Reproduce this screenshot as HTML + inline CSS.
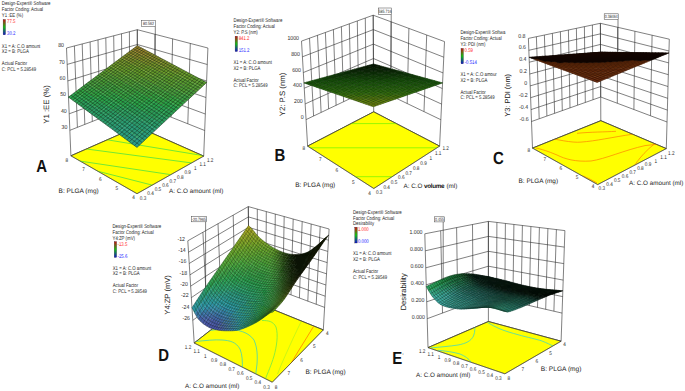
<!DOCTYPE html>
<html><head><meta charset="utf-8"><style>
html,body{margin:0;padding:0;background:#fff;}
svg{display:block;font-family:"Liberation Sans",sans-serif;text-rendering:geometricPrecision;}
</style></head><body>
<svg width="685" height="391" viewBox="0 0 685 391">
<rect width="685" height="391" fill="#fff"/>
<defs><linearGradient id="cbar" x1="0" y1="0" x2="0" y2="1"><stop offset="0" stop-color="#d01010"/><stop offset="0.5" stop-color="#10c010"/><stop offset="1" stop-color="#1010d0"/></linearGradient></defs>
<path d="M69.9 130.3L137.3 103.7M137.3 103.7L204.7 130.5M69.2 113.8L137.3 88.9M137.3 88.9L205.3 114M68.5 97.3L137.3 74.1M137.3 74.1L206 97.5M67.8 80.9L137.3 59.3M137.3 59.3L206.6 81M67.2 64.4L137.3 44.5M137.3 44.5L207.3 64.5M66.5 48L137.3 29.7M137.3 29.7L207.9 48M70.9 155.8L66.5 48M77.4 127.3L74.4 45.9M84.8 124.3L82.2 43.9M92.3 121.4L90.1 41.9M99.8 118.4L98 39.8M107.3 115.5L105.8 37.8M114.8 112.5L113.7 35.8M122.3 109.6L121.5 33.7M129.8 106.6L129.4 31.7M137.3 103.7L137.3 29.7M137.3 126.6L137.3 29.7M154.2 110.4L154.9 34.2M171 117.1L172.6 38.8M187.8 123.8L190.3 43.4M203.7 156.1L207.9 48M70.9 155.8L137.3 126.6M137.3 126.6L203.7 156.1" stroke="#2c2c2c" stroke-width="0.6" fill="none"/>
<clipPath id="fa"><polygon points="137,193.7 203.7,156.1 137.3,126.6 70.9,155.8"/></clipPath>
<polygon points="137,193.7 203.7,156.1 137.3,126.6 70.9,155.8" fill="#ffff00" stroke="#333" stroke-width="0.5" />
<g clip-path="url(#fa)" fill="none">
<path d="M60,132 L220,158.4 M60,145.5 L220,166.7 M60,158.1 L220,182 M60,161.6 L220,202.4" stroke="#74e832" stroke-width="1.0"/>
</g>
<polygon points="137,193.7 203.7,156.1 137.3,126.6 70.9,155.8" fill="none" stroke="#333" stroke-width="0.5" />
<path d="M137 147.4L143.4 141.3L137 136.7L130.5 142.7Z" fill="#2a9c8a" stroke="#2a9c8a" stroke-width="0.35"/>
<path d="M130.5 142.7L137 136.7L130.7 132.2L124.3 138.1Z" fill="#2a9c84" stroke="#2a9c84" stroke-width="0.35"/>
<path d="M124.3 138.1L130.7 132.2L124.6 127.8L118.1 133.5ZM143.4 141.3L149.7 135.4L143.3 130.9L137 136.7Z" fill="#2a9c7e" stroke="#2a9c7e" stroke-width="0.35"/>
<path d="M118.1 133.5L124.6 127.8L118.6 123.5L112.1 129.1ZM137 136.7L143.3 130.9L137 126.5L130.7 132.2ZM130.7 132.2L137 126.5L130.9 122.3L124.6 127.8ZM149.7 135.4L155.9 129.6L149.5 125.2L143.3 130.9Z" fill="#2a9c78" stroke="#2a9c78" stroke-width="0.35"/>
<path d="M112.1 129.1L118.6 123.5L112.7 119.3L106.3 124.8ZM124.6 127.8L130.9 122.3L124.9 118.1L118.6 123.5ZM143.3 130.9L149.5 125.2L143.2 121L137 126.5Z" fill="#2a9c72" stroke="#2a9c72" stroke-width="0.35"/>
<path d="M106.3 124.8L112.7 119.3L106.9 115.2L100.5 120.6ZM118.6 123.5L124.9 118.1L119 114L112.7 119.3ZM137 126.5L143.2 121L137.1 116.8L130.9 122.3ZM155.9 129.6L162 123.9L155.6 119.7L149.5 125.2Z" fill="#2a9c6c" stroke="#2a9c6c" stroke-width="0.35"/>
<path d="M100.5 120.6L106.9 115.2L101.3 111.2L94.9 116.5ZM94.9 116.5L101.3 111.2L95.8 107.3L89.4 112.4ZM112.7 119.3L119 114L113.2 110L106.9 115.2ZM130.9 122.3L137.1 116.8L131 112.7L124.9 118.1ZM149.5 125.2L155.6 119.7L149.3 115.5L143.2 121Z" fill="#2a9c66" stroke="#2a9c66" stroke-width="0.35"/>
<path d="M89.4 112.4L95.8 107.3L90.4 103.4L84 108.5ZM106.9 115.2L113.2 110L107.6 106.1L101.3 111.2ZM124.9 118.1L131 112.7L125.1 108.8L119 114ZM143.2 121L149.3 115.5L143.1 111.5L137.1 116.8ZM162 123.9L168 118.3L161.5 114.2L155.6 119.7Z" fill="#2a9c60" stroke="#2a9c60" stroke-width="0.35"/>
<path d="M84 108.5L90.4 103.4L85.1 99.7L78.7 104.6ZM101.3 111.2L107.6 106.1L102 102.3L95.8 107.3ZM119 114L125.1 108.8L119.4 104.9L113.2 110ZM137.1 116.8L143.1 111.5L137.1 107.5L131 112.7ZM155.6 119.7L161.5 114.2L155.2 110.2L149.3 115.5Z" fill="#2a9c5a" stroke="#2a9c5a" stroke-width="0.35"/>
<path d="M78.7 104.6L85.1 99.7L79.9 96L73.6 100.8ZM95.8 107.3L102 102.3L96.6 98.5L90.4 103.4ZM113.2 110L119.4 104.9L113.7 101.1L107.6 106.1ZM161.5 114.2L167.4 108.9L161.1 105L155.2 110.2Z" fill="#2aa254" stroke="#2aa254" stroke-width="0.35"/>
<path d="M73.6 100.8L79.9 96L74.8 92.4L68.5 97.1ZM90.4 103.4L96.6 98.5L91.3 94.8L85.1 99.7ZM107.6 106.1L113.7 101.1L108.2 97.3L102 102.3ZM125.1 108.8L131.2 103.6L125.4 99.8L119.4 104.9ZM143.1 111.5L149.1 106.2L143 102.4L137.1 107.5ZM155.2 110.2L161.1 105L154.9 101.1L149.1 106.2ZM173.8 112.9L179.5 107.6L173.1 103.7L167.4 108.9Z" fill="#2aa24e" stroke="#2aa24e" stroke-width="0.35"/>
<path d="M85.1 99.7L91.3 94.8L86.1 91.2L79.9 96ZM102 102.3L108.2 97.3L102.7 93.7L96.6 98.5ZM119.4 104.9L125.4 99.8L119.7 96.1L113.7 101.1ZM137.1 107.5L143 102.4L137.1 98.6L131.2 103.6ZM149.1 106.2L154.9 101.1L148.9 97.4L143 102.4ZM167.4 108.9L173.1 103.7L166.8 99.8L161.1 105Z" fill="#2aa248" stroke="#2aa248" stroke-width="0.35"/>
<path d="M79.9 96L86.1 91.2L81 87.7L74.8 92.4ZM96.6 98.5L102.7 93.7L97.4 90.1L91.3 94.8ZM143 102.4L148.9 97.4L142.9 93.7L137.1 98.6ZM161.1 105L166.8 99.8L160.6 96.1L154.9 101.1ZM179.5 107.6L185.1 102.3L178.7 98.5L173.1 103.7Z" fill="#30a242" stroke="#30a242" stroke-width="0.35"/>
<path d="M91.3 94.8L97.4 90.1L92.2 86.6L86.1 91.2ZM108.2 97.3L114.2 92.5L108.7 88.9L102.7 93.7ZM125.4 99.8L131.3 94.9L125.6 91.3L119.7 96.1ZM137.1 98.6L142.9 93.7L137.1 90.1L131.3 94.9ZM154.9 101.1L160.6 96.1L154.6 92.4L148.9 97.4ZM173.1 103.7L178.7 98.5L172.4 94.8L166.8 99.8Z" fill="#36a242" stroke="#36a242" stroke-width="0.35"/>
<path d="M86.1 91.2L92.2 86.6L87.1 83.1L81 87.7ZM102.7 93.7L108.7 88.9L103.4 85.4L97.4 90.1ZM185.1 102.3L190.7 97.2L184.2 93.5L178.7 98.5Z" fill="#3c9c42" stroke="#3c9c42" stroke-width="0.35"/>
<path d="M131 112.7L137.1 107.5L131.2 103.6L125.1 108.8ZM149.3 115.5L155.2 110.2L149.1 106.2L143.1 111.5ZM168 118.3L173.8 112.9L167.4 108.9L161.5 114.2Z" fill="#2a9c54" stroke="#2a9c54" stroke-width="0.35"/>
<path d="M113.7 101.1L119.7 96.1L114.2 92.5L108.2 97.3ZM131.2 103.6L137.1 98.6L131.3 94.9L125.4 99.8Z" fill="#30a248" stroke="#30a248" stroke-width="0.35"/>
<path d="M97.4 90.1L103.4 85.4L98.2 82L92.2 86.6ZM108.7 88.9L114.6 84.3L109.3 80.9L103.4 85.4ZM125.6 91.3L131.5 86.6L125.9 83.1L120.1 87.7ZM142.9 93.7L148.7 88.9L142.9 85.4L137.1 90.1ZM160.6 96.1L166.2 91.2L160.2 87.6L154.6 92.4ZM178.7 98.5L184.2 93.5L177.9 89.9L172.4 94.8Z" fill="#429c3c" stroke="#429c3c" stroke-width="0.35"/>
<path d="M92.2 86.6L98.2 82L93.1 78.7L87.1 83.1ZM137.1 90.1L142.9 85.4L137.2 81.9L131.5 86.6ZM154.6 92.4L160.2 87.6L154.3 84.1L148.7 88.9ZM172.4 94.8L177.9 89.9L171.8 86.4L166.2 91.2ZM190.7 97.2L196.1 92.2L189.6 88.6L184.2 93.5Z" fill="#489c3c" stroke="#489c3c" stroke-width="0.35"/>
<path d="M119.7 96.1L125.6 91.3L120.1 87.7L114.2 92.5Z" fill="#3ca242" stroke="#3ca242" stroke-width="0.35"/>
<path d="M114.2 92.5L120.1 87.7L114.6 84.3L108.7 88.9ZM131.3 94.9L137.1 90.1L131.5 86.6L125.6 91.3ZM148.9 97.4L154.6 92.4L148.7 88.9L142.9 93.7ZM166.8 99.8L172.4 94.8L166.2 91.2L160.6 96.1Z" fill="#3c9c3c" stroke="#3c9c3c" stroke-width="0.35"/>
<path d="M103.4 85.4L109.3 80.9L104.1 77.5L98.2 82ZM120.1 87.7L125.9 83.1L120.4 79.7L114.6 84.3Z" fill="#489c36" stroke="#489c36" stroke-width="0.35"/>
<path d="M98.2 82L104.1 77.5L98.9 74.3L93.1 78.7ZM114.6 84.3L120.4 79.7L115.1 76.4L109.3 80.9ZM131.5 86.6L137.2 81.9L131.6 78.5L125.9 83.1ZM148.7 88.9L154.3 84.1L148.5 80.7L142.9 85.4ZM166.2 91.2L171.8 86.4L165.7 82.9L160.2 87.6ZM184.2 93.5L189.6 88.6L183.3 85.1L177.9 89.9Z" fill="#4e9c36" stroke="#4e9c36" stroke-width="0.35"/>
<path d="M109.3 80.9L115.1 76.4L109.8 73.1L104.1 77.5ZM125.9 83.1L131.6 78.5L126.1 75.2L120.4 79.7ZM142.9 85.4L148.5 80.7L142.8 77.4L137.2 81.9ZM160.2 87.6L165.7 82.9L159.8 79.5L154.3 84.1ZM177.9 89.9L183.3 85.1L177.2 81.6L171.8 86.4ZM196.1 92.2L201.4 87.3L194.9 83.8L189.6 88.6Z" fill="#549c36" stroke="#549c36" stroke-width="0.35"/>
<path d="M104.1 77.5L109.8 73.1L104.7 70L98.9 74.3ZM120.4 79.7L126.1 75.2L120.8 72L115.1 76.4ZM137.2 81.9L142.8 77.4L137.2 74.1L131.6 78.5ZM154.3 84.1L159.8 79.5L154 76.2L148.5 80.7ZM171.8 86.4L177.2 81.6L171.1 78.3L165.7 82.9ZM165.7 82.9L171.1 78.3L165.2 74.9L159.8 79.5ZM183.3 85.1L188.6 80.4L182.5 77L177.2 81.6ZM201.4 87.3L206.6 82.5L200.1 79.1L194.9 83.8Z" fill="#5a9c30" stroke="#5a9c30" stroke-width="0.35"/>
<path d="M115.1 76.4L120.8 72L115.5 68.8L109.8 73.1ZM131.6 78.5L137.2 74.1L131.7 70.9L126.1 75.2ZM148.5 80.7L154 76.2L148.3 72.9L142.8 77.4ZM159.8 79.5L165.2 74.9L159.4 71.7L154 76.2ZM177.2 81.6L182.5 77L176.4 73.7L171.1 78.3ZM194.9 83.8L200.1 79.1L193.9 75.7L188.6 80.4Z" fill="#609c30" stroke="#609c30" stroke-width="0.35"/>
<path d="M109.8 73.1L115.5 68.8L110.4 65.7L104.7 70ZM126.1 75.2L131.7 70.9L126.4 67.7L120.8 72ZM142.8 77.4L148.3 72.9L142.7 69.7L137.2 74.1ZM137.2 74.1L142.7 69.7L137.2 66.6L131.7 70.9ZM154 76.2L159.4 71.7L153.7 68.5L148.3 72.9ZM171.1 78.3L176.4 73.7L170.5 70.5L165.2 74.9ZM188.6 80.4L193.9 75.7L187.7 72.5L182.5 77Z" fill="#669c2a" stroke="#669c2a" stroke-width="0.35"/>
<path d="M120.8 72L126.4 67.7L121.1 64.6L115.5 68.8ZM131.7 70.9L137.2 66.6L131.8 63.5L126.4 67.7ZM148.3 72.9L153.7 68.5L148.1 65.4L142.7 69.7ZM165.2 74.9L170.5 70.5L164.7 67.3L159.4 71.7ZM182.5 77L187.7 72.5L181.6 69.3L176.4 73.7Z" fill="#6c9c2a" stroke="#6c9c2a" stroke-width="0.35"/>
<path d="M115.5 68.8L121.1 64.6L115.9 61.6L110.4 65.7Z" fill="#729c2a" stroke="#729c2a" stroke-width="0.35"/>
<path d="M126.4 67.7L131.8 63.5L126.6 60.5L121.1 64.6ZM142.7 69.7L148.1 65.4L142.6 62.3L137.2 66.6ZM159.4 71.7L164.7 67.3L159 64.2L153.7 68.5ZM176.4 73.7L181.6 69.3L175.7 66.1L170.5 70.5Z" fill="#72962a" stroke="#72962a" stroke-width="0.35"/>
<path d="M121.1 64.6L126.6 60.5L121.4 57.5L115.9 61.6ZM137.2 66.6L142.6 62.3L137.2 59.3L131.8 63.5ZM153.7 68.5L159 64.2L153.4 61.2L148.1 65.4ZM170.5 70.5L175.7 66.1L169.9 63L164.7 67.3Z" fill="#78962a" stroke="#78962a" stroke-width="0.35"/>
<path d="M131.8 63.5L137.2 59.3L132 56.4L126.6 60.5ZM148.1 65.4L153.4 61.2L147.9 58.2L142.6 62.3ZM164.7 67.3L169.9 63L164.2 60L159 64.2Z" fill="#7e902a" stroke="#7e902a" stroke-width="0.35"/>
<path d="M126.6 60.5L132 56.4L126.8 53.5L121.4 57.5ZM142.6 62.3L147.9 58.2L142.5 55.3L137.2 59.3ZM159 64.2L164.2 60L158.6 57L153.4 61.2Z" fill="#84902a" stroke="#84902a" stroke-width="0.35"/>
<path d="M189.6 88.6L194.9 83.8L188.6 80.4L183.3 85.1Z" fill="#549c30" stroke="#549c30" stroke-width="0.35"/>
<path d="M137.2 59.3L142.5 55.3L137.3 52.4L132 56.4ZM153.4 61.2L158.6 57L153.1 54.1L147.9 58.2Z" fill="#8a8a2a" stroke="#8a8a2a" stroke-width="0.35"/>
<path d="M132 56.4L137.3 52.4L132.1 49.6L126.8 53.5ZM147.9 58.2L153.1 54.1L147.8 51.3L142.5 55.3Z" fill="#908a2a" stroke="#908a2a" stroke-width="0.35"/>
<path d="M142.5 55.3L147.8 51.3L142.5 48.5L137.3 52.4Z" fill="#96842a" stroke="#96842a" stroke-width="0.35"/>
<path d="M137.3 52.4L142.5 48.5L137.3 45.7L132.1 49.6Z" fill="#9c842a" stroke="#9c842a" stroke-width="0.35"/>
<path d="M137 147.4L68.5 97.1M137 147.4L206.6 82.5M139.6 145L71 95.2M134.4 145.5L204 81.1M142.1 142.5L73.6 93.3M131.8 143.6L201.4 79.8M144.7 140.1L76.1 91.4M129.3 141.7L198.9 78.4M147.2 137.7L78.5 89.5M126.8 139.9L196.4 77.1M149.7 135.4L81 87.7M124.3 138.1L193.9 75.7M152.2 133L83.4 85.9M121.8 136.2L191.4 74.4M154.7 130.7L85.9 84M119.4 134.4L188.9 73.1M157.2 128.4L88.3 82.2M116.9 132.6L186.5 71.8M159.6 126.2L90.7 80.4M114.5 130.9L184.1 70.5M162 123.9L93.1 78.7M112.1 129.1L181.6 69.3M164.4 121.7L95.4 76.9M109.8 127.4L179.3 68M166.8 119.4L97.8 75.1M107.4 125.7L176.9 66.7M169.1 117.2L100.1 73.4M105.1 124L174.6 65.5M171.5 115.1L102.4 71.7M102.8 122.3L172.2 64.2M173.8 112.9L104.7 70M100.5 120.6L169.9 63M176.1 110.7L107 68.3M98.3 118.9L167.6 61.8M178.4 108.6L109.2 66.6M96 117.3L165.3 60.6M180.7 106.5L111.5 64.9M93.8 115.6L163.1 59.4M182.9 104.4L113.7 63.2M91.6 114L160.8 58.2M185.1 102.3L115.9 61.6M89.4 112.4L158.6 57M187.4 100.3L118.1 59.9M87.2 110.8L156.4 55.9M189.6 98.2L120.3 58.3M85.1 109.3L154.2 54.7M191.7 96.2L122.5 56.7M83 107.7L152.1 53.5M193.9 94.2L124.6 55.1M80.8 106.1L149.9 52.4M196.1 92.2L126.8 53.5M78.7 104.6L147.8 51.3M198.2 90.2L128.9 51.9M76.7 103.1L145.6 50.1M200.3 88.3L131 50.3M74.6 101.6L143.5 49M202.4 86.3L133.1 48.8M72.5 100.1L141.4 47.9M204.5 84.4L135.2 47.2M70.5 98.6L139.3 46.8M206.6 82.5L137.3 45.7M68.5 97.1L137.3 45.7" fill="none" stroke="#142010" stroke-width="0.5" opacity="0.85"/>
<text transform="translate(1.8,5.3) scale(0.8,1)" font-size="5.4" fill="#252525" >Design-Expert® Software</text>
<text transform="translate(1.8,11.2) scale(0.8,1)" font-size="5.4" fill="#252525" >Factor Coding: Actual</text>
<text transform="translate(1.8,17.1) scale(0.8,1)" font-size="5.4" fill="#252525" >Y1 :EE (%)</text>
<rect x="3.1" y="19.5" width="2.4" height="15.3" fill="url(#cbar)" stroke="#222" stroke-width="0.3"/>
<text transform="translate(7,23.4) scale(0.8,1)" font-size="5.4" fill="#ff1818" >77.5</text>
<text transform="translate(7,34.7) scale(0.8,1)" font-size="5.4" fill="#2020ff" >30.2</text>
<text transform="translate(1.8,47.5) scale(0.8,1)" font-size="5.4" fill="#252525" >X1 = A: C.O amount</text>
<text transform="translate(1.8,53.4) scale(0.8,1)" font-size="5.4" fill="#252525" >X2 = B: PLGA</text>
<text transform="translate(1.8,65.2) scale(0.8,1)" font-size="5.4" fill="#252525" >Actual Factor</text>
<text transform="translate(1.8,71.1) scale(0.8,1)" font-size="5.4" fill="#252525" >C: PCL = 5.28549</text>
<text transform="translate(64,47.1) scale(0.9,1)" font-size="5.8" fill="#2a2a2a" text-anchor="end" >80</text>
<text transform="translate(64.7,63.5) scale(0.9,1)" font-size="5.8" fill="#2a2a2a" text-anchor="end" >70</text>
<text transform="translate(65.3,80) scale(0.9,1)" font-size="5.8" fill="#2a2a2a" text-anchor="end" >60</text>
<text transform="translate(66,96.4) scale(0.9,1)" font-size="5.8" fill="#2a2a2a" text-anchor="end" >50</text>
<text transform="translate(66.7,112.9) scale(0.9,1)" font-size="5.8" fill="#2a2a2a" text-anchor="end" >40</text>
<text transform="translate(67.4,129.4) scale(0.9,1)" font-size="5.8" fill="#2a2a2a" text-anchor="end" >30</text>
<text transform="translate(66.8,161.8) scale(0.86,1)" font-size="5.4" fill="#2a2a2a" text-anchor="middle" >8</text>
<text transform="translate(83.5,171.2) scale(0.86,1)" font-size="5.4" fill="#2a2a2a" text-anchor="middle" >7</text>
<text transform="translate(100.2,180.6) scale(0.86,1)" font-size="5.4" fill="#2a2a2a" text-anchor="middle" >6</text>
<text transform="translate(116.8,190) scale(0.86,1)" font-size="5.4" fill="#2a2a2a" text-anchor="middle" >5</text>
<text transform="translate(133.5,199.3) scale(0.86,1)" font-size="5.4" fill="#2a2a2a" text-anchor="middle" >4</text>
<text transform="translate(143,199.5) scale(0.86,1)" font-size="5.4" fill="#2a2a2a" text-anchor="middle" >0.3</text>
<text transform="translate(150.5,195.3) scale(0.86,1)" font-size="5.4" fill="#2a2a2a" text-anchor="middle" >0.4</text>
<text transform="translate(157.9,191.1) scale(0.86,1)" font-size="5.4" fill="#2a2a2a" text-anchor="middle" >0.5</text>
<text transform="translate(165.4,186.9) scale(0.86,1)" font-size="5.4" fill="#2a2a2a" text-anchor="middle" >0.6</text>
<text transform="translate(172.8,182.7) scale(0.86,1)" font-size="5.4" fill="#2a2a2a" text-anchor="middle" >0.7</text>
<text transform="translate(180.3,178.5) scale(0.86,1)" font-size="5.4" fill="#2a2a2a" text-anchor="middle" >0.8</text>
<text transform="translate(187.7,174.3) scale(0.86,1)" font-size="5.4" fill="#2a2a2a" text-anchor="middle" >0.9</text>
<text transform="translate(195.2,170.1) scale(0.86,1)" font-size="5.4" fill="#2a2a2a" text-anchor="middle" >1</text>
<text transform="translate(202.6,165.9) scale(0.86,1)" font-size="5.4" fill="#2a2a2a" text-anchor="middle" >1.1</text>
<text transform="translate(210.1,161.6) scale(0.86,1)" font-size="5.4" fill="#2a2a2a" text-anchor="middle" >1.2</text>
<text x="58.6" y="193.3" font-size="6.5" fill="#222" >B: PLGA (mg)</text>
<text x="169" y="193.3" font-size="6.3" fill="#222" >A: C.O amount (ml)</text>
<text transform="translate(48.6,104.5) rotate(-90)" font-size="7.8" fill="#222" text-anchor="middle">Y1 :EE (%)</text>
<text transform="translate(36.2,172.1) scale(0.85,1)" font-size="17.6" font-weight="bold" fill="#111">A</text>
<rect x="141.6" y="20.5" width="14" height="5.8" fill="#fff" stroke="#444" stroke-width="0.5"/>
<text transform="translate(148.6,25) scale(0.78,1)" font-size="4.6" fill="#333" text-anchor="middle" >80.562</text>
<line x1="155.3" y1="26.3" x2="155.3" y2="55" stroke="#2c2c2c" stroke-width="0.6" />
<path d="M306.1 119.6L373.6 87.4M373.6 87.4L440.8 119.7M305.2 103.9L373.5 73M373.5 73L441.6 104.1M304.3 88.2L373.5 58.5M373.5 58.5L442.3 88.5M303.4 72.5L373.4 44.1M373.4 44.1L443 72.9M302.4 56.8L373.3 29.6M373.3 29.6L443.8 57.2M301.5 41.1L373.2 15.2M373.2 15.2L444.5 41.6M307.6 146.1L301.5 41.1M313.6 116L309.5 38.2M321.1 112.4L317.5 35.3M328.6 108.9L325.4 32.5M336.1 105.3L333.4 29.6M343.6 101.7L341.4 26.7M351.1 98.1L349.3 23.8M358.6 94.6L357.3 21M366.1 91L365.3 18.1M373.6 87.4L373.2 15.2M373.7 111.8L373.2 15.2M390.4 95.5L391.1 21.8M407.2 103.6L408.9 28.4M424 111.6L426.7 35M439.6 146.1L444.5 41.6M307.6 146.1L373.7 111.8M373.7 111.8L439.6 146.1" stroke="#2c2c2c" stroke-width="0.6" fill="none"/>
<clipPath id="fb"><polygon points="373.8,188.5 439.6,146.1 373.7,111.8 307.6,146.1"/></clipPath>
<polygon points="373.8,188.5 439.6,146.1 373.7,111.8 307.6,146.1" fill="#ffff00" stroke="#333" stroke-width="0.5" />
<g clip-path="url(#fb)" fill="none">
<path d="M300,123.6 L450,123.6 M300,147.8 L450,147.8 M300,176.7 L450,176.7" stroke="#98f800" stroke-width="1.0"/>
</g>
<polygon points="373.8,188.5 439.6,146.1 373.7,111.8 307.6,146.1" fill="none" stroke="#333" stroke-width="0.5" />
<path d="M373.3 106.7L381.1 104L373.4 101.4L365.6 104Z" fill="#849c12" stroke="#849c12" stroke-width="0.35"/>
<path d="M365.6 104L373.4 101.4L365.8 98.9L358 101.4ZM381.1 104L388.7 101.4L380.9 98.9L373.4 101.4Z" fill="#789c12" stroke="#789c12" stroke-width="0.35"/>
<path d="M358 101.4L365.8 98.9L358.4 96.4L350.7 98.9ZM373.4 101.4L380.9 98.9L373.4 96.4L365.8 98.9ZM388.7 101.4L396 98.9L388.3 96.4L380.9 98.9Z" fill="#6c9612" stroke="#6c9612" stroke-width="0.35"/>
<path d="M350.7 98.9L358.4 96.4L351.3 94L343.5 96.4ZM365.8 98.9L373.4 96.4L366 94L358.4 96.4ZM380.9 98.9L388.3 96.4L380.8 94L373.4 96.4ZM396 98.9L403.2 96.4L395.5 94L388.3 96.4Z" fill="#5a9012" stroke="#5a9012" stroke-width="0.35"/>
<path d="M343.5 96.4L351.3 94L344.3 91.7L336.5 94ZM358.4 96.4L366 94L358.8 91.6L351.3 94ZM373.4 96.4L380.8 94L373.4 91.6L366 94ZM388.3 96.4L395.5 94L387.9 91.6L380.8 94ZM403.2 96.4L410.2 94L402.5 91.6L395.5 94Z" fill="#489012" stroke="#489012" stroke-width="0.35"/>
<path d="M336.5 94L344.3 91.7L337.4 89.4L329.7 91.7ZM351.3 94L358.8 91.6L351.8 89.4L344.3 91.7ZM366 94L373.4 91.6L366.2 89.3L358.8 91.6ZM380.8 94L387.9 91.6L380.6 89.3L373.4 91.6ZM395.5 94L402.5 91.6L395 89.3L387.9 91.6ZM410.2 94L417 91.7L409.3 89.4L402.5 91.6Z" fill="#3c8a12" stroke="#3c8a12" stroke-width="0.35"/>
<path d="M329.7 91.7L337.4 89.4L330.7 87.2L323 89.4ZM344.3 91.7L351.8 89.4L345 87.1L337.4 89.4ZM358.8 91.6L366.2 89.3L359.2 87.1L351.8 89.4ZM373.4 91.6L380.6 89.3L373.4 87.1L366.2 89.3ZM387.9 91.6L395 89.3L387.6 87.1L380.6 89.3ZM402.5 91.6L409.3 89.4L401.8 87.1L395 89.3ZM417 91.7L423.6 89.4L416 87.1L409.3 89.4Z" fill="#368412" stroke="#368412" stroke-width="0.35"/>
<path d="M323 89.4L330.7 87.2L324.2 85L316.5 87.2ZM337.4 89.4L345 87.1L338.3 85L330.7 87.2ZM351.8 89.4L359.2 87.1L352.4 84.9L345 87.1ZM366.2 89.3L373.4 87.1L366.4 84.9L359.2 87.1ZM380.6 89.3L387.6 87.1L380.4 84.9L373.4 87.1ZM395 89.3L401.8 87.1L394.5 84.9L387.6 87.1ZM409.3 89.4L416 87.1L408.5 85L401.8 87.1ZM423.6 89.4L430.1 87.2L422.4 85L416 87.1Z" fill="#307e12" stroke="#307e12" stroke-width="0.35"/>
<path d="M316.5 87.2L324.2 85L317.9 82.9L310.1 85ZM330.7 87.2L338.3 85L331.8 82.8L324.2 85ZM345 87.1L352.4 84.9L345.7 82.8L338.3 85ZM359.2 87.1L366.4 84.9L359.6 82.8L352.4 84.9ZM373.4 87.1L380.4 84.9L373.4 82.8L366.4 84.9ZM387.6 87.1L394.5 84.9L387.3 82.8L380.4 84.9ZM401.8 87.1L408.5 85L401.1 82.8L394.5 84.9ZM416 87.1L422.4 85L415 82.8L408.5 85ZM430.1 87.2L436.4 85L428.8 82.9L422.4 85Z" fill="#2a7812" stroke="#2a7812" stroke-width="0.35"/>
<path d="M310.1 85L317.9 82.9L311.7 80.8L303.9 82.9ZM324.2 85L331.8 82.8L325.4 80.8L317.9 82.9ZM338.3 85L345.7 82.8L339.1 80.7L331.8 82.8ZM352.4 84.9L359.6 82.8L352.9 80.7L345.7 82.8ZM366.4 84.9L373.4 82.8L366.6 80.7L359.6 82.8ZM380.4 84.9L387.3 82.8L380.3 80.7L373.4 82.8ZM394.5 84.9L401.1 82.8L394 80.7L387.3 82.8ZM408.5 85L415 82.8L407.6 80.7L401.1 82.8ZM422.4 85L428.8 82.9L421.3 80.8L415 82.8ZM436.4 85L442.6 82.9L434.9 80.8L428.8 82.9Z" fill="#247212" stroke="#247212" stroke-width="0.35"/>
<path d="M317.9 82.9L325.4 80.8L319.2 78.7L311.7 80.8ZM428.8 82.9L434.9 80.8L427.5 78.8L421.3 80.8Z" fill="#1e6c12" stroke="#1e6c12" stroke-width="0.35"/>
<path d="M331.8 82.8L339.1 80.7L332.8 78.7L325.4 80.8ZM345.7 82.8L352.9 80.7L346.3 78.7L339.1 80.7ZM359.6 82.8L366.6 80.7L359.9 78.7L352.9 80.7ZM373.4 82.8L380.3 80.7L373.4 78.7L366.6 80.7ZM387.3 82.8L394 80.7L387 78.7L380.3 80.7ZM401.1 82.8L407.6 80.7L400.5 78.7L394 80.7ZM415 82.8L421.3 80.8L414 78.7L407.6 80.7Z" fill="#1e6c0c" stroke="#1e6c0c" stroke-width="0.35"/>
<path d="M325.4 80.8L332.8 78.7L326.5 76.7L319.2 78.7ZM339.1 80.7L346.3 78.7L340 76.7L332.8 78.7ZM352.9 80.7L359.9 78.7L353.4 76.7L346.3 78.7ZM394 80.7L400.5 78.7L393.5 76.7L387 78.7ZM407.6 80.7L414 78.7L406.9 76.7L400.5 78.7ZM421.3 80.8L427.5 78.8L420.2 76.8L414 78.7Z" fill="#18600c" stroke="#18600c" stroke-width="0.35"/>
<path d="M332.8 78.7L340 76.7L333.7 74.8L326.5 76.7ZM346.3 78.7L353.4 76.7L347 74.8L340 76.7ZM359.9 78.7L366.8 76.7L360.2 74.8L353.4 76.7ZM373.4 78.7L380.1 76.7L373.5 74.8L366.8 76.7ZM387 78.7L393.5 76.7L386.7 74.8L380.1 76.7ZM400.5 78.7L406.9 76.7L399.9 74.8L393.5 76.7ZM414 78.7L420.2 76.8L413.1 74.8L406.9 76.7Z" fill="#18540c" stroke="#18540c" stroke-width="0.35"/>
<path d="M340 76.7L347 74.8L340.7 72.9L333.7 74.8ZM353.4 76.7L360.2 74.8L353.8 72.9L347 74.8ZM366.8 76.7L373.5 74.8L366.9 72.9L360.2 74.8ZM380.1 76.7L386.7 74.8L380 72.9L373.5 74.8ZM393.5 76.7L399.9 74.8L393.1 72.9L386.7 74.8ZM406.9 76.7L413.1 74.8L406.1 72.9L399.9 74.8Z" fill="#12480c" stroke="#12480c" stroke-width="0.35"/>
<path d="M366.6 80.7L373.4 78.7L366.8 76.7L359.9 78.7ZM380.3 80.7L387 78.7L380.1 76.7L373.4 78.7Z" fill="#185a0c" stroke="#185a0c" stroke-width="0.35"/>
<path d="M347 74.8L353.8 72.9L347.6 71L340.7 72.9ZM360.2 74.8L366.9 72.9L360.5 71L353.8 72.9ZM373.5 74.8L380 72.9L373.5 71L366.9 72.9ZM386.7 74.8L393.1 72.9L386.4 71L380 72.9ZM399.9 74.8L406.1 72.9L399.3 71L393.1 72.9Z" fill="#0c3c06" stroke="#0c3c06" stroke-width="0.35"/>
<path d="M353.8 72.9L360.5 71L354.3 69.2L347.6 71ZM366.9 72.9L373.5 71L367.1 69.2L360.5 71ZM380 72.9L386.4 71L379.9 69.2L373.5 71ZM393.1 72.9L399.3 71L392.7 69.2L386.4 71Z" fill="#0c3006" stroke="#0c3006" stroke-width="0.35"/>
<path d="M360.5 71L367.1 69.2L360.8 67.4L354.3 69.2ZM373.5 71L379.9 69.2L373.5 67.4L367.1 69.2ZM386.4 71L392.7 69.2L386.1 67.4L379.9 69.2Z" fill="#062406" stroke="#062406" stroke-width="0.35"/>
<path d="M367.1 69.2L373.5 67.4L367.2 65.7L360.8 67.4ZM379.9 69.2L386.1 67.4L379.7 65.7L373.5 67.4Z" fill="#061e00" stroke="#061e00" stroke-width="0.35"/>
<path d="M373.5 67.4L379.7 65.7L373.5 64L367.2 65.7Z" fill="#001200" stroke="#001200" stroke-width="0.35"/>
<path d="M373.3 106.7L303.9 82.9M373.3 106.7L442.6 82.9M376 105.8L306.5 82.2M370.7 105.8L440 82.2M378.6 104.9L309.1 81.5M368.1 104.9L437.5 81.5M381.1 104L311.7 80.8M365.6 104L434.9 80.8M383.7 103.1L314.2 80.1M363 103.2L432.4 80.1M386.2 102.3L316.7 79.4M360.5 102.3L430 79.4M388.7 101.4L319.2 78.7M358 101.4L427.5 78.8M391.2 100.6L321.7 78.1M355.6 100.6L425.1 78.1M393.6 99.7L324.1 77.4M353.1 99.7L422.6 77.4M396 98.9L326.5 76.7M350.7 98.9L420.2 76.8M398.5 98L328.9 76.1M348.2 98.1L417.8 76.1M400.8 97.2L331.3 75.4M345.9 97.2L415.5 75.5M403.2 96.4L333.7 74.8M343.5 96.4L413.1 74.8M405.6 95.6L336.1 74.2M341.1 95.6L410.8 74.2M407.9 94.8L338.4 73.5M338.8 94.8L408.4 73.5M410.2 94L340.7 72.9M336.5 94L406.1 72.9M412.5 93.2L343 72.3M334.2 93.2L403.8 72.3M414.8 92.4L345.3 71.6M331.9 92.5L401.6 71.7M417 91.7L347.6 71M329.7 91.7L399.3 71M419.2 90.9L349.8 70.4M327.4 90.9L397.1 70.4M421.4 90.1L352.1 69.8M325.2 90.2L394.9 69.8M423.6 89.4L354.3 69.2M323 89.4L392.7 69.2M425.8 88.6L356.5 68.6M320.8 88.7L390.5 68.6M428 87.9L358.7 68M318.6 87.9L388.3 68M430.1 87.2L360.8 67.4M316.5 87.2L386.1 67.4M432.2 86.4L363 66.8M314.4 86.5L384 66.9M434.3 85.7L365.1 66.3M312.2 85.7L381.9 66.3M436.4 85L367.2 65.7M310.1 85L379.7 65.7M438.5 84.3L369.3 65.1M308.1 84.3L377.6 65.1M440.5 83.6L371.4 64.6M306 83.6L375.6 64.6M442.6 82.9L373.5 64M303.9 82.9L373.5 64" fill="none" stroke="#0a1a05" stroke-width="0.45" opacity="0.85"/>
<text transform="translate(233.6,22) scale(0.8,1)" font-size="5.4" fill="#252525" >Design-Expert® Software</text>
<text transform="translate(233.6,27.9) scale(0.8,1)" font-size="5.4" fill="#252525" >Factor Coding: Actual</text>
<text transform="translate(233.6,33.8) scale(0.8,1)" font-size="5.4" fill="#252525" >Y2: P.S (nm)</text>
<rect x="235.1" y="36.2" width="2.4" height="15.3" fill="url(#cbar)" stroke="#222" stroke-width="0.3"/>
<text transform="translate(238.7,40) scale(0.8,1)" font-size="5.4" fill="#ff1818" >841.2</text>
<text transform="translate(238.7,51.8) scale(0.8,1)" font-size="5.4" fill="#2020ff" >151.2</text>
<text transform="translate(233.4,63.8) scale(0.8,1)" font-size="5.4" fill="#252525" >X1 = A: C.O amount</text>
<text transform="translate(233.4,69.7) scale(0.8,1)" font-size="5.4" fill="#252525" >X2 = B: PLGA</text>
<text transform="translate(233.4,81.5) scale(0.8,1)" font-size="5.4" fill="#252525" >Actual Factor</text>
<text transform="translate(233.4,87.4) scale(0.8,1)" font-size="5.4" fill="#252525" >C: PCL = 5.28549</text>
<text transform="translate(299,40.2) scale(0.9,1)" font-size="5.8" fill="#2a2a2a" text-anchor="end" >1000</text>
<text transform="translate(299.9,55.9) scale(0.9,1)" font-size="5.8" fill="#2a2a2a" text-anchor="end" >800</text>
<text transform="translate(300.9,71.6) scale(0.9,1)" font-size="5.8" fill="#2a2a2a" text-anchor="end" >600</text>
<text transform="translate(301.8,87.3) scale(0.9,1)" font-size="5.8" fill="#2a2a2a" text-anchor="end" >400</text>
<text transform="translate(302.7,103) scale(0.9,1)" font-size="5.8" fill="#2a2a2a" text-anchor="end" >200</text>
<text transform="translate(303.6,118.7) scale(0.9,1)" font-size="5.8" fill="#2a2a2a" text-anchor="end" >0</text>
<text transform="translate(303.9,149.5) scale(0.86,1)" font-size="5.4" fill="#2a2a2a" text-anchor="middle" >8</text>
<text transform="translate(320.3,160.9) scale(0.86,1)" font-size="5.4" fill="#2a2a2a" text-anchor="middle" >7</text>
<text transform="translate(336.8,172.2) scale(0.86,1)" font-size="5.4" fill="#2a2a2a" text-anchor="middle" >6</text>
<text transform="translate(353.2,183.5) scale(0.86,1)" font-size="5.4" fill="#2a2a2a" text-anchor="middle" >5</text>
<text transform="translate(369.6,194.8) scale(0.86,1)" font-size="5.4" fill="#2a2a2a" text-anchor="middle" >4</text>
<text transform="translate(379.2,194.2) scale(0.86,1)" font-size="5.4" fill="#2a2a2a" text-anchor="middle" >0.3</text>
<text transform="translate(386.6,189.3) scale(0.86,1)" font-size="5.4" fill="#2a2a2a" text-anchor="middle" >0.4</text>
<text transform="translate(394,184.4) scale(0.86,1)" font-size="5.4" fill="#2a2a2a" text-anchor="middle" >0.5</text>
<text transform="translate(401.3,179.4) scale(0.86,1)" font-size="5.4" fill="#2a2a2a" text-anchor="middle" >0.6</text>
<text transform="translate(408.7,174.5) scale(0.86,1)" font-size="5.4" fill="#2a2a2a" text-anchor="middle" >0.7</text>
<text transform="translate(416.1,169.5) scale(0.86,1)" font-size="5.4" fill="#2a2a2a" text-anchor="middle" >0.8</text>
<text transform="translate(423.5,164.6) scale(0.86,1)" font-size="5.4" fill="#2a2a2a" text-anchor="middle" >0.9</text>
<text transform="translate(430.8,159.6) scale(0.86,1)" font-size="5.4" fill="#2a2a2a" text-anchor="middle" >1</text>
<text transform="translate(438.2,154.7) scale(0.86,1)" font-size="5.4" fill="#2a2a2a" text-anchor="middle" >1.1</text>
<text transform="translate(445.6,149.7) scale(0.86,1)" font-size="5.4" fill="#2a2a2a" text-anchor="middle" >1.2</text>
<text x="295.2" y="187.4" font-size="6.5" fill="#222" >B: PLGA (mg)</text>
<text x="403.5" y="187.6" font-size="6.3" fill="#222" >A: C.O </text>
<text x="424" y="187.6" font-size="6.3" fill="#111" font-weight="bold" letter-spacing="-0.3">volume</text>
<text x="446.5" y="187.6" font-size="6.3" fill="#222" >(ml)</text>
<text transform="translate(284.8,94.5) rotate(-90)" font-size="7.8" fill="#222" text-anchor="middle">Y2: P.S (nm)</text>
<text transform="translate(274.6,161.4) scale(0.85,1)" font-size="17.6" font-weight="bold" fill="#111">B</text>
<rect x="378.3" y="8" width="13.3" height="6.3" fill="#fff" stroke="#444" stroke-width="0.5"/>
<text transform="translate(384.9,13) scale(0.78,1)" font-size="4.6" fill="#333" text-anchor="middle" >585.716</text>
<line x1="391.2" y1="14.3" x2="391.2" y2="68" stroke="#2c2c2c" stroke-width="0.6" />
<path d="M531.5 121.5L600.7 97M600.7 97L667.1 122M531 109.6L600.7 86.5M600.7 86.5L667.4 110.1M530.6 97.7L600.6 75.9M600.6 75.9L667.7 98.3M530.1 85.9L600.6 65.4M600.6 65.4L668 86.5M529.7 74L600.6 54.9M600.6 54.9L668.4 74.7M529.3 62.2L600.5 44.4M600.5 44.4L668.7 62.9M528.8 50.3L600.5 33.8M600.5 33.8L669 51M528.4 38.4L600.4 23.3M600.4 23.3L669.3 39.2M532.5 148.1L528.4 38.4M539.2 118.7L536.4 36.8M546.9 116L544.4 35.1M554.6 113.3L552.4 33.4M562.3 110.6L560.4 31.7M570 107.9L568.4 30M577.6 105.1L576.4 28.4M585.3 102.4L584.4 26.7M593 99.7L592.4 25M600.7 97L600.4 23.3M600.8 120.7L600.4 23.3M617.3 103.2L617.6 27.3M633.9 109.5L634.9 31.3M650.5 115.7L652.1 35.2M666.3 148.6L669.3 39.2M532.5 148.1L600.8 120.7M600.8 120.7L666.3 148.6" stroke="#2c2c2c" stroke-width="0.6" fill="none"/>
<clipPath id="fc"><polygon points="597.7,184.6 666.3,148.6 600.8,120.7 532.5,148.1"/></clipPath>
<polygon points="597.7,184.6 666.3,148.6 600.8,120.7 532.5,148.1" fill="#ffff00" stroke="#333" stroke-width="0.5" />
<g clip-path="url(#fc)" fill="none">
<path d="M577,133.3 C590,132 605,132 616,131.3 M545,137 C556,139.5 572,143 581,142.1 C596,141 611,137.4 634,134 L660,130 M536,148 C545,150 552,153 557,155 C565,159 575,162 591,161 C605,159 625,150 645,145.6 L668,143 M660,140 C652,145 645,152 640,158 C636,163 634,166 633,170 M583,176 C588,178 592,180 597,183" stroke="#ff8a00" stroke-width="0.75"/>
</g>
<polygon points="597.7,184.6 666.3,148.6 600.8,120.7 532.5,148.1" fill="none" stroke="#333" stroke-width="0.5" />
<path d="M597.1 82.4L600.6 81L597.3 79.8L593.9 81.2ZM593.9 81.2L597.3 79.8L594.1 78.7L590.7 80ZM590.7 80L594.1 78.7L590.9 77.6L587.5 78.8ZM587.5 78.8L590.9 77.6L587.8 76.5L584.3 77.7ZM584.3 77.7L587.8 76.5L584.7 75.4L581.2 76.5ZM600.6 81L604 79.6L600.7 78.5L597.3 79.8ZM597.3 79.8L600.7 78.5L597.5 77.4L594.1 78.7ZM594.1 78.7L597.5 77.4L594.3 76.4L590.9 77.6ZM604 79.6L607.4 78.2L604.1 77.2L600.7 78.5ZM600.7 78.5L604.1 77.2L600.9 76.2L597.5 77.4ZM607.4 78.2L610.7 76.9L607.4 75.9L604.1 77.2Z" fill="#723012" stroke="#723012" stroke-width="0.35"/>
<path d="M581.2 76.5L584.7 75.4L581.6 74.3L578.2 75.4ZM578.2 75.4L581.6 74.3L578.6 73.3L575.2 74.3ZM575.2 74.3L578.6 73.3L575.6 72.2L572.2 73.2ZM590.9 77.6L594.3 76.4L591.2 75.3L587.8 76.5ZM587.8 76.5L591.2 75.3L588.1 74.3L584.7 75.4ZM584.7 75.4L588.1 74.3L585 73.2L581.6 74.3ZM581.6 74.3L585 73.2L582 72.2L578.6 73.3ZM578.6 73.3L582 72.2L579 71.2L575.6 72.2ZM597.5 77.4L600.9 76.2L597.7 75.1L594.3 76.4ZM594.3 76.4L597.7 75.1L594.5 74.1L591.2 75.3ZM591.2 75.3L594.5 74.1L591.4 73.2L588.1 74.3ZM588.1 74.3L591.4 73.2L588.4 72.2L585 73.2ZM585 73.2L588.4 72.2L585.3 71.2L582 72.2ZM604.1 77.2L607.4 75.9L604.2 74.9L600.9 76.2ZM600.9 76.2L604.2 74.9L601 73.9L597.7 75.1ZM597.7 75.1L601 73.9L597.8 73L594.5 74.1ZM594.5 74.1L597.8 73L594.7 72.1L591.4 73.2ZM610.7 76.9L613.9 75.5L610.7 74.6L607.4 75.9ZM607.4 75.9L610.7 74.6L607.4 73.7L604.2 74.9ZM604.2 74.9L607.4 73.7L604.3 72.8L601 73.9ZM601 73.9L604.3 72.8L601.1 71.9L597.8 73ZM613.9 75.5L617.2 74.2L613.9 73.3L610.7 74.6ZM610.7 74.6L613.9 73.3L610.7 72.4L607.4 73.7ZM607.4 73.7L610.7 72.4L607.5 71.6L604.3 72.8ZM617.2 74.2L620.4 72.9L617.1 72L613.9 73.3ZM613.9 73.3L617.1 72L613.9 71.2L610.7 72.4Z" fill="#783612" stroke="#783612" stroke-width="0.35"/>
<path d="M572.2 73.2L575.6 72.2L572.7 71.2L569.2 72.1ZM569.2 72.1L572.7 71.2L569.7 70.2L566.3 71ZM566.3 71L569.7 70.2L566.9 69.1L563.4 70ZM563.4 70L566.9 69.1L564 68.1L560.6 68.9ZM575.6 72.2L579 71.2L576 70.3L572.7 71.2ZM572.7 71.2L576 70.3L573.1 69.3L569.7 70.2ZM569.7 70.2L573.1 69.3L570.3 68.3L566.9 69.1ZM582 72.2L585.3 71.2L582.3 70.3L579 71.2ZM579 71.2L582.3 70.3L579.4 69.3L576 70.3ZM576 70.3L579.4 69.3L576.5 68.4L573.1 69.3ZM591.4 73.2L594.7 72.1L591.7 71.1L588.4 72.2ZM588.4 72.2L591.7 71.1L588.6 70.2L585.3 71.2ZM585.3 71.2L588.6 70.2L585.7 69.3L582.3 70.3ZM582.3 70.3L585.7 69.3L582.7 68.4L579.4 69.3ZM597.8 73L601.1 71.9L598 71L594.7 72.1ZM594.7 72.1L598 71L594.9 70.1L591.7 71.1ZM591.7 71.1L594.9 70.1L591.9 69.2L588.6 70.2ZM588.6 70.2L591.9 69.2L588.9 68.4L585.7 69.3ZM604.3 72.8L607.5 71.6L604.3 70.7L601.1 71.9ZM601.1 71.9L604.3 70.7L601.2 69.9L598 71ZM598 71L601.2 69.9L598.2 69.1L594.9 70.1ZM594.9 70.1L598.2 69.1L595.1 68.3L591.9 69.2ZM610.7 72.4L613.9 71.2L610.7 70.4L607.5 71.6ZM607.5 71.6L610.7 70.4L607.5 69.6L604.3 70.7ZM604.3 70.7L607.5 69.6L604.4 68.9L601.2 69.9ZM601.2 69.9L604.4 68.9L601.4 68.1L598.2 69.1ZM620.4 72.9L623.5 71.6L620.2 70.8L617.1 72ZM617.1 72L620.2 70.8L617 70L613.9 71.2ZM613.9 71.2L617 70L613.8 69.3L610.7 70.4ZM610.7 70.4L613.8 69.3L610.7 68.5L607.5 69.6ZM607.5 69.6L610.7 68.5L607.6 67.8L604.4 68.9ZM623.5 71.6L626.6 70.3L623.3 69.6L620.2 70.8ZM620.2 70.8L623.3 69.6L620.1 68.9L617 70ZM617 70L620.1 68.9L616.9 68.2L613.8 69.3ZM626.6 70.3L629.7 69L626.4 68.4L623.3 69.6ZM623.3 69.6L626.4 68.4L623.2 67.7L620.1 68.9Z" fill="#7e3612" stroke="#7e3612" stroke-width="0.35"/>
<path d="M560.6 68.9L564 68.1L561.2 67.2L557.8 67.9ZM557.8 67.9L561.2 67.2L558.5 66.2L555 66.9ZM555 66.9L558.5 66.2L555.7 65.2L552.3 65.9ZM552.3 65.9L555.7 65.2L553 64.3L549.6 64.9ZM549.6 64.9L553 64.3L550.3 63.3L546.9 63.9ZM546.9 63.9L550.3 63.3L547.7 62.4L544.3 62.9ZM544.3 62.9L547.7 62.4L545.1 61.5L541.7 61.9ZM541.7 61.9L545.1 61.5L542.5 60.6L539.1 61ZM539.1 61L542.5 60.6L540 59.7L536.5 60.1ZM536.5 60.1L540 59.7L537.4 58.8L534 59.1ZM566.9 69.1L570.3 68.3L567.4 67.4L564 68.1ZM564 68.1L567.4 67.4L564.6 66.4L561.2 67.2ZM561.2 67.2L564.6 66.4L561.8 65.5L558.5 66.2ZM558.5 66.2L561.8 65.5L559.1 64.6L555.7 65.2ZM555.7 65.2L559.1 64.6L556.4 63.7L553 64.3ZM553 64.3L556.4 63.7L553.7 62.8L550.3 63.3ZM550.3 63.3L553.7 62.8L551.1 61.9L547.7 62.4ZM547.7 62.4L551.1 61.9L548.5 61L545.1 61.5ZM573.1 69.3L576.5 68.4L573.6 67.5L570.3 68.3ZM570.3 68.3L573.6 67.5L570.8 66.6L567.4 67.4ZM567.4 67.4L570.8 66.6L567.9 65.7L564.6 66.4ZM564.6 66.4L567.9 65.7L565.2 64.8L561.8 65.5ZM561.8 65.5L565.2 64.8L562.4 64L559.1 64.6ZM559.1 64.6L562.4 64L559.7 63.1L556.4 63.7ZM556.4 63.7L559.7 63.1L557 62.3L553.7 62.8ZM553.7 62.8L557 62.3L554.4 61.4L551.1 61.9ZM579.4 69.3L582.7 68.4L579.8 67.6L576.5 68.4ZM576.5 68.4L579.8 67.6L576.9 66.7L573.6 67.5ZM573.6 67.5L576.9 66.7L574.1 65.8L570.8 66.6ZM570.8 66.6L574.1 65.8L571.2 65L567.9 65.7ZM567.9 65.7L571.2 65L568.5 64.2L565.2 64.8ZM565.2 64.8L568.5 64.2L565.7 63.3L562.4 64ZM562.4 64L565.7 63.3L563 62.5L559.7 63.1ZM585.7 69.3L588.9 68.4L586 67.6L582.7 68.4ZM582.7 68.4L586 67.6L583.1 66.7L579.8 67.6ZM579.8 67.6L583.1 66.7L580.2 65.9L576.9 66.7ZM576.9 66.7L580.2 65.9L577.3 65.1L574.1 65.8ZM574.1 65.8L577.3 65.1L574.5 64.3L571.2 65ZM571.2 65L574.5 64.3L571.7 63.5L568.5 64.2ZM568.5 64.2L571.7 63.5L569 62.7L565.7 63.3ZM565.7 63.3L569 62.7L566.3 62L563 62.5ZM591.9 69.2L595.1 68.3L592.1 67.5L588.9 68.4ZM588.9 68.4L592.1 67.5L589.2 66.7L586 67.6ZM586 67.6L589.2 66.7L586.3 65.9L583.1 66.7ZM583.1 66.7L586.3 65.9L583.4 65.1L580.2 65.9ZM580.2 65.9L583.4 65.1L580.5 64.4L577.3 65.1ZM577.3 65.1L580.5 64.4L577.7 63.6L574.5 64.3ZM574.5 64.3L577.7 63.6L574.9 62.9L571.7 63.5ZM571.7 63.5L574.9 62.9L572.2 62.1L569 62.7ZM598.2 69.1L601.4 68.1L598.3 67.3L595.1 68.3ZM595.1 68.3L598.3 67.3L595.3 66.6L592.1 67.5ZM592.1 67.5L595.3 66.6L592.4 65.8L589.2 66.7ZM589.2 66.7L592.4 65.8L589.5 65.1L586.3 65.9ZM586.3 65.9L589.5 65.1L586.6 64.4L583.4 65.1ZM583.4 65.1L586.6 64.4L583.7 63.6L580.5 64.4ZM580.5 64.4L583.7 63.6L580.9 62.9L577.7 63.6ZM577.7 63.6L580.9 62.9L578.1 62.2L574.9 62.9ZM604.4 68.9L607.6 67.8L604.5 67.1L601.4 68.1ZM601.4 68.1L604.5 67.1L601.5 66.4L598.3 67.3ZM598.3 67.3L601.5 66.4L598.5 65.7L595.3 66.6ZM595.3 66.6L598.5 65.7L595.5 65L592.4 65.8ZM592.4 65.8L595.5 65L592.6 64.3L589.5 65.1ZM589.5 65.1L592.6 64.3L589.7 63.6L586.6 64.4ZM586.6 64.4L589.7 63.6L586.9 62.9L583.7 63.6ZM583.7 63.6L586.9 62.9L584 62.2L580.9 62.9ZM613.8 69.3L616.9 68.2L613.8 67.5L610.7 68.5ZM610.7 68.5L613.8 67.5L610.7 66.8L607.6 67.8ZM607.6 67.8L610.7 66.8L607.6 66.1L604.5 67.1ZM604.5 67.1L607.6 66.1L604.6 65.4L601.5 66.4ZM601.5 66.4L604.6 65.4L601.6 64.8L598.5 65.7ZM598.5 65.7L601.6 64.8L598.6 64.1L595.5 65ZM595.5 65L598.6 64.1L595.7 63.5L592.6 64.3ZM592.6 64.3L595.7 63.5L592.8 62.8L589.7 63.6ZM589.7 63.6L592.8 62.8L590 62.2L586.9 62.9ZM620.1 68.9L623.2 67.7L620 67L616.9 68.2ZM616.9 68.2L620 67L616.9 66.4L613.8 67.5ZM613.8 67.5L616.9 66.4L613.8 65.8L610.7 66.8ZM610.7 66.8L613.8 65.8L610.7 65.1L607.6 66.1ZM607.6 66.1L610.7 65.1L607.7 64.5L604.6 65.4ZM604.6 65.4L607.7 64.5L604.7 63.9L601.6 64.8ZM601.6 64.8L604.7 63.9L601.7 63.3L598.6 64.1ZM598.6 64.1L601.7 63.3L598.8 62.7L595.7 63.5ZM595.7 63.5L598.8 62.7L595.9 62.1L592.8 62.8ZM629.7 69L632.7 67.8L629.4 67.2L626.4 68.4ZM626.4 68.4L629.4 67.2L626.2 66.6L623.2 67.7ZM623.2 67.7L626.2 66.6L623 65.9L620 67ZM620 67L623 65.9L619.9 65.3L616.9 66.4ZM616.9 66.4L619.9 65.3L616.8 64.8L613.8 65.8ZM613.8 65.8L616.8 64.8L613.7 64.2L610.7 65.1ZM610.7 65.1L613.7 64.2L610.7 63.6L607.7 64.5ZM607.7 64.5L610.7 63.6L607.7 63L604.7 63.9ZM604.7 63.9L607.7 63L604.7 62.5L601.7 63.3ZM601.7 63.3L604.7 62.5L601.8 61.9L598.8 62.7ZM632.7 67.8L635.7 66.6L632.4 66L629.4 67.2ZM629.4 67.2L632.4 66L629.2 65.4L626.2 66.6ZM626.2 66.6L629.2 65.4L626 64.9L623 65.9ZM623 65.9L626 64.9L622.9 64.3L619.9 65.3ZM619.9 65.3L622.9 64.3L619.8 63.8L616.8 64.8ZM616.8 64.8L619.8 63.8L616.7 63.2L613.7 64.2ZM613.7 64.2L616.7 63.2L613.7 62.7L610.7 63.6ZM610.7 63.6L613.7 62.7L610.7 62.2L607.7 63ZM607.7 63L610.7 62.2L607.7 61.6L604.7 62.5ZM635.7 66.6L638.7 65.4L635.4 64.8L632.4 66ZM632.4 66L635.4 64.8L632.2 64.3L629.2 65.4ZM629.2 65.4L632.2 64.3L629 63.8L626 64.9ZM626 64.9L629 63.8L625.8 63.3L622.9 64.3ZM622.9 64.3L625.8 63.3L622.7 62.8L619.8 63.8ZM619.8 63.8L622.7 62.8L619.7 62.3L616.7 63.2ZM616.7 63.2L619.7 62.3L616.6 61.8L613.7 62.7ZM613.7 62.7L616.6 61.8L613.6 61.3L610.7 62.2ZM638.7 65.4L641.6 64.2L638.3 63.7L635.4 64.8ZM635.4 64.8L638.3 63.7L635.1 63.2L632.2 64.3ZM632.2 64.3L635.1 63.2L631.9 62.7L629 63.8ZM629 63.8L631.9 62.7L628.8 62.3L625.8 63.3ZM625.8 63.3L628.8 62.3L625.7 61.8L622.7 62.8ZM622.7 62.8L625.7 61.8L622.6 61.4L619.7 62.3ZM619.7 62.3L622.6 61.4L619.6 60.9L616.6 61.8ZM641.6 64.2L644.5 63L641.2 62.5L638.3 63.7ZM638.3 63.7L641.2 62.5L638 62.1L635.1 63.2ZM635.1 63.2L638 62.1L634.8 61.7L631.9 62.7ZM631.9 62.7L634.8 61.7L631.7 61.3L628.8 62.3ZM628.8 62.3L631.7 61.3L628.6 60.8L625.7 61.8ZM625.7 61.8L628.6 60.8L625.5 60.4L622.6 61.4ZM644.5 63L647.3 61.8L644.1 61.4L641.2 62.5ZM641.2 62.5L644.1 61.4L640.8 61L638 62.1ZM638 62.1L640.8 61L637.7 60.6L634.8 61.7ZM634.8 61.7L637.7 60.6L634.5 60.3L631.7 61.3ZM631.7 61.3L634.5 60.3L631.4 59.9L628.6 60.8ZM647.3 61.8L650.1 60.6L646.9 60.3L644.1 61.4ZM644.1 61.4L646.9 60.3L643.7 60L640.8 61Z" fill="#843c12" stroke="#843c12" stroke-width="0.35"/>
<path d="M534 59.1L537.4 58.8L534.9 57.9L531.5 58.2ZM531.5 58.2L534.9 57.9L532.5 57.1L529.1 57.3ZM545.1 61.5L548.5 61L545.9 60.2L542.5 60.6ZM542.5 60.6L545.9 60.2L543.3 59.3L540 59.7ZM540 59.7L543.3 59.3L540.8 58.5L537.4 58.8ZM537.4 58.8L540.8 58.5L538.3 57.6L534.9 57.9ZM534.9 57.9L538.3 57.6L535.8 56.8L532.5 57.1ZM551.1 61.9L554.4 61.4L551.8 60.6L548.5 61ZM548.5 61L551.8 60.6L549.2 59.8L545.9 60.2ZM545.9 60.2L549.2 59.8L546.6 58.9L543.3 59.3ZM543.3 59.3L546.6 58.9L544.1 58.1L540.8 58.5ZM540.8 58.5L544.1 58.1L541.6 57.4L538.3 57.6ZM538.3 57.6L541.6 57.4L539.1 56.6L535.8 56.8ZM559.7 63.1L563 62.5L560.3 61.7L557 62.3ZM557 62.3L560.3 61.7L557.7 60.9L554.4 61.4ZM554.4 61.4L557.7 60.9L555.1 60.1L551.8 60.6ZM551.8 60.6L555.1 60.1L552.5 59.4L549.2 59.8ZM549.2 59.8L552.5 59.4L549.9 58.6L546.6 58.9ZM546.6 58.9L549.9 58.6L547.4 57.8L544.1 58.1ZM544.1 58.1L547.4 57.8L544.9 57.1L541.6 57.4ZM541.6 57.4L544.9 57.1L542.4 56.3L539.1 56.6ZM563 62.5L566.3 62L563.6 61.2L560.3 61.7ZM560.3 61.7L563.6 61.2L560.9 60.4L557.7 60.9ZM557.7 60.9L560.9 60.4L558.3 59.7L555.1 60.1ZM555.1 60.1L558.3 59.7L555.7 59L552.5 59.4ZM552.5 59.4L555.7 59L553.2 58.2L549.9 58.6ZM549.9 58.6L553.2 58.2L550.6 57.5L547.4 57.8ZM547.4 57.8L550.6 57.5L548.1 56.8L544.9 57.1ZM544.9 57.1L548.1 56.8L545.6 56.1L542.4 56.3ZM569 62.7L572.2 62.1L569.5 61.4L566.3 62ZM566.3 62L569.5 61.4L566.8 60.7L563.6 61.2ZM563.6 61.2L566.8 60.7L564.1 60L560.9 60.4ZM560.9 60.4L564.1 60L561.5 59.3L558.3 59.7ZM558.3 59.7L561.5 59.3L558.9 58.6L555.7 59ZM555.7 59L558.9 58.6L556.4 57.9L553.2 58.2ZM553.2 58.2L556.4 57.9L553.8 57.2L550.6 57.5ZM550.6 57.5L553.8 57.2L551.3 56.5L548.1 56.8ZM548.1 56.8L551.3 56.5L548.8 55.9L545.6 56.1ZM574.9 62.9L578.1 62.2L575.4 61.5L572.2 62.1ZM572.2 62.1L575.4 61.5L572.7 60.8L569.5 61.4ZM569.5 61.4L572.7 60.8L570 60.2L566.8 60.7ZM566.8 60.7L570 60.2L567.3 59.5L564.1 60ZM564.1 60L567.3 59.5L564.7 58.8L561.5 59.3ZM561.5 59.3L564.7 58.8L562.1 58.2L558.9 58.6ZM558.9 58.6L562.1 58.2L559.5 57.5L556.4 57.9ZM556.4 57.9L559.5 57.5L557 56.9L553.8 57.2ZM553.8 57.2L557 56.9L554.5 56.3L551.3 56.5ZM551.3 56.5L554.5 56.3L552 55.6L548.8 55.9ZM580.9 62.9L584 62.2L581.3 61.6L578.1 62.2ZM578.1 62.2L581.3 61.6L578.5 60.9L575.4 61.5ZM575.4 61.5L578.5 60.9L575.8 60.3L572.7 60.8ZM572.7 60.8L575.8 60.3L573.1 59.7L570 60.2ZM570 60.2L573.1 59.7L570.4 59L567.3 59.5ZM567.3 59.5L570.4 59L567.8 58.4L564.7 58.8ZM564.7 58.8L567.8 58.4L565.2 57.8L562.1 58.2ZM562.1 58.2L565.2 57.8L562.7 57.2L559.5 57.5ZM559.5 57.5L562.7 57.2L560.1 56.6L557 56.9ZM557 56.9L560.1 56.6L557.6 56L554.5 56.3ZM554.5 56.3L557.6 56L555.1 55.4L552 55.6ZM586.9 62.9L590 62.2L587.1 61.6L584 62.2ZM584 62.2L587.1 61.6L584.4 61L581.3 61.6ZM581.3 61.6L584.4 61L581.6 60.4L578.5 60.9ZM578.5 60.9L581.6 60.4L578.9 59.8L575.8 60.3ZM575.8 60.3L578.9 59.8L576.2 59.2L573.1 59.7ZM573.1 59.7L576.2 59.2L573.5 58.6L570.4 59ZM570.4 59L573.5 58.6L570.9 58L567.8 58.4ZM567.8 58.4L570.9 58L568.3 57.4L565.2 57.8ZM565.2 57.8L568.3 57.4L565.7 56.9L562.7 57.2ZM562.7 57.2L565.7 56.9L563.2 56.3L560.1 56.6ZM560.1 56.6L563.2 56.3L560.7 55.7L557.6 56ZM557.6 56L560.7 55.7L558.2 55.2L555.1 55.4ZM592.8 62.8L595.9 62.1L593 61.5L590 62.2ZM590 62.2L593 61.5L590.2 60.9L587.1 61.6ZM587.1 61.6L590.2 60.9L587.4 60.3L584.4 61ZM584.4 61L587.4 60.3L584.7 59.8L581.6 60.4ZM581.6 60.4L584.7 59.8L582 59.2L578.9 59.8ZM578.9 59.8L582 59.2L579.3 58.7L576.2 59.2ZM576.2 59.2L579.3 58.7L576.6 58.1L573.5 58.6ZM573.5 58.6L576.6 58.1L574 57.6L570.9 58ZM570.9 58L574 57.6L571.4 57L568.3 57.4ZM568.3 57.4L571.4 57L568.8 56.5L565.7 56.9ZM565.7 56.9L568.8 56.5L566.3 56L563.2 56.3ZM563.2 56.3L566.3 56L563.7 55.5L560.7 55.7ZM560.7 55.7L563.7 55.5L561.3 55L558.2 55.2ZM598.8 62.7L601.8 61.9L598.9 61.3L595.9 62.1ZM595.9 62.1L598.9 61.3L596.1 60.8L593 61.5ZM593 61.5L596.1 60.8L593.2 60.3L590.2 60.9ZM590.2 60.9L593.2 60.3L590.5 59.7L587.4 60.3ZM587.4 60.3L590.5 59.7L587.7 59.2L584.7 59.8ZM584.7 59.8L587.7 59.2L585 58.7L582 59.2ZM582 59.2L585 58.7L582.3 58.2L579.3 58.7ZM579.3 58.7L582.3 58.2L579.6 57.7L576.6 58.1ZM576.6 58.1L579.6 57.7L577 57.2L574 57.6ZM574 57.6L577 57.2L574.4 56.7L571.4 57ZM571.4 57L574.4 56.7L571.8 56.2L568.8 56.5ZM568.8 56.5L571.8 56.2L569.3 55.7L566.3 56ZM566.3 56L569.3 55.7L566.8 55.2L563.7 55.5ZM563.7 55.5L566.8 55.2L564.3 54.8L561.3 55ZM604.7 62.5L607.7 61.6L604.8 61.1L601.8 61.9ZM601.8 61.9L604.8 61.1L601.9 60.6L598.9 61.3ZM598.9 61.3L601.9 60.6L599.1 60.1L596.1 60.8ZM596.1 60.8L599.1 60.1L596.2 59.6L593.2 60.3ZM593.2 60.3L596.2 59.6L593.5 59.1L590.5 59.7ZM590.5 59.7L593.5 59.1L590.7 58.7L587.7 59.2ZM587.7 59.2L590.7 58.7L588 58.2L585 58.7ZM585 58.7L588 58.2L585.3 57.7L582.3 58.2ZM582.3 58.2L585.3 57.7L582.6 57.2L579.6 57.7ZM579.6 57.7L582.6 57.2L580 56.8L577 57.2ZM577 57.2L580 56.8L577.4 56.3L574.4 56.7ZM574.4 56.7L577.4 56.3L574.8 55.9L571.8 56.2ZM571.8 56.2L574.8 55.9L572.3 55.4L569.3 55.7ZM569.3 55.7L572.3 55.4L569.7 55L566.8 55.2ZM566.8 55.2L569.7 55L567.3 54.5L564.3 54.8ZM610.7 62.2L613.6 61.3L610.7 60.8L607.7 61.6ZM607.7 61.6L610.7 60.8L607.8 60.4L604.8 61.1ZM604.8 61.1L607.8 60.4L604.9 59.9L601.9 60.6ZM601.9 60.6L604.9 59.9L602 59.4L599.1 60.1ZM599.1 60.1L602 59.4L599.2 59L596.2 59.6ZM596.2 59.6L599.2 59L596.4 58.5L593.5 59.1ZM593.5 59.1L596.4 58.5L593.7 58.1L590.7 58.7ZM590.7 58.7L593.7 58.1L590.9 57.7L588 58.2ZM588 58.2L590.9 57.7L588.2 57.2L585.3 57.7ZM585.3 57.7L588.2 57.2L585.6 56.8L582.6 57.2ZM582.6 57.2L585.6 56.8L582.9 56.4L580 56.8ZM580 56.8L582.9 56.4L580.3 56L577.4 56.3ZM577.4 56.3L580.3 56L577.8 55.5L574.8 55.9ZM574.8 55.9L577.8 55.5L575.2 55.1L572.3 55.4ZM572.3 55.4L575.2 55.1L572.7 54.7L569.7 55ZM569.7 55L572.7 54.7L570.2 54.3L567.3 54.5ZM616.6 61.8L619.6 60.9L616.6 60.5L613.6 61.3ZM613.6 61.3L616.6 60.5L613.6 60L610.7 60.8ZM610.7 60.8L613.6 60L610.7 59.6L607.8 60.4ZM607.8 60.4L610.7 59.6L607.8 59.2L604.9 59.9ZM604.9 59.9L607.8 59.2L604.9 58.8L602 59.4ZM602 59.4L604.9 58.8L602.1 58.4L599.2 59ZM599.2 59L602.1 58.4L599.3 57.9L596.4 58.5ZM596.4 58.5L599.3 57.9L596.6 57.5L593.7 58.1ZM593.7 58.1L596.6 57.5L593.8 57.1L590.9 57.7ZM590.9 57.7L593.8 57.1L591.2 56.8L588.2 57.2ZM588.2 57.2L591.2 56.8L588.5 56.4L585.6 56.8ZM585.6 56.8L588.5 56.4L585.9 56L582.9 56.4ZM582.9 56.4L585.9 56L583.3 55.6L580.3 56ZM580.3 56L583.3 55.6L580.7 55.2L577.8 55.5ZM577.8 55.5L580.7 55.2L578.1 54.9L575.2 55.1ZM575.2 55.1L578.1 54.9L575.6 54.5L572.7 54.7ZM572.7 54.7L575.6 54.5L573.1 54.1L570.2 54.3ZM622.6 61.4L625.5 60.4L622.5 60L619.6 60.9ZM619.6 60.9L622.5 60L619.5 59.6L616.6 60.5ZM616.6 60.5L619.5 59.6L616.5 59.3L613.6 60ZM613.6 60L616.5 59.3L613.6 58.9L610.7 59.6ZM610.7 59.6L613.6 58.9L610.7 58.5L607.8 59.2ZM607.8 59.2L610.7 58.5L607.8 58.1L604.9 58.8ZM604.9 58.8L607.8 58.1L605 57.7L602.1 58.4ZM602.1 58.4L605 57.7L602.2 57.4L599.3 57.9ZM599.3 57.9L602.2 57.4L599.5 57L596.6 57.5ZM596.6 57.5L599.5 57L596.7 56.6L593.8 57.1ZM593.8 57.1L596.7 56.6L594 56.3L591.2 56.8ZM591.2 56.8L594 56.3L591.4 55.9L588.5 56.4ZM588.5 56.4L591.4 55.9L588.7 55.6L585.9 56ZM585.9 56L588.7 55.6L586.1 55.3L583.3 55.6ZM583.3 55.6L586.1 55.3L583.6 54.9L580.7 55.2ZM580.7 55.2L583.6 54.9L581 54.6L578.1 54.9ZM578.1 54.9L581 54.6L578.5 54.3L575.6 54.5ZM575.6 54.5L578.5 54.3L576 53.9L573.1 54.1ZM628.6 60.8L631.4 59.9L628.3 59.5L625.5 60.4ZM625.5 60.4L628.3 59.5L625.3 59.2L622.5 60ZM622.5 60L625.3 59.2L622.3 58.8L619.5 59.6ZM619.5 59.6L622.3 58.8L619.4 58.5L616.5 59.3ZM616.5 59.3L619.4 58.5L616.4 58.1L613.6 58.9ZM613.6 58.9L616.4 58.1L613.5 57.8L610.7 58.5ZM610.7 58.5L613.5 57.8L610.7 57.5L607.8 58.1ZM607.8 58.1L610.7 57.5L607.9 57.1L605 57.7ZM605 57.7L607.9 57.1L605.1 56.8L602.2 57.4ZM602.2 57.4L605.1 56.8L602.3 56.5L599.5 57ZM599.5 57L602.3 56.5L599.6 56.1L596.7 56.6ZM596.7 56.6L599.6 56.1L596.9 55.8L594 56.3ZM594 56.3L596.9 55.8L594.2 55.5L591.4 55.9ZM591.4 55.9L594.2 55.5L591.6 55.2L588.7 55.6ZM588.7 55.6L591.6 55.2L589 54.9L586.1 55.3ZM586.1 55.3L589 54.9L586.4 54.6L583.6 54.9ZM583.6 54.9L586.4 54.6L583.9 54.3L581 54.6ZM581 54.6L583.9 54.3L581.3 54L578.5 54.3ZM578.5 54.3L581.3 54L578.8 53.7L576 53.9ZM640.8 61L643.7 60L640.5 59.6L637.7 60.6ZM637.7 60.6L640.5 59.6L637.3 59.3L634.5 60.3ZM634.5 60.3L637.3 59.3L634.2 59L631.4 59.9ZM631.4 59.9L634.2 59L631.2 58.6L628.3 59.5ZM628.3 59.5L631.2 58.6L628.1 58.3L625.3 59.2ZM625.3 59.2L628.1 58.3L625.1 58L622.3 58.8ZM622.3 58.8L625.1 58L622.2 57.7L619.4 58.5ZM619.4 58.5L622.2 57.7L619.3 57.4L616.4 58.1ZM616.4 58.1L619.3 57.4L616.4 57.1L613.5 57.8ZM613.5 57.8L616.4 57.1L613.5 56.8L610.7 57.5ZM610.7 57.5L613.5 56.8L610.7 56.5L607.9 57.1ZM607.9 57.1L610.7 56.5L607.9 56.2L605.1 56.8ZM605.1 56.8L607.9 56.2L605.1 55.9L602.3 56.5ZM602.3 56.5L605.1 55.9L602.4 55.7L599.6 56.1ZM599.6 56.1L602.4 55.7L599.7 55.4L596.9 55.8ZM596.9 55.8L599.7 55.4L597.1 55.1L594.2 55.5ZM594.2 55.5L597.1 55.1L594.4 54.8L591.6 55.2ZM591.6 55.2L594.4 54.8L591.8 54.6L589 54.9ZM589 54.9L591.8 54.6L589.2 54.3L586.4 54.6ZM586.4 54.6L589.2 54.3L586.7 54L583.9 54.3ZM583.9 54.3L586.7 54L584.2 53.8L581.3 54ZM581.3 54L584.2 53.8L581.7 53.5L578.8 53.7ZM650.1 60.6L652.9 59.5L649.7 59.2L646.9 60.3ZM646.9 60.3L649.7 59.2L646.4 58.9L643.7 60ZM643.7 60L646.4 58.9L643.3 58.6L640.5 59.6ZM640.5 59.6L643.3 58.6L640.1 58.3L637.3 59.3ZM637.3 59.3L640.1 58.3L637 58L634.2 59ZM634.2 59L637 58L634 57.8L631.2 58.6ZM631.2 58.6L634 57.8L630.9 57.5L628.1 58.3ZM628.1 58.3L630.9 57.5L627.9 57.2L625.1 58ZM625.1 58L627.9 57.2L625 56.9L622.2 57.7ZM622.2 57.7L625 56.9L622.1 56.7L619.3 57.4ZM619.3 57.4L622.1 56.7L619.2 56.4L616.4 57.1ZM616.4 57.1L619.2 56.4L616.3 56.2L613.5 56.8ZM613.5 56.8L616.3 56.2L613.5 55.9L610.7 56.5ZM610.7 56.5L613.5 55.9L610.7 55.7L607.9 56.2ZM607.9 56.2L610.7 55.7L607.9 55.4L605.1 55.9ZM605.1 55.9L607.9 55.4L605.2 55.2L602.4 55.7ZM602.4 55.7L605.2 55.2L602.5 54.9L599.7 55.4ZM599.7 55.4L602.5 54.9L599.8 54.7L597.1 55.1ZM597.1 55.1L599.8 54.7L597.2 54.5L594.4 54.8ZM594.4 54.8L597.2 54.5L594.6 54.2L591.8 54.6ZM591.8 54.6L594.6 54.2L592 54L589.2 54.3ZM589.2 54.3L592 54L589.5 53.8L586.7 54ZM586.7 54L589.5 53.8L586.9 53.5L584.2 53.8ZM584.2 53.8L586.9 53.5L584.5 53.3L581.7 53.5ZM652.9 59.5L655.7 58.4L652.4 58.1L649.7 59.2ZM649.7 59.2L652.4 58.1L649.2 57.9L646.4 58.9ZM646.4 58.9L649.2 57.9L646 57.6L643.3 58.6ZM643.3 58.6L646 57.6L642.9 57.4L640.1 58.3ZM640.1 58.3L642.9 57.4L639.8 57.1L637 58ZM637 58L639.8 57.1L636.7 56.9L634 57.8ZM634 57.8L636.7 56.9L633.7 56.7L630.9 57.5ZM630.9 57.5L633.7 56.7L630.7 56.4L627.9 57.2ZM627.9 57.2L630.7 56.4L627.7 56.2L625 56.9ZM625 56.9L627.7 56.2L624.8 56L622.1 56.7ZM622.1 56.7L624.8 56L621.9 55.8L619.2 56.4ZM619.2 56.4L621.9 55.8L619.1 55.5L616.3 56.2ZM616.3 56.2L619.1 55.5L616.2 55.3L613.5 55.9ZM613.5 55.9L616.2 55.3L613.5 55.1L610.7 55.7ZM610.7 55.7L613.5 55.1L610.7 54.9L607.9 55.4ZM607.9 55.4L610.7 54.9L608 54.7L605.2 55.2ZM605.2 55.2L608 54.7L605.3 54.5L602.5 54.9ZM602.5 54.9L605.3 54.5L602.6 54.3L599.8 54.7ZM599.8 54.7L602.6 54.3L600 54.1L597.2 54.5ZM597.2 54.5L600 54.1L597.4 53.9L594.6 54.2ZM594.6 54.2L597.4 53.9L594.8 53.7L592 54ZM592 54L594.8 53.7L592.2 53.5L589.5 53.8ZM589.5 53.8L592.2 53.5L589.7 53.3L586.9 53.5ZM586.9 53.5L589.7 53.3L587.2 53.1L584.5 53.3ZM655.7 58.4L658.4 57.2L655.1 57L652.4 58.1ZM652.4 58.1L655.1 57L651.9 56.8L649.2 57.9ZM649.2 57.9L651.9 56.8L648.7 56.6L646 57.6ZM646 57.6L648.7 56.6L645.6 56.4L642.9 57.4ZM642.9 57.4L645.6 56.4L642.5 56.2L639.8 57.1ZM639.8 57.1L642.5 56.2L639.4 56L636.7 56.9ZM636.7 56.9L639.4 56L636.4 55.8L633.7 56.7ZM633.7 56.7L636.4 55.8L633.4 55.6L630.7 56.4ZM630.7 56.4L633.4 55.6L630.5 55.5L627.7 56.2ZM627.7 56.2L630.5 55.5L627.5 55.3L624.8 56ZM624.8 56L627.5 55.3L624.7 55.1L621.9 55.8ZM621.9 55.8L624.7 55.1L621.8 54.9L619.1 55.5ZM619.1 55.5L621.8 54.9L619 54.7L616.2 55.3ZM616.2 55.3L619 54.7L616.2 54.6L613.5 55.1ZM613.5 55.1L616.2 54.6L613.4 54.4L610.7 54.9ZM610.7 54.9L613.4 54.4L610.7 54.2L608 54.7ZM608 54.7L610.7 54.2L608 54L605.3 54.5ZM605.3 54.5L608 54L605.3 53.9L602.6 54.3ZM602.6 54.3L605.3 53.9L602.7 53.7L600 54.1ZM600 54.1L602.7 53.7L600.1 53.6L597.4 53.9ZM597.4 53.9L600.1 53.6L597.5 53.4L594.8 53.7ZM594.8 53.7L597.5 53.4L595 53.2L592.2 53.5ZM592.2 53.5L595 53.2L592.4 53.1L589.7 53.3ZM589.7 53.3L592.4 53.1L589.9 52.9L587.2 53.1ZM658.4 57.2L661.1 56.1L657.8 56L655.1 57ZM655.1 57L657.8 56L654.6 55.8L651.9 56.8ZM651.9 56.8L654.6 55.8L651.4 55.6L648.7 56.6ZM648.7 56.6L651.4 55.6L648.3 55.5L645.6 56.4ZM645.6 56.4L648.3 55.5L645.2 55.3L642.5 56.2ZM642.5 56.2L645.2 55.3L642.1 55.2L639.4 56ZM639.4 56L642.1 55.2L639.1 55L636.4 55.8ZM636.4 55.8L639.1 55L636.1 54.9L633.4 55.6ZM633.4 55.6L636.1 54.9L633.2 54.7L630.5 55.5ZM630.5 55.5L633.2 54.7L630.2 54.6L627.5 55.3ZM627.5 55.3L630.2 54.6L627.4 54.4L624.7 55.1ZM624.7 55.1L627.4 54.4L624.5 54.3L621.8 54.9ZM621.8 54.9L624.5 54.3L621.7 54.2L619 54.7ZM619 54.7L621.7 54.2L618.9 54L616.2 54.6ZM616.2 54.6L618.9 54L616.1 53.9L613.4 54.4ZM613.4 54.4L616.1 53.9L613.4 53.7L610.7 54.2ZM610.7 54.2L613.4 53.7L610.7 53.6L608 54ZM608 54L610.7 53.6L608 53.5L605.3 53.9ZM605.3 53.9L608 53.5L605.4 53.4L602.7 53.7ZM602.7 53.7L605.4 53.4L602.8 53.2L600.1 53.6ZM600.1 53.6L602.8 53.2L600.2 53.1L597.5 53.4ZM597.5 53.4L600.2 53.1L597.7 53L595 53.2ZM595 53.2L597.7 53L595.1 52.9L592.4 53.1ZM592.4 53.1L595.1 52.9L592.6 52.8L589.9 52.9ZM661.1 56.1L663.7 55L660.5 54.9L657.8 56ZM657.8 56L660.5 54.9L657.3 54.8L654.6 55.8ZM654.6 55.8L657.3 54.8L654.1 54.7L651.4 55.6ZM651.4 55.6L654.1 54.7L651 54.6L648.3 55.5ZM648.3 55.5L651 54.6L647.9 54.4L645.2 55.3ZM645.2 55.3L647.9 54.4L644.8 54.3L642.1 55.2ZM642.1 55.2L644.8 54.3L641.8 54.2L639.1 55ZM639.1 55L641.8 54.2L638.8 54.1L636.1 54.9ZM636.1 54.9L638.8 54.1L635.8 54L633.2 54.7ZM633.2 54.7L635.8 54L632.9 53.9L630.2 54.6ZM630.2 54.6L632.9 53.9L630 53.8L627.4 54.4ZM627.4 54.4L630 53.8L627.2 53.7L624.5 54.3ZM624.5 54.3L627.2 53.7L624.3 53.6L621.7 54.2ZM621.7 54.2L624.3 53.6L621.6 53.5L618.9 54ZM618.9 54L621.6 53.5L618.8 53.4L616.1 53.9ZM616.1 53.9L618.8 53.4L616.1 53.3L613.4 53.7ZM613.4 53.7L616.1 53.3L613.4 53.2L610.7 53.6ZM610.7 53.6L613.4 53.2L610.7 53.1L608 53.5ZM608 53.5L610.7 53.1L608.1 53L605.4 53.4ZM605.4 53.4L608.1 53L605.5 52.9L602.8 53.2ZM602.8 53.2L605.5 52.9L602.9 52.8L600.2 53.1ZM600.2 53.1L602.9 52.8L600.3 52.7L597.7 53ZM597.7 53L600.3 52.7L597.8 52.7L595.1 52.9ZM595.1 52.9L597.8 52.7L595.3 52.6L592.6 52.8ZM663.7 55L666.4 54L663.1 53.9L660.5 54.9ZM660.5 54.9L663.1 53.9L659.9 53.8L657.3 54.8ZM657.3 54.8L659.9 53.8L656.7 53.7L654.1 54.7ZM654.1 54.7L656.7 53.7L653.6 53.6L651 54.6ZM651 54.6L653.6 53.6L650.5 53.6L647.9 54.4ZM647.9 54.4L650.5 53.6L647.4 53.5L644.8 54.3ZM644.8 54.3L647.4 53.5L644.4 53.4L641.8 54.2ZM641.8 54.2L644.4 53.4L641.4 53.3L638.8 54.1ZM638.8 54.1L641.4 53.3L638.5 53.3L635.8 54ZM635.8 54L638.5 53.3L635.5 53.2L632.9 53.9ZM632.9 53.9L635.5 53.2L632.7 53.1L630 53.8ZM630 53.8L632.7 53.1L629.8 53.1L627.2 53.7ZM627.2 53.7L629.8 53.1L627 53L624.3 53.6ZM624.3 53.6L627 53L624.2 52.9L621.6 53.5ZM621.6 53.5L624.2 52.9L621.4 52.9L618.8 53.4ZM618.8 53.4L621.4 52.9L618.7 52.8L616.1 53.3ZM616.1 53.3L618.7 52.8L616 52.8L613.4 53.2ZM613.4 53.2L616 52.8L613.3 52.7L610.7 53.1ZM610.7 53.1L613.3 52.7L610.7 52.6L608.1 53ZM608.1 53L610.7 52.6L608.1 52.6L605.5 52.9ZM605.5 52.9L608.1 52.6L605.5 52.5L602.9 52.8ZM602.9 52.8L605.5 52.5L603 52.5L600.3 52.7ZM600.3 52.7L603 52.5L600.4 52.4L597.8 52.7ZM597.8 52.7L600.4 52.4L597.9 52.4L595.3 52.6ZM666.4 54L669 52.9L665.7 52.9L663.1 53.9ZM663.1 53.9L665.7 52.9L662.5 52.8L659.9 53.8ZM659.9 53.8L662.5 52.8L659.3 52.8L656.7 53.7ZM656.7 53.7L659.3 52.8L656.2 52.7L653.6 53.6ZM653.6 53.6L656.2 52.7L653.1 52.7L650.5 53.6ZM650.5 53.6L653.1 52.7L650 52.7L647.4 53.5ZM647.4 53.5L650 52.7L647 52.6L644.4 53.4ZM644.4 53.4L647 52.6L644 52.6L641.4 53.3ZM641.4 53.3L644 52.6L641.1 52.6L638.5 53.3ZM638.5 53.3L641.1 52.6L638.2 52.5L635.5 53.2ZM635.5 53.2L638.2 52.5L635.3 52.5L632.7 53.1ZM632.7 53.1L635.3 52.5L632.4 52.5L629.8 53.1ZM629.8 53.1L632.4 52.5L629.6 52.4L627 53ZM627 53L629.6 52.4L626.8 52.4L624.2 52.9ZM624.2 52.9L626.8 52.4L624 52.4L621.4 52.9ZM621.4 52.9L624 52.4L621.3 52.4L618.7 52.8ZM618.7 52.8L621.3 52.4L618.6 52.3L616 52.8ZM616 52.8L618.6 52.3L616 52.3L613.3 52.7ZM613.3 52.7L616 52.3L613.3 52.3L610.7 52.6ZM610.7 52.6L613.3 52.3L610.7 52.3L608.1 52.6ZM608.1 52.6L610.7 52.3L608.1 52.3L605.5 52.5ZM605.5 52.5L608.1 52.3L605.6 52.2L603 52.5ZM603 52.5L605.6 52.2L603 52.2L600.4 52.4ZM600.4 52.4L603 52.2L600.5 52.2L597.9 52.4Z" fill="#000000" stroke="#000000" stroke-width="0.35"/>
<path d="M597.1 82.4L529.1 57.3M597.1 82.4L669 52.9M599.9 81.3L531.8 57.1M594.5 81.4L666.4 52.9M602.6 80.1L534.5 56.9M591.9 80.5L663.8 52.8M605.3 79L537.2 56.7M589.4 79.5L661.2 52.8M608 77.9L539.8 56.5M586.8 78.6L658.7 52.8M610.7 76.9L542.4 56.3M584.3 77.7L656.2 52.7M613.3 75.8L545 56.1M581.9 76.8L653.7 52.7M615.9 74.7L547.6 56M579.4 75.9L651.3 52.7M618.4 73.7L550.1 55.8M577 75L648.8 52.7M621 72.6L552.6 55.6M574.6 74.1L646.4 52.6M623.5 71.6L555.1 55.4M572.2 73.2L644 52.6M626 70.6L557.6 55.2M569.8 72.3L641.7 52.6M628.5 69.5L560 55.1M567.5 71.5L639.3 52.5M630.9 68.5L562.5 54.9M565.2 70.6L637 52.5M633.3 67.6L564.9 54.7M562.9 69.8L634.7 52.5M635.7 66.6L567.3 54.5M560.6 68.9L632.4 52.5M638.1 65.6L569.6 54.4M558.4 68.1L630.2 52.5M640.4 64.6L572 54.2M556.1 67.3L627.9 52.4M642.7 63.7L574.3 54M553.9 66.5L625.7 52.4M645 62.7L576.6 53.9M551.8 65.7L623.5 52.4M647.3 61.8L578.8 53.7M549.6 64.9L621.3 52.4M649.6 60.9L581.1 53.6M547.5 64.1L619.2 52.4M651.8 59.9L583.3 53.4M545.3 63.3L617 52.3M654 59L585.6 53.3M543.2 62.5L614.9 52.3M656.2 58.1L587.8 53.1M541.2 61.8L612.8 52.3M658.4 57.2L589.9 52.9M539.1 61L610.7 52.3M660.5 56.4L592.1 52.8M537.1 60.2L608.6 52.3M662.7 55.5L594.2 52.6M535 59.5L606.6 52.2M664.8 54.6L596.4 52.5M533 58.8L604.6 52.2M666.9 53.8L598.5 52.3M531 58L602.5 52.2M669 52.9L600.5 52.2M529.1 57.3L600.5 52.2" fill="none" stroke="#1a0800" stroke-width="0.45" opacity="0.85"/>
<text transform="translate(460.4,34.2) scale(0.8,1)" font-size="5.4" fill="#252525" >Design-Expert® Softwa</text>
<text transform="translate(460.4,40.1) scale(0.8,1)" font-size="5.4" fill="#252525" >Factor Coding: Actual</text>
<text transform="translate(460.4,46) scale(0.8,1)" font-size="5.4" fill="#252525" >Y3: PDI (nm)</text>
<rect x="461" y="48.4" width="2.4" height="15.4" fill="url(#cbar)" stroke="#222" stroke-width="0.3"/>
<text transform="translate(464.6,52.3) scale(0.8,1)" font-size="5.4" fill="#ff1818" >0.59</text>
<text transform="translate(464.6,63.8) scale(0.8,1)" font-size="5.4" fill="#2020ff" >-0.514</text>
<text transform="translate(460.4,75.8) scale(0.8,1)" font-size="5.4" fill="#252525" >X1 = A: C.O amour</text>
<text transform="translate(460.4,81.7) scale(0.8,1)" font-size="5.4" fill="#252525" >X2 = B: PLGA</text>
<text transform="translate(460.4,93.5) scale(0.8,1)" font-size="5.4" fill="#252525" >Actual Factor</text>
<text transform="translate(460.4,99.4) scale(0.8,1)" font-size="5.4" fill="#252525" >C: PCL = 5.28549</text>
<text transform="translate(525.5,37.5) scale(0.9,1)" font-size="5.8" fill="#2a2a2a" text-anchor="end" >0.8</text>
<text transform="translate(525.9,49.4) scale(0.9,1)" font-size="5.8" fill="#2a2a2a" text-anchor="end" >0.6</text>
<text transform="translate(526.4,61.3) scale(0.9,1)" font-size="5.8" fill="#2a2a2a" text-anchor="end" >0.4</text>
<text transform="translate(526.8,73.1) scale(0.9,1)" font-size="5.8" fill="#2a2a2a" text-anchor="end" >0.2</text>
<text transform="translate(527.2,85) scale(0.9,1)" font-size="5.8" fill="#2a2a2a" text-anchor="end" >0</text>
<text transform="translate(527.7,96.8) scale(0.9,1)" font-size="5.8" fill="#2a2a2a" text-anchor="end" >-0.2</text>
<text transform="translate(528.1,108.7) scale(0.9,1)" font-size="5.8" fill="#2a2a2a" text-anchor="end" >-0.4</text>
<text transform="translate(528.6,120.6) scale(0.9,1)" font-size="5.8" fill="#2a2a2a" text-anchor="end" >-0.6</text>
<text transform="translate(528.8,152.1) scale(0.86,1)" font-size="5.4" fill="#2a2a2a" text-anchor="middle" >8</text>
<text transform="translate(544.8,161.2) scale(0.86,1)" font-size="5.4" fill="#2a2a2a" text-anchor="middle" >7</text>
<text transform="translate(560.9,170.2) scale(0.86,1)" font-size="5.4" fill="#2a2a2a" text-anchor="middle" >6</text>
<text transform="translate(577,179.3) scale(0.86,1)" font-size="5.4" fill="#2a2a2a" text-anchor="middle" >5</text>
<text transform="translate(593,188.3) scale(0.86,1)" font-size="5.4" fill="#2a2a2a" text-anchor="middle" >4</text>
<text transform="translate(601.8,189.5) scale(0.86,1)" font-size="5.4" fill="#2a2a2a" text-anchor="middle" >0.3</text>
<text transform="translate(609.5,185.7) scale(0.86,1)" font-size="5.4" fill="#2a2a2a" text-anchor="middle" >0.4</text>
<text transform="translate(617.2,181.8) scale(0.86,1)" font-size="5.4" fill="#2a2a2a" text-anchor="middle" >0.5</text>
<text transform="translate(625,177.9) scale(0.86,1)" font-size="5.4" fill="#2a2a2a" text-anchor="middle" >0.6</text>
<text transform="translate(632.7,174.1) scale(0.86,1)" font-size="5.4" fill="#2a2a2a" text-anchor="middle" >0.7</text>
<text transform="translate(640.4,170.2) scale(0.86,1)" font-size="5.4" fill="#2a2a2a" text-anchor="middle" >0.8</text>
<text transform="translate(648.1,166.3) scale(0.86,1)" font-size="5.4" fill="#2a2a2a" text-anchor="middle" >0.9</text>
<text transform="translate(655.9,162.5) scale(0.86,1)" font-size="5.4" fill="#2a2a2a" text-anchor="middle" >1</text>
<text transform="translate(663.6,158.6) scale(0.86,1)" font-size="5.4" fill="#2a2a2a" text-anchor="middle" >1.1</text>
<text transform="translate(671.3,154.7) scale(0.86,1)" font-size="5.4" fill="#2a2a2a" text-anchor="middle" >1.2</text>
<text x="518.6" y="183.3" font-size="6.4" fill="#222" >B: PLGA (mg)</text>
<text x="629.1" y="184.6" font-size="6.3" fill="#222" >A: C.O amount (ml)</text>
<text transform="translate(509.8,95.3) rotate(-90)" font-size="7.4" fill="#222" text-anchor="middle">Y3: PDI (nm)</text>
<text transform="translate(492.9,164.1) scale(0.85,1)" font-size="17.6" font-weight="bold" fill="#111">C</text>
<rect x="604.2" y="13.8" width="14" height="5.6" fill="#fff" stroke="#444" stroke-width="0.5"/>
<text transform="translate(611.2,18.1) scale(0.78,1)" font-size="4.6" fill="#333" text-anchor="middle" >0.38464</text>
<line x1="618" y1="19.4" x2="618" y2="51" stroke="#2c2c2c" stroke-width="0.6" />
<path d="M192.8 320.3L249.1 279.2M249.1 279.2L324.6 307.4M192.1 308.9L249 268.8M249 268.8L325.2 296.2M191.4 297.6L248.9 258.4M248.9 258.4L325.9 285M190.6 286.2L248.8 248.1M248.8 248.1L326.5 273.8M189.9 274.9L248.7 237.7M248.7 237.7L327.2 262.6M189.2 263.5L248.5 227.3M248.5 227.3L327.8 251.4M188.5 252.2L248.4 216.9M248.4 216.9L328.5 240.2M187.8 240.8L248.3 206.6M248.3 206.6L329.1 229M194.2 343L187.8 240.8M206.9 310L202.9 232.2M221 299.7L218 223.7M235 289.4L233.2 215.1M249.1 279.2L248.3 206.6M249.3 299.9L248.3 206.6M257.5 282.3L257.3 209.1M265.9 285.4L266.3 211.6M274.3 288.6L275.3 214M282.7 291.7L284.2 216.5M291 294.9L293.2 219M299.4 298L302.2 221.5M307.8 301.2L311.2 224M316.2 304.3L320.2 226.5M323.3 329.9L329.1 229M194.2 343L249.3 299.9M249.3 299.9L323.3 329.9" stroke="#2c2c2c" stroke-width="0.6" fill="none"/>
<clipPath id="fd"><polygon points="272.3,382.2 194.2,343 249.3,299.9 323.3,329.9"/></clipPath>
<polygon points="272.3,382.2 194.2,343 249.3,299.9 323.3,329.9" fill="#ffff00" stroke="#333" stroke-width="0.5" />
<g clip-path="url(#fd)" fill="none">
<path d="M196,341.5 C205,340.5 215,339.5 222,340 C230,340.5 236,342 240,349 C242.5,355 242.5,362 242.3,370 M204.6,331.5 C212,330 220,329 226.5,329 C238,329.5 248.5,332 254,340 C257.5,348 257.5,356 257,364 C256.5,368 256,372 255.5,376" stroke="#58d8a0" stroke-width="0.9"/>
<path d="M262,320.5 C268,320.5 273,321 276,327 C278.5,335 276.5,347 274,356 C271,366 268,372 265,380" stroke="#80ec40" stroke-width="0.9"/>
<path d="M301.1,321.7 C296,332 290,345 286,354 C283,361 280,367 277.5,374" stroke="#a8f020" stroke-width="0.6"/>
<path d="M313.5,326.5 C309,334 304,342 299,350 C296,355 293,360 290,365 L286,371" stroke="#ff8000" stroke-width="0.8"/>
</g>
<polygon points="272.3,382.2 194.2,343 249.3,299.9 323.3,329.9" fill="none" stroke="#333" stroke-width="0.5" />
<path d="M273.1 312L269.5 313.3L271.9 310.7L275.5 309.4ZM270.1 253.9L267.2 252.3L269.2 249.3L272.1 250.9ZM262.3 253.5L259.4 251.6L261.4 248.5L264.3 250.5ZM237.8 256.6L235 252.7L237.1 249.6L239.9 253.4ZM230.8 259.1L227.9 255.1L230.1 252.1L232.9 255.9Z" fill="#60a22a" stroke="#60a22a" stroke-width="0.35"/>
<path d="M275.5 309.4L271.9 310.7L274.2 308.2L277.8 306.8Z" fill="#609c2a" stroke="#609c2a" stroke-width="0.35"/>
<path d="M277.8 306.8L274.2 308.2L276.6 305.7L280.1 304.3ZM275 252.4L272.1 250.9L274 248.2L276.9 249.7Z" fill="#5a9024" stroke="#5a9024" stroke-width="0.35"/>
<path d="M280.1 304.3L276.6 305.7L278.9 303L282.5 301.5Z" fill="#54841e" stroke="#54841e" stroke-width="0.35"/>
<path d="M282.5 301.5L278.9 303L281.2 300L284.8 298.5Z" fill="#4e781e" stroke="#4e781e" stroke-width="0.35"/>
<path d="M284.8 298.5L281.2 300L283.5 296.8L287 295.2Z" fill="#486618" stroke="#486618" stroke-width="0.35"/>
<path d="M287 295.2L283.5 296.8L285.7 293.4L289.3 291.7Z" fill="#425412" stroke="#425412" stroke-width="0.35"/>
<path d="M289.3 291.7L285.7 293.4L288 289.9L291.6 288.2Z" fill="#364812" stroke="#364812" stroke-width="0.35"/>
<path d="M291.6 288.2L288 289.9L290.2 286.6L293.8 284.7Z" fill="#30360c" stroke="#30360c" stroke-width="0.35"/>
<path d="M293.8 284.7L290.2 286.6L292.4 283.4L296 281.4Z" fill="#242a0c" stroke="#242a0c" stroke-width="0.35"/>
<path d="M296 281.4L292.4 283.4L294.6 280.3L298.2 278.3Z" fill="#1e1e06" stroke="#1e1e06" stroke-width="0.35"/>
<path d="M298.2 278.3L294.6 280.3L296.7 277.3L300.3 275.3ZM296.7 277.3L293.2 280.4L295.3 277.5L298.9 274.4Z" fill="#181806" stroke="#181806" stroke-width="0.35"/>
<path d="M300.3 275.3L296.7 277.3L298.9 274.4L302.5 272.3ZM302.5 272.3L298.9 274.4L301 271.6L304.6 269.4ZM304.6 269.4L301 271.6L303.1 268.7L306.7 266.5ZM306.7 266.5L303.1 268.7L305.2 265.9L308.8 263.6ZM308.8 263.6L305.2 265.9L307.3 263.1L310.9 260.6ZM298.9 274.4L295.3 277.5L297.4 274.7L301 271.6ZM303.1 268.7L299.5 271.9L301.6 269.1L305.2 265.9ZM305.2 265.9L301.6 269.1L303.7 266.3L307.3 263.1ZM307.3 263.1L303.7 266.3L305.7 263.5L309.3 260.2ZM309.3 260.2L305.7 263.5L307.8 260.6L311.4 257.3ZM311.4 257.3L307.8 260.6L309.8 257.8L313.4 254.5ZM305.7 263.5L302.2 266.4L304.2 263.5L307.8 260.6ZM307.8 260.6L304.2 263.5L306.2 260.8L309.8 257.8ZM309.8 257.8L306.2 260.8L308.3 258L311.8 255ZM311.8 255L308.3 258L310.2 255.2L313.8 252.2ZM313.8 252.2L310.2 255.2L312.2 252.4L315.7 249.4ZM315.7 249.4L312.2 252.4L314.2 249.7L317.7 246.7ZM308.3 258L304.8 260.7L306.8 258L310.2 255.2ZM310.2 255.2L306.8 258L308.7 255.2L312.2 252.4ZM312.2 252.4L308.7 255.2L310.7 252.5L314.2 249.7ZM314.2 249.7L310.7 252.5L312.6 249.9L316.1 247ZM316.1 247L312.6 249.9L314.5 247.5L318 244.7ZM312.6 249.9L309.2 252.4L311.1 250.1L314.5 247.5Z" fill="#121206" stroke="#121206" stroke-width="0.35"/>
<path d="M310.9 260.6L307.3 263.1L309.3 260.2L312.9 257.7ZM312.9 257.7L309.3 260.2L311.4 257.3L315 254.8ZM315 254.8L311.4 257.3L313.4 254.5L317 251.8ZM317 251.8L313.4 254.5L315.4 251.6L319 248.9ZM319 248.9L315.4 251.6L317.4 248.8L321 246ZM321 246L317.4 248.8L319.3 246L323 243.1ZM323 243.1L319.3 246L321.3 243.2L324.9 240.3ZM324.9 240.3L321.3 243.2L323.2 240.4L326.9 237.5ZM326.9 237.5L323.2 240.4L325.1 238L328.8 235ZM313.4 254.5L309.8 257.8L311.8 255L315.4 251.6ZM315.4 251.6L311.8 255L313.8 252.2L317.4 248.8ZM317.4 248.8L313.8 252.2L315.7 249.4L319.3 246ZM319.3 246L315.7 249.4L317.7 246.7L321.3 243.2ZM321.3 243.2L317.7 246.7L319.6 243.9L323.2 240.4ZM323.2 240.4L319.6 243.9L321.5 241.6L325.1 238ZM317.7 246.7L314.2 249.7L316.1 247L319.6 243.9ZM319.6 243.9L316.1 247L318 244.7L321.5 241.6Z" fill="#121200" stroke="#121200" stroke-width="0.35"/>
<path d="M269.5 313.3L265.9 315.9L268.3 313.3L271.9 310.7ZM271.9 310.7L268.3 313.3L270.7 310.8L274.2 308.2ZM268.1 256.8L265.2 255.3L267.2 252.3L270.1 253.9ZM263.2 258.3L260.3 256.6L262.3 253.5L265.2 255.3ZM260.3 256.6L257.4 254.6L259.4 251.6L262.3 253.5ZM255.4 257.7L252.6 255.6L254.6 252.5L257.4 254.6ZM250.5 258.8L247.7 256.4L249.7 253.3L252.6 255.6ZM245.6 259.6L242.8 256.7L244.8 253.6L247.7 256.4ZM240.7 259.9L237.8 256.6L239.9 253.4L242.8 256.7ZM235.8 259.9L232.9 255.9L235 252.7L237.8 256.6ZM228.7 262.3L225.8 258.2L227.9 255.1L230.8 259.1Z" fill="#5aa230" stroke="#5aa230" stroke-width="0.35"/>
<path d="M274.2 308.2L270.7 310.8L273 308.3L276.6 305.7Z" fill="#549c30" stroke="#549c30" stroke-width="0.35"/>
<path d="M276.6 305.7L273 308.3L275.3 305.6L278.9 303Z" fill="#54962a" stroke="#54962a" stroke-width="0.35"/>
<path d="M278.9 303L275.3 305.6L277.6 302.7L281.2 300ZM276 256.6L273 255.3L275 252.4L277.9 253.8Z" fill="#4e8a24" stroke="#4e8a24" stroke-width="0.35"/>
<path d="M281.2 300L277.6 302.7L279.9 299.5L283.5 296.8ZM277.9 253.8L275 252.4L276.9 249.7L279.9 251.1Z" fill="#4e7e1e" stroke="#4e7e1e" stroke-width="0.35"/>
<path d="M283.5 296.8L279.9 299.5L282.2 296.1L285.7 293.4Z" fill="#486c18" stroke="#486c18" stroke-width="0.35"/>
<path d="M285.7 293.4L282.2 296.1L284.4 292.8L288 289.9Z" fill="#426018" stroke="#426018" stroke-width="0.35"/>
<path d="M288 289.9L284.4 292.8L286.6 289.5L290.2 286.6Z" fill="#364e12" stroke="#364e12" stroke-width="0.35"/>
<path d="M290.2 286.6L286.6 289.5L288.8 286.3L292.4 283.4Z" fill="#303c0c" stroke="#303c0c" stroke-width="0.35"/>
<path d="M292.4 283.4L288.8 286.3L291 283.3L294.6 280.3Z" fill="#24300c" stroke="#24300c" stroke-width="0.35"/>
<path d="M294.6 280.3L291 283.3L293.2 280.4L296.7 277.3Z" fill="#1e2406" stroke="#1e2406" stroke-width="0.35"/>
<path d="M301 271.6L297.4 274.7L299.5 271.9L303.1 268.7ZM299.5 271.9L296 274.7L298.1 271.9L301.6 269.1ZM301.6 269.1L298.1 271.9L300.2 269.2L303.7 266.3ZM303.7 266.3L300.2 269.2L302.2 266.4L305.7 263.5ZM298.1 271.9L294.6 274.6L296.7 271.8L300.2 269.2ZM300.2 269.2L296.7 271.8L298.7 269L302.2 266.4ZM302.2 266.4L298.7 269L300.8 266.2L304.2 263.5ZM304.2 263.5L300.8 266.2L302.8 263.5L306.2 260.8ZM306.2 260.8L302.8 263.5L304.8 260.7L308.3 258ZM298.7 269L295.3 271.4L297.4 268.7L300.8 266.2ZM300.8 266.2L297.4 268.7L299.4 265.9L302.8 263.5ZM302.8 263.5L299.4 265.9L301.4 263.2L304.8 260.7ZM304.8 260.7L301.4 263.2L303.4 260.5L306.8 258ZM306.8 258L303.4 260.5L305.3 257.8L308.7 255.2ZM308.7 255.2L305.3 257.8L307.3 255.1L310.7 252.5ZM310.7 252.5L307.3 255.1L309.2 252.4L312.6 249.9ZM297.4 268.7L294 270.6L296 267.9L299.4 265.9ZM299.4 265.9L296 267.9L298 265.1L301.4 263.2ZM301.4 263.2L298 265.1L300 262.4L303.4 260.5ZM303.4 260.5L300 262.4L302 259.7L305.3 257.8ZM305.3 257.8L302 259.7L303.9 257.1L307.3 255.1ZM307.3 255.1L303.9 257.1L305.9 254.4L309.2 252.4ZM309.2 252.4L305.9 254.4L307.8 252.1L311.1 250.1ZM296 267.9L292.8 269.1L294.8 266.4L298 265.1ZM298 265.1L294.8 266.4L296.7 263.7L300 262.4ZM300 262.4L296.7 263.7L298.7 261L302 259.7ZM302 259.7L298.7 261L300.7 258.3L303.9 257.1ZM303.9 257.1L300.7 258.3L302.6 255.7L305.9 254.4ZM305.9 254.4L302.6 255.7L304.5 253.3L307.8 252.1ZM296.7 263.7L293.5 264.5L295.5 261.8L298.7 261ZM298.7 261L295.5 261.8L297.4 259.1L300.7 258.3ZM300.7 258.3L297.4 259.1L299.4 256.5L302.6 255.7ZM302.6 255.7L299.4 256.5L301.3 254.1L304.5 253.3ZM295.5 261.8L292.3 262.3L294.3 259.6L297.4 259.1ZM297.4 259.1L294.3 259.6L296.2 256.9L299.4 256.5ZM299.4 256.5L296.2 256.9L298.1 254.5L301.3 254.1ZM296.2 256.9L293.1 257.1L295 254.6L298.1 254.5Z" fill="#0c1206" stroke="#0c1206" stroke-width="0.35"/>
<path d="M265.9 315.9L262.5 318.4L264.8 315.8L268.3 313.3ZM268 268.3L265 267.1L267 264.1L270 265.3ZM265 267.1L262.1 265.8L264.1 262.8L267 264.1ZM262.1 265.8L259.2 264.4L261.2 261.3L264.1 262.8ZM257.1 267.4L254.2 265.8L256.3 262.7L259.2 264.4ZM254.2 265.8L251.3 264L253.4 260.9L256.3 262.7ZM249.3 267.1L246.4 265.1L248.5 261.9L251.3 264ZM241.5 265.9L238.6 263.1L240.7 259.9L243.5 262.7ZM229.4 269.6L226.5 265.5L228.7 262.3L231.5 266.3ZM222.2 271.9L219.3 267.5L221.5 264.4L224.4 268.7Z" fill="#48a23c" stroke="#48a23c" stroke-width="0.35"/>
<path d="M268.3 313.3L264.8 315.8L267.2 313.4L270.7 310.8ZM259.2 264.4L256.3 262.7L258.3 259.6L261.2 261.3ZM251.3 264L248.5 261.9L250.5 258.8L253.4 260.9ZM246.4 265.1L243.5 262.7L245.6 259.6L248.5 261.9ZM236.5 266.4L233.7 263.1L235.8 259.9L238.6 263.1Z" fill="#4ea23c" stroke="#4ea23c" stroke-width="0.35"/>
<path d="M270.7 310.8L267.2 313.4L269.5 310.8L273 308.3ZM270 265.3L267 264.1L269 261.2L272 262.4ZM267 264.1L264.1 262.8L266.1 259.8L269 261.2ZM264.1 262.8L261.2 261.3L263.2 258.3L266.1 259.8ZM256.3 262.7L253.4 260.9L255.4 257.7L258.3 259.6ZM243.5 262.7L240.7 259.9L242.8 256.7L245.6 259.6ZM231.5 266.3L228.7 262.3L230.8 259.1L233.7 263.1ZM224.4 268.7L221.5 264.4L223.6 261.3L226.5 265.5Z" fill="#4ea236" stroke="#4ea236" stroke-width="0.35"/>
<path d="M273 308.3L269.5 310.8L271.8 308.1L275.3 305.6ZM272 262.4L269 261.2L271 258.2L274 259.5Z" fill="#4e9c36" stroke="#4e9c36" stroke-width="0.35"/>
<path d="M275.3 305.6L271.8 308.1L274.1 305.2L277.6 302.7ZM274 259.5L271 258.2L273 255.3L276 256.6Z" fill="#4e9630" stroke="#4e9630" stroke-width="0.35"/>
<path d="M277.6 302.7L274.1 305.2L276.4 302L279.9 299.5Z" fill="#4e8a2a" stroke="#4e8a2a" stroke-width="0.35"/>
<path d="M279.9 299.5L276.4 302L278.7 298.7L282.2 296.1Z" fill="#487e24" stroke="#487e24" stroke-width="0.35"/>
<path d="M282.2 296.1L278.7 298.7L280.9 295.4L284.4 292.8Z" fill="#42721e" stroke="#42721e" stroke-width="0.35"/>
<path d="M284.4 292.8L280.9 295.4L283.1 292.1L286.6 289.5Z" fill="#3c6618" stroke="#3c6618" stroke-width="0.35"/>
<path d="M286.6 289.5L283.1 292.1L285.3 289L288.8 286.3Z" fill="#365412" stroke="#365412" stroke-width="0.35"/>
<path d="M288.8 286.3L285.3 289L287.5 286L291 283.3Z" fill="#304812" stroke="#304812" stroke-width="0.35"/>
<path d="M291 283.3L287.5 286L289.6 283.1L293.2 280.4Z" fill="#24360c" stroke="#24360c" stroke-width="0.35"/>
<path d="M293.2 280.4L289.6 283.1L291.8 280.3L295.3 277.5Z" fill="#1e2a0c" stroke="#1e2a0c" stroke-width="0.35"/>
<path d="M295.3 277.5L291.8 280.3L293.9 277.5L297.4 274.7Z" fill="#181e06" stroke="#181e06" stroke-width="0.35"/>
<path d="M297.4 274.7L293.9 277.5L296 274.7L299.5 271.9ZM296 274.7L292.5 277.3L294.6 274.6L298.1 271.9ZM295.3 271.4L292 273.3L294 270.6L297.4 268.7ZM293.5 264.5L290.3 265.1L292.3 262.3L295.5 261.8ZM293.1 257.1L290 256.9L291.9 254.4L295 254.6Z" fill="#121806" stroke="#121806" stroke-width="0.35"/>
<path d="M262.5 318.4L259 320.8L261.4 318.2L264.8 315.8ZM268.4 310.5L265 312.4L267.3 309.5L270.7 307.5ZM270.7 307.5L267.3 309.5L269.6 306.4L273 304.4ZM271.8 303.2L268.5 304.9L270.7 301.7L274.1 300ZM270.9 279.2L267.8 278.7L269.9 275.8L272.9 276.3ZM269.9 275.8L266.9 275.1L268.9 272.1L271.9 272.9ZM266.9 275.1L263.9 274.2L265.9 271.2L268.9 272.1ZM263.9 274.2L260.9 273.1L263 270.1L265.9 271.2ZM260.9 273.1L258 271.9L260 268.9L263 270.1ZM253 273.6L250.1 272L252.2 268.9L255.1 270.5ZM250.1 272L247.2 270.3L249.3 267.1L252.2 268.9ZM245.1 273.4L242.2 271.4L244.3 268.2L247.2 270.3ZM242.2 271.4L239.4 269.1L241.5 265.9L244.3 268.2ZM237.3 272.3L234.4 269.6L236.5 266.4L239.4 269.1ZM232.3 272.9L229.4 269.6L231.5 266.3L234.4 269.6ZM225.1 276.2L222.2 271.9L224.4 268.7L227.3 272.9ZM217.8 278.5L214.9 273.8L217.1 270.6L220 275.2Z" fill="#3c9c42" stroke="#3c9c42" stroke-width="0.35"/>
<path d="M264.8 315.8L261.4 318.2L263.8 315.7L267.2 313.4ZM267.2 313.4L263.8 315.7L266.1 313.1L269.5 310.8ZM258 271.9L255.1 270.5L257.1 267.4L260 268.9ZM255.1 270.5L252.2 268.9L254.2 265.8L257.1 267.4ZM247.2 270.3L244.3 268.2L246.4 265.1L249.3 267.1ZM227.3 272.9L224.4 268.7L226.5 265.5L229.4 269.6ZM220 275.2L217.1 270.6L219.3 267.5L222.2 271.9Z" fill="#429c42" stroke="#429c42" stroke-width="0.35"/>
<path d="M269.5 310.8L266.1 313.1L268.4 310.5L271.8 308.1ZM268.9 272.1L265.9 271.2L268 268.3L271 269.2ZM265.9 271.2L263 270.1L265 267.1L268 268.3ZM263 270.1L260 268.9L262.1 265.8L265 267.1ZM252.2 268.9L249.3 267.1L251.3 264L254.2 265.8Z" fill="#42a242" stroke="#42a242" stroke-width="0.35"/>
<path d="M271.8 308.1L268.4 310.5L270.7 307.5L274.1 305.2ZM271 269.2L268 268.3L270 265.3L273 266.3Z" fill="#489c3c" stroke="#489c3c" stroke-width="0.35"/>
<path d="M274.1 305.2L270.7 307.5L273 304.4L276.4 302ZM273 266.3L270 265.3L272 262.4L275 263.4Z" fill="#489636" stroke="#489636" stroke-width="0.35"/>
<path d="M276.4 302L273 304.4L275.2 301.1L278.7 298.7ZM275 263.4L272 262.4L274 259.5L277 260.6Z" fill="#489030" stroke="#489030" stroke-width="0.35"/>
<path d="M278.7 298.7L275.2 301.1L277.5 297.8L280.9 295.4Z" fill="#42842a" stroke="#42842a" stroke-width="0.35"/>
<path d="M280.9 295.4L277.5 297.8L279.7 294.6L283.1 292.1ZM278.9 257.7L276 256.6L277.9 253.8L280.9 254.9Z" fill="#427824" stroke="#427824" stroke-width="0.35"/>
<path d="M283.1 292.1L279.7 294.6L281.9 291.5L285.3 289Z" fill="#3c6c1e" stroke="#3c6c1e" stroke-width="0.35"/>
<path d="M285.3 289L281.9 291.5L284 288.6L287.5 286Z" fill="#365a18" stroke="#365a18" stroke-width="0.35"/>
<path d="M287.5 286L284 288.6L286.2 285.7L289.6 283.1Z" fill="#304e12" stroke="#304e12" stroke-width="0.35"/>
<path d="M289.6 283.1L286.2 285.7L288.3 282.9L291.8 280.3Z" fill="#243c0c" stroke="#243c0c" stroke-width="0.35"/>
<path d="M291.8 280.3L288.3 282.9L290.4 280.1L293.9 277.5Z" fill="#1e300c" stroke="#1e300c" stroke-width="0.35"/>
<path d="M293.9 277.5L290.4 280.1L292.5 277.3L296 274.7Z" fill="#182406" stroke="#182406" stroke-width="0.35"/>
<path d="M259 320.8L255.7 322.8L258 320.2L261.4 318.2ZM268.5 304.9L265.2 306.3L267.4 303.1L270.7 301.7ZM268.6 298L265.4 298.8L267.6 295.9L270.8 295ZM269.7 293L266.6 293.5L268.7 290.6L271.9 290.1ZM268.7 290.6L265.6 290.8L267.7 288L270.8 287.8ZM267.7 288L264.6 287.8L266.7 284.9L269.8 285.1ZM266.7 284.9L263.7 284.5L265.8 281.6L268.8 282.1ZM263.7 284.5L260.6 283.9L262.7 280.9L265.8 281.6ZM245.9 278.3L243 276.6L245.1 273.4L248 275.2ZM238 277.8L235.1 275.6L237.3 272.3L240.1 274.6ZM233 278.8L230.1 276.1L232.3 272.9L235.1 275.6ZM228 279.5L225.1 276.2L227.3 272.9L230.1 276.1Z" fill="#309c48" stroke="#309c48" stroke-width="0.35"/>
<path d="M261.4 318.2L258 320.2L260.4 317.7L263.8 315.7ZM263.8 315.7L260.4 317.7L262.7 315.1L266.1 313.1ZM266.1 313.1L262.7 315.1L265 312.4L268.4 310.5ZM267.3 309.5L264 311.2L266.3 308.1L269.6 306.4ZM269.6 306.4L266.3 308.1L268.5 304.9L271.8 303.2ZM270.7 301.7L267.4 303.1L269.7 299.9L272.9 298.5ZM269.7 299.9L266.4 301L268.6 298L271.8 296.9ZM270.8 295L267.6 295.9L269.7 293L272.9 292.2ZM271.9 290.1L268.7 290.6L270.8 287.8L274 287.3ZM270.8 287.8L267.7 288L269.8 285.1L272.9 285ZM269.8 285.1L266.7 284.9L268.8 282.1L271.9 282.3ZM268.8 282.1L265.8 281.6L267.8 278.7L270.9 279.2ZM265.8 281.6L262.7 280.9L264.8 278L267.8 278.7ZM262.7 280.9L259.7 280.1L261.8 277.2L264.8 278ZM264.8 278L261.8 277.2L263.9 274.2L266.9 275.1ZM259.7 280.1L256.8 279.1L258.9 276.1L261.8 277.2ZM261.8 277.2L258.9 276.1L260.9 273.1L263.9 274.2ZM256.8 279.1L253.8 278L255.9 274.9L258.9 276.1ZM258.9 276.1L255.9 274.9L258 271.9L260.9 273.1ZM253.8 278L250.9 276.7L253 273.6L255.9 274.9ZM250.9 276.7L248 275.2L250.1 272L253 273.6ZM248 275.2L245.1 273.4L247.2 270.3L250.1 272ZM243 276.6L240.1 274.6L242.2 271.4L245.1 273.4ZM240.1 274.6L237.3 272.3L239.4 269.1L242.2 271.4ZM235.1 275.6L232.3 272.9L234.4 269.6L237.3 272.3ZM230.1 276.1L227.3 272.9L229.4 269.6L232.3 272.9ZM222.9 279.5L220 275.2L222.2 271.9L225.1 276.2ZM215.6 281.8L212.7 276.9L214.9 273.8L217.8 278.5Z" fill="#369c48" stroke="#369c48" stroke-width="0.35"/>
<path d="M273 304.4L269.6 306.4L271.8 303.2L275.2 301.1ZM271.9 272.9L268.9 272.1L271 269.2L274 270Z" fill="#429c3c" stroke="#429c3c" stroke-width="0.35"/>
<path d="M275.2 301.1L271.8 303.2L274.1 300L277.5 297.8Z" fill="#429636" stroke="#429636" stroke-width="0.35"/>
<path d="M277.5 297.8L274.1 300L276.3 296.8L279.7 294.6ZM276 267.1L273 266.3L275 263.4L278 264.3Z" fill="#428a30" stroke="#428a30" stroke-width="0.35"/>
<path d="M279.7 294.6L276.3 296.8L278.5 293.7L281.9 291.5Z" fill="#3c7e2a" stroke="#3c7e2a" stroke-width="0.35"/>
<path d="M281.9 291.5L278.5 293.7L280.6 290.8L284 288.6Z" fill="#3c7224" stroke="#3c7224" stroke-width="0.35"/>
<path d="M284 288.6L280.6 290.8L282.8 287.9L286.2 285.7ZM281.9 258.6L278.9 257.7L280.9 254.9L283.9 255.8Z" fill="#36601e" stroke="#36601e" stroke-width="0.35"/>
<path d="M286.2 285.7L282.8 287.9L284.9 285.1L288.3 282.9Z" fill="#305418" stroke="#305418" stroke-width="0.35"/>
<path d="M288.3 282.9L284.9 285.1L287 282.4L290.4 280.1Z" fill="#2a4212" stroke="#2a4212" stroke-width="0.35"/>
<path d="M290.4 280.1L287 282.4L289.1 279.7L292.5 277.3ZM288 259.7L285 259.3L286.9 256.5L290 256.9Z" fill="#1e360c" stroke="#1e360c" stroke-width="0.35"/>
<path d="M292.5 277.3L289.1 279.7L291.2 276.9L294.6 274.6ZM291.2 276.9L287.9 278.8L289.9 276.1L293.3 274.2ZM290.7 271.9L287.5 272.8L289.5 270L292.8 269.1ZM290.3 265.1L287.2 265.3L289.2 262.5L292.3 262.3ZM290 256.9L286.9 256.5L288.9 254L291.9 254.4Z" fill="#182a0c" stroke="#182a0c" stroke-width="0.35"/>
<path d="M294.6 274.6L291.2 276.9L293.3 274.2L296.7 271.8ZM294 270.6L290.7 271.9L292.8 269.1L296 267.9ZM292.8 269.1L289.5 270L291.5 267.3L294.8 266.4ZM292.3 262.3L289.2 262.5L291.1 259.8L294.3 259.6Z" fill="#121e06" stroke="#121e06" stroke-width="0.35"/>
<path d="M296.7 271.8L293.3 274.2L295.3 271.4L298.7 269ZM294.8 266.4L291.5 267.3L293.5 264.5L296.7 263.7ZM294.3 259.6L291.1 259.8L293.1 257.1L296.2 256.9Z" fill="#0c1806" stroke="#0c1806" stroke-width="0.35"/>
<path d="M255.7 322.8L252.3 324.5L254.7 321.9L258 320.2ZM261.7 314.1L258.4 315.5L260.7 312.6L264 311.2ZM263 309.5L259.7 310.6L262 307.4L265.2 306.3ZM264.2 304.2L261 305L263.2 301.9L266.4 301ZM263.2 301.9L260.1 302.5L262.2 299.4L265.4 298.8ZM260.4 293.7L257.3 293.3L259.4 290.4L262.5 290.7ZM259.4 290.4L256.4 289.8L258.5 286.8L261.6 287.4ZM256.4 289.8L253.4 289.1L255.5 286.1L258.5 286.8ZM241.6 284.7L238.7 283L240.9 279.8L243.8 281.5ZM233.7 284.4L230.8 282.1L233 278.8L235.9 281.1ZM218.5 286.3L215.6 281.8L217.8 278.5L220.7 282.9Z" fill="#2a9c54" stroke="#2a9c54" stroke-width="0.35"/>
<path d="M258 320.2L254.7 321.9L257.1 319.4L260.4 317.7ZM260.4 317.7L257.1 319.4L259.4 316.8L262.7 315.1ZM262.7 315.1L259.4 316.8L261.7 314.1L265 312.4ZM264 311.2L260.7 312.6L263 309.5L266.3 308.1ZM265.2 306.3L262 307.4L264.2 304.2L267.4 303.1ZM266.4 301L263.2 301.9L265.4 298.8L268.6 298ZM265.4 298.8L262.2 299.4L264.4 296.4L267.6 295.9ZM264.4 296.4L261.3 296.7L263.4 293.7L266.6 293.5ZM266.6 293.5L263.4 293.7L265.6 290.8L268.7 290.6ZM263.4 293.7L260.4 293.7L262.5 290.7L265.6 290.8ZM265.6 290.8L262.5 290.7L264.6 287.8L267.7 288ZM262.5 290.7L259.4 290.4L261.6 287.4L264.6 287.8ZM261.6 287.4L258.5 286.8L260.6 283.9L263.7 284.5ZM258.5 286.8L255.5 286.1L257.6 283.1L260.6 283.9ZM255.5 286.1L252.6 285.2L254.7 282.2L257.6 283.1ZM252.6 285.2L249.6 284.1L251.7 281.1L254.7 282.2ZM249.6 284.1L246.7 282.9L248.8 279.8L251.7 281.1ZM246.7 282.9L243.8 281.5L245.9 278.3L248.8 279.8ZM243.8 281.5L240.9 279.8L243 276.6L245.9 278.3ZM238.7 283L235.9 281.1L238 277.8L240.9 279.8ZM235.9 281.1L233 278.8L235.1 275.6L238 277.8ZM230.8 282.1L228 279.5L230.1 276.1L233 278.8ZM225.8 282.8L222.9 279.5L225.1 276.2L228 279.5ZM211.1 288.5L208.2 283.4L210.4 280.1L213.4 285.1Z" fill="#2a9c4e" stroke="#2a9c4e" stroke-width="0.35"/>
<path d="M265 312.4L261.7 314.1L264 311.2L267.3 309.5ZM266.3 308.1L263 309.5L265.2 306.3L268.5 304.9ZM267.4 303.1L264.2 304.2L266.4 301L269.7 299.9ZM267.6 295.9L264.4 296.4L266.6 293.5L269.7 293ZM264.6 287.8L261.6 287.4L263.7 284.5L266.7 284.9ZM260.6 283.9L257.6 283.1L259.7 280.1L262.7 280.9ZM257.6 283.1L254.7 282.2L256.8 279.1L259.7 280.1ZM254.7 282.2L251.7 281.1L253.8 278L256.8 279.1ZM251.7 281.1L248.8 279.8L250.9 276.7L253.8 278ZM248.8 279.8L245.9 278.3L248 275.2L250.9 276.7ZM240.9 279.8L238 277.8L240.1 274.6L243 276.6ZM220.7 282.9L217.8 278.5L220 275.2L222.9 279.5ZM213.4 285.1L210.4 280.1L212.7 276.9L215.6 281.8Z" fill="#309c4e" stroke="#309c4e" stroke-width="0.35"/>
<path d="M274.1 300L270.7 301.7L272.9 298.5L276.3 296.8ZM272.9 276.3L269.9 275.8L271.9 272.9L275 273.4Z" fill="#3c963c" stroke="#3c963c" stroke-width="0.35"/>
<path d="M276.3 296.8L272.9 298.5L275.1 295.5L278.5 293.7ZM275 273.4L271.9 272.9L274 270L277 270.6Z" fill="#3c9036" stroke="#3c9036" stroke-width="0.35"/>
<path d="M278.5 293.7L275.1 295.5L277.3 292.6L280.6 290.8ZM277 270.6L274 270L276 267.1L279 267.7Z" fill="#3c8430" stroke="#3c8430" stroke-width="0.35"/>
<path d="M280.6 290.8L277.3 292.6L279.5 289.8L282.8 287.9Z" fill="#36782a" stroke="#36782a" stroke-width="0.35"/>
<path d="M282.8 287.9L279.5 289.8L281.6 287L284.9 285.1ZM281 264.9L278 264.3L280 261.4L283 262.1Z" fill="#366624" stroke="#366624" stroke-width="0.35"/>
<path d="M284.9 285.1L281.6 287L283.7 284.2L287 282.4ZM283 262.1L280 261.4L281.9 258.6L285 259.3Z" fill="#305a1e" stroke="#305a1e" stroke-width="0.35"/>
<path d="M287 282.4L283.7 284.2L285.8 281.5L289.1 279.7Z" fill="#2a4818" stroke="#2a4818" stroke-width="0.35"/>
<path d="M289.1 279.7L285.8 281.5L287.9 278.8L291.2 276.9ZM286.9 256.5L283.9 255.8L285.8 253.2L288.9 254Z" fill="#243c12" stroke="#243c12" stroke-width="0.35"/>
<path d="M293.3 274.2L289.9 276.1L292 273.3L295.3 271.4Z" fill="#122406" stroke="#122406" stroke-width="0.35"/>
<path d="M252.3 324.5L249.1 326.1L251.4 323.4L254.7 321.9ZM258.4 315.5L255.2 316.7L257.5 313.7L260.7 312.6ZM258.8 308.3L255.6 308.9L257.8 305.7L261 305ZM257.8 305.7L254.7 306L256.9 302.8L260.1 302.5ZM256.9 302.8L253.8 302.8L256 299.7L259.1 299.7ZM256 299.7L253 299.4L255.1 296.3L258.2 296.6ZM255.1 296.3L252.1 295.8L254.3 292.8L257.3 293.3ZM252.1 295.8L249.1 295.2L251.3 292.2L254.3 292.8ZM245.3 290.4L242.4 289.2L244.6 286L247.5 287.3ZM234.4 289.5L231.5 287.6L233.7 284.4L236.6 286.3ZM226.5 288.8L223.6 286.1L225.8 282.8L228.7 285.4ZM221.4 289.5L218.5 286.3L220.7 282.9L223.6 286.1ZM206.6 295.5L203.6 290L205.9 286.7L208.9 292Z" fill="#2a9c66" stroke="#2a9c66" stroke-width="0.35"/>
<path d="M254.7 321.9L251.4 323.4L253.8 320.8L257.1 319.4ZM257.1 319.4L253.8 320.8L256.1 318.2L259.4 316.8ZM259.7 310.6L256.5 311.5L258.8 308.3L262 307.4ZM261 305L257.8 305.7L260.1 302.5L263.2 301.9ZM260.1 302.5L256.9 302.8L259.1 299.7L262.2 299.4ZM259.1 299.7L256 299.7L258.2 296.6L261.3 296.7ZM258.2 296.6L255.1 296.3L257.3 293.3L260.4 293.7ZM254.3 292.8L251.3 292.2L253.4 289.1L256.4 289.8ZM251.3 292.2L248.3 291.4L250.4 288.3L253.4 289.1ZM248.3 291.4L245.3 290.4L247.5 287.3L250.4 288.3ZM242.4 289.2L239.5 287.9L241.6 284.7L244.6 286ZM239.5 287.9L236.6 286.3L238.7 283L241.6 284.7ZM231.5 287.6L228.7 285.4L230.8 282.1L233.7 284.4ZM216.3 289.7L213.4 285.1L215.6 281.8L218.5 286.3Z" fill="#2a9c60" stroke="#2a9c60" stroke-width="0.35"/>
<path d="M259.4 316.8L256.1 318.2L258.4 315.5L261.7 314.1ZM260.7 312.6L257.5 313.7L259.7 310.6L263 309.5ZM262 307.4L258.8 308.3L261 305L264.2 304.2ZM262.2 299.4L259.1 299.7L261.3 296.7L264.4 296.4ZM261.3 296.7L258.2 296.6L260.4 293.7L263.4 293.7ZM257.3 293.3L254.3 292.8L256.4 289.8L259.4 290.4ZM253.4 289.1L250.4 288.3L252.6 285.2L255.5 286.1ZM250.4 288.3L247.5 287.3L249.6 284.1L252.6 285.2ZM247.5 287.3L244.6 286L246.7 282.9L249.6 284.1ZM244.6 286L241.6 284.7L243.8 281.5L246.7 282.9ZM236.6 286.3L233.7 284.4L235.9 281.1L238.7 283ZM228.7 285.4L225.8 282.8L228 279.5L230.8 282.1ZM223.6 286.1L220.7 282.9L222.9 279.5L225.8 282.8ZM208.9 292L205.9 286.7L208.2 283.4L211.1 288.5Z" fill="#2a9c5a" stroke="#2a9c5a" stroke-width="0.35"/>
<path d="M272.9 298.5L269.7 299.9L271.8 296.9L275.1 295.5Z" fill="#3c9642" stroke="#3c9642" stroke-width="0.35"/>
<path d="M275.1 295.5L271.8 296.9L274 294L277.3 292.6ZM274 279.4L270.9 279.2L272.9 276.3L276 276.6Z" fill="#3c903c" stroke="#3c903c" stroke-width="0.35"/>
<path d="M277.3 292.6L274 294L276.2 291.1L279.5 289.8Z" fill="#3c8436" stroke="#3c8436" stroke-width="0.35"/>
<path d="M279.5 289.8L276.2 291.1L278.3 288.3L281.6 287ZM279.3 283.8L276.1 284.5L278.2 281.7L281.4 281.1ZM279.1 276.5L276 276.6L278.1 273.7L281.2 273.7Z" fill="#367830" stroke="#367830" stroke-width="0.35"/>
<path d="M281.6 287L278.3 288.3L280.4 285.6L283.7 284.2Z" fill="#366c2a" stroke="#366c2a" stroke-width="0.35"/>
<path d="M283.7 284.2L280.4 285.6L282.5 282.8L285.8 281.5ZM282.1 268L279 267.7L281 264.9L284.1 265.2Z" fill="#30601e" stroke="#30601e" stroke-width="0.35"/>
<path d="M285.8 281.5L282.5 282.8L284.6 280.1L287.9 278.8Z" fill="#2a4e18" stroke="#2a4e18" stroke-width="0.35"/>
<path d="M287.9 278.8L284.6 280.1L286.7 277.4L289.9 276.1ZM286.1 262.4L283 262.1L285 259.3L288 259.7Z" fill="#244212" stroke="#244212" stroke-width="0.35"/>
<path d="M289.9 276.1L286.7 277.4L288.7 274.6L292 273.3Z" fill="#1e3012" stroke="#1e3012" stroke-width="0.35"/>
<path d="M292 273.3L288.7 274.6L290.7 271.9L294 270.6Z" fill="#18240c" stroke="#18240c" stroke-width="0.35"/>
<path d="M249.1 326.1L245.8 327.5L248.2 324.8L251.4 323.4ZM252.9 319.5L249.7 320.5L252 317.6L255.2 316.7ZM254.3 314.6L251.1 315.3L253.4 312.2L256.5 311.5ZM253.4 312.2L250.3 312.5L252.5 309.3L255.6 308.9ZM252.5 309.3L249.4 309.3L251.6 306L254.7 306ZM251.6 306L248.6 305.8L250.8 302.5L253.8 302.8ZM247.7 302.1L244.7 301.6L246.9 298.4L249.9 298.9ZM244 297.6L241 296.7L243.2 293.5L246.1 294.5ZM241 296.7L238.1 295.6L240.2 292.4L243.2 293.5ZM238.1 295.6L235.2 294.4L237.3 291.1L240.2 292.4ZM235.2 294.4L232.3 292.8L234.4 289.5L237.3 291.1ZM227.2 294.3L224.3 292.1L226.5 288.8L229.4 291ZM222.1 295.6L219.2 292.9L221.4 289.5L224.3 292.1ZM217 296.4L214.1 293.2L216.3 289.7L219.2 292.9ZM211.8 296.7L208.9 292L211.1 288.5L214.1 293.2Z" fill="#2a9678" stroke="#2a9678" stroke-width="0.35"/>
<path d="M251.4 323.4L248.2 324.8L250.6 322.1L253.8 320.8ZM256.5 311.5L253.4 312.2L255.6 308.9L258.8 308.3ZM255.6 308.9L252.5 309.3L254.7 306L257.8 305.7ZM254.7 306L251.6 306L253.8 302.8L256.9 302.8ZM253.8 302.8L250.8 302.5L253 299.4L256 299.7ZM249.9 298.9L246.9 298.4L249.1 295.2L252.1 295.8ZM232.3 292.8L229.4 291L231.5 287.6L234.4 289.5Z" fill="#2a9c72" stroke="#2a9c72" stroke-width="0.35"/>
<path d="M253.8 320.8L250.6 322.1L252.9 319.5L256.1 318.2ZM256.1 318.2L252.9 319.5L255.2 316.7L258.4 315.5ZM257.5 313.7L254.3 314.6L256.5 311.5L259.7 310.6ZM253 299.4L249.9 298.9L252.1 295.8L255.1 296.3ZM249.1 295.2L246.1 294.5L248.3 291.4L251.3 292.2ZM246.1 294.5L243.2 293.5L245.3 290.4L248.3 291.4ZM243.2 293.5L240.2 292.4L242.4 289.2L245.3 290.4ZM240.2 292.4L237.3 291.1L239.5 287.9L242.4 289.2ZM237.3 291.1L234.4 289.5L236.6 286.3L239.5 287.9ZM229.4 291L226.5 288.8L228.7 285.4L231.5 287.6ZM224.3 292.1L221.4 289.5L223.6 286.1L226.5 288.8ZM219.2 292.9L216.3 289.7L218.5 286.3L221.4 289.5ZM214.1 293.2L211.1 288.5L213.4 285.1L216.3 289.7Z" fill="#2a9c6c" stroke="#2a9c6c" stroke-width="0.35"/>
<path d="M271.8 296.9L268.6 298L270.8 295L274 294Z" fill="#369c42" stroke="#369c42" stroke-width="0.35"/>
<path d="M274 294L270.8 295L272.9 292.2L276.2 291.1ZM272.9 292.2L269.7 293L271.9 290.1L275.1 289.4ZM272.9 285L269.8 285.1L271.9 282.3L275 282.1ZM271.9 282.3L268.8 282.1L270.9 279.2L274 279.4Z" fill="#369642" stroke="#369642" stroke-width="0.35"/>
<path d="M276.2 291.1L272.9 292.2L275.1 289.4L278.3 288.3ZM276.1 284.5L272.9 285L275 282.1L278.2 281.7Z" fill="#368a3c" stroke="#368a3c" stroke-width="0.35"/>
<path d="M278.3 288.3L275.1 289.4L277.2 286.6L280.4 285.6ZM278.2 281.7L275 282.1L277.1 279.3L280.2 279ZM278.1 273.7L275 273.4L277 270.6L280.1 270.9Z" fill="#367e30" stroke="#367e30" stroke-width="0.35"/>
<path d="M280.4 285.6L277.2 286.6L279.3 283.8L282.5 282.8ZM280.1 270.9L277 270.6L279 267.7L282.1 268Z" fill="#36722a" stroke="#36722a" stroke-width="0.35"/>
<path d="M282.5 282.8L279.3 283.8L281.4 281.1L284.6 280.1ZM281.2 273.7L278.1 273.7L280.1 270.9L283.2 270.9Z" fill="#306624" stroke="#306624" stroke-width="0.35"/>
<path d="M284.6 280.1L281.4 281.1L283.4 278.3L286.7 277.4ZM284.3 273.4L281.2 273.7L283.2 270.9L286.3 270.6Z" fill="#2a541e" stroke="#2a541e" stroke-width="0.35"/>
<path d="M286.7 277.4L283.4 278.3L285.5 275.5L288.7 274.6ZM285.2 268.1L282.1 268L284.1 265.2L287.2 265.3Z" fill="#244818" stroke="#244818" stroke-width="0.35"/>
<path d="M288.7 274.6L285.5 275.5L287.5 272.8L290.7 271.9ZM288.3 267.8L285.2 268.1L287.2 265.3L290.3 265.1Z" fill="#1e3612" stroke="#1e3612" stroke-width="0.35"/>
<path d="M245.8 327.5L242.7 328.7L245 325.9L248.2 324.8ZM248.2 324.8L245 325.9L247.4 323.2L250.6 322.1ZM249.7 320.5L246.5 321.3L248.8 318.4L252 317.6ZM251.1 315.3L248 315.8L250.3 312.5L253.4 312.2ZM250.3 312.5L247.2 312.6L249.4 309.3L252.5 309.3ZM249.4 309.3L246.4 309.1L248.6 305.8L251.6 306ZM245.5 305.4L242.5 304.8L244.7 301.6L247.7 302.1ZM238.8 300L235.9 298.9L238.1 295.6L241 296.7ZM235.9 298.9L233 297.7L235.2 294.4L238.1 295.6ZM225 297.7L222.1 295.6L224.3 292.1L227.2 294.3ZM219.9 299L217 296.4L219.2 292.9L222.1 295.6ZM214.7 300L211.8 296.7L214.1 293.2L217 296.4ZM209.6 300.3L206.6 295.5L208.9 292L211.8 296.7Z" fill="#2a9684" stroke="#2a9684" stroke-width="0.35"/>
<path d="M250.6 322.1L247.4 323.2L249.7 320.5L252.9 319.5ZM252 317.6L248.8 318.4L251.1 315.3L254.3 314.6ZM248.6 305.8L245.5 305.4L247.7 302.1L250.8 302.5ZM244.7 301.6L241.8 300.9L244 297.6L246.9 298.4ZM241.8 300.9L238.8 300L241 296.7L244 297.6ZM233 297.7L230.1 296.2L232.3 292.8L235.2 294.4ZM230.1 296.2L227.2 294.3L229.4 291L232.3 292.8ZM202 302.7L199 297L201.3 293.5L204.3 299.1Z" fill="#2a967e" stroke="#2a967e" stroke-width="0.35"/>
<path d="M255.2 316.7L252 317.6L254.3 314.6L257.5 313.7ZM250.8 302.5L247.7 302.1L249.9 298.9L253 299.4ZM246.9 298.4L244 297.6L246.1 294.5L249.1 295.2ZM204.3 299.1L201.3 293.5L203.6 290L206.6 295.5Z" fill="#2a9672" stroke="#2a9672" stroke-width="0.35"/>
<path d="M275.1 289.4L271.9 290.1L274 287.3L277.2 286.6ZM275 282.1L271.9 282.3L274 279.4L277.1 279.3Z" fill="#36903c" stroke="#36903c" stroke-width="0.35"/>
<path d="M277.2 286.6L274 287.3L276.1 284.5L279.3 283.8ZM277.1 279.3L274 279.4L276 276.6L279.1 276.5Z" fill="#368436" stroke="#368436" stroke-width="0.35"/>
<path d="M281.4 281.1L278.2 281.7L280.2 279L283.4 278.3Z" fill="#306c2a" stroke="#306c2a" stroke-width="0.35"/>
<path d="M283.4 278.3L280.2 279L282.3 276.2L285.5 275.5ZM283.2 270.9L280.1 270.9L282.1 268L285.2 268.1Z" fill="#2a5a1e" stroke="#2a5a1e" stroke-width="0.35"/>
<path d="M285.5 275.5L282.3 276.2L284.3 273.4L287.5 272.8Z" fill="#244e18" stroke="#244e18" stroke-width="0.35"/>
<path d="M287.5 272.8L284.3 273.4L286.3 270.6L289.5 270ZM287.2 265.3L284.1 265.2L286.1 262.4L289.2 262.5Z" fill="#1e3c12" stroke="#1e3c12" stroke-width="0.35"/>
<path d="M289.5 270L286.3 270.6L288.3 267.8L291.5 267.3ZM289.2 262.5L286.1 262.4L288 259.7L291.1 259.8Z" fill="#18300c" stroke="#18300c" stroke-width="0.35"/>
<path d="M291.5 267.3L288.3 267.8L290.3 265.1L293.5 264.5ZM291.1 259.8L288 259.7L290 256.9L293.1 257.1Z" fill="#12240c" stroke="#12240c" stroke-width="0.35"/>
<path d="M242.7 328.7L239.5 329.7L241.9 326.8L245 325.9ZM244.2 324.1L241.1 324.6L243.4 321.8L246.5 321.3ZM245.7 318.8L242.6 318.9L244.9 315.8L248 315.8ZM244.9 315.8L241.9 315.6L244.1 312.4L247.2 312.6ZM241.1 312L238.1 311.5L240.3 308.2L243.3 308.7ZM237.3 307.5L234.4 306.7L236.6 303.3L239.6 304.2ZM234.4 306.7L231.5 305.7L233.7 302.3L236.6 303.3ZM231.5 305.7L228.5 304.5L230.8 301.1L233.7 302.3ZM228.5 304.5L225.6 303.1L227.9 299.6L230.8 301.1ZM225.6 303.1L222.7 301.2L225 297.7L227.9 299.6ZM212.5 303.5L209.6 300.3L211.8 296.7L214.7 300ZM197.4 310L194.4 304.1L196.7 300.5L199.7 306.3Z" fill="#2a9696" stroke="#2a9696" stroke-width="0.35"/>
<path d="M245 325.9L241.9 326.8L244.2 324.1L247.4 323.2ZM246.5 321.3L243.4 321.8L245.7 318.8L248.8 318.4ZM248 315.8L244.9 315.8L247.2 312.6L250.3 312.5ZM244.1 312.4L241.1 312L243.3 308.7L246.4 309.1ZM240.3 308.2L237.3 307.5L239.6 304.2L242.5 304.8ZM222.7 301.2L219.9 299L222.1 295.6L225 297.7ZM217.6 302.6L214.7 300L217 296.4L219.9 299ZM207.3 303.9L204.3 299.1L206.6 295.5L209.6 300.3Z" fill="#2a9690" stroke="#2a9690" stroke-width="0.35"/>
<path d="M247.4 323.2L244.2 324.1L246.5 321.3L249.7 320.5ZM248.8 318.4L245.7 318.8L248 315.8L251.1 315.3ZM247.2 312.6L244.1 312.4L246.4 309.1L249.4 309.3ZM246.4 309.1L243.3 308.7L245.5 305.4L248.6 305.8ZM243.3 308.7L240.3 308.2L242.5 304.8L245.5 305.4ZM242.5 304.8L239.6 304.2L241.8 300.9L244.7 301.6ZM239.6 304.2L236.6 303.3L238.8 300L241.8 300.9ZM236.6 303.3L233.7 302.3L235.9 298.9L238.8 300ZM233.7 302.3L230.8 301.1L233 297.7L235.9 298.9ZM230.8 301.1L227.9 299.6L230.1 296.2L233 297.7ZM227.9 299.6L225 297.7L227.2 294.3L230.1 296.2ZM199.7 306.3L196.7 300.5L199 297L202 302.7Z" fill="#2a968a" stroke="#2a968a" stroke-width="0.35"/>
<path d="M274 287.3L270.8 287.8L272.9 285L276.1 284.5Z" fill="#369042" stroke="#369042" stroke-width="0.35"/>
<path d="M280.2 279L277.1 279.3L279.1 276.5L282.3 276.2Z" fill="#30722a" stroke="#30722a" stroke-width="0.35"/>
<path d="M282.3 276.2L279.1 276.5L281.2 273.7L284.3 273.4Z" fill="#306024" stroke="#306024" stroke-width="0.35"/>
<path d="M286.3 270.6L283.2 270.9L285.2 268.1L288.3 267.8Z" fill="#244218" stroke="#244218" stroke-width="0.35"/>
<path d="M239.5 329.7L236.4 330.4L238.8 327.5L241.9 326.8ZM241.1 324.6L238 324.9L240.3 321.9L243.4 321.8ZM240.3 321.9L237.3 321.8L239.6 318.8L242.6 318.9ZM239.6 318.8L236.5 318.5L238.8 315.3L241.9 315.6ZM238.8 315.3L235.8 314.9L238.1 311.5L241.1 312ZM232.1 310.2L229.2 309.2L231.5 305.7L234.4 306.7ZM229.2 309.2L226.3 308L228.5 304.5L231.5 305.7ZM226.3 308L223.4 306.6L225.6 303.1L228.5 304.5ZM210.2 307.1L207.3 303.9L209.6 300.3L212.5 303.5ZM195.1 313.7L192 307.7L194.4 304.1L197.4 310Z" fill="#2a96a2" stroke="#2a96a2" stroke-width="0.35"/>
<path d="M241.9 326.8L238.8 327.5L241.1 324.6L244.2 324.1ZM243.4 321.8L240.3 321.9L242.6 318.9L245.7 318.8ZM242.6 318.9L239.6 318.8L241.9 315.6L244.9 315.8ZM241.9 315.6L238.8 315.3L241.1 312L244.1 312.4ZM238.1 311.5L235.1 310.9L237.3 307.5L240.3 308.2ZM235.1 310.9L232.1 310.2L234.4 306.7L237.3 307.5ZM223.4 306.6L220.5 304.7L222.7 301.2L225.6 303.1ZM220.5 304.7L217.6 302.6L219.9 299L222.7 301.2ZM215.4 306.1L212.5 303.5L214.7 300L217.6 302.6ZM205 307.5L202 302.7L204.3 299.1L207.3 303.9Z" fill="#2a969c" stroke="#2a969c" stroke-width="0.35"/>
<path d="M236.4 330.4L233.3 330.7L235.7 327.8L238.8 327.5ZM233.5 318.1L230.6 317.6L232.8 314.3L235.8 314.9ZM227 312.6L224.1 311.5L226.3 308L229.2 309.2ZM224.1 311.5L221.2 310.1L223.4 306.6L226.3 308Z" fill="#308aa8" stroke="#308aa8" stroke-width="0.35"/>
<path d="M238.8 327.5L235.7 327.8L238 324.9L241.1 324.6ZM238 324.9L235 324.8L237.3 321.8L240.3 321.9ZM237.3 321.8L234.3 321.6L236.5 318.5L239.6 318.8ZM236.5 318.5L233.5 318.1L235.8 314.9L238.8 315.3ZM232.8 314.3L229.9 313.6L232.1 310.2L235.1 310.9ZM229.9 313.6L227 312.6L229.2 309.2L232.1 310.2ZM221.2 310.1L218.3 308.3L220.5 304.7L223.4 306.6ZM213.1 309.7L210.2 307.1L212.5 303.5L215.4 306.1ZM207.9 310.8L205 307.5L207.3 303.9L210.2 307.1Z" fill="#3090a8" stroke="#3090a8" stroke-width="0.35"/>
<path d="M276 276.6L272.9 276.3L275 273.4L278.1 273.7Z" fill="#3c8a36" stroke="#3c8a36" stroke-width="0.35"/>
<path d="M284.1 265.2L281 264.9L283 262.1L286.1 262.4Z" fill="#2a5418" stroke="#2a5418" stroke-width="0.35"/>
<path d="M233.3 330.7L230.3 330.8L232.6 327.8L235.7 327.8ZM232.6 327.8L229.6 327.7L231.9 324.6L235 324.8ZM231.9 324.6L228.9 324.4L231.3 321.3L234.3 321.6ZM231.3 321.3L228.3 320.9L230.6 317.6L233.5 318.1ZM224.7 316.1L221.8 315L224.1 311.5L227 312.6ZM221.8 315L218.9 313.6L221.2 310.1L224.1 311.5ZM205.6 314.4L202.7 311.2L205 307.5L207.9 310.8Z" fill="#367ea8" stroke="#367ea8" stroke-width="0.35"/>
<path d="M235.7 327.8L232.6 327.8L235 324.8L238 324.9ZM235 324.8L231.9 324.6L234.3 321.6L237.3 321.8ZM234.3 321.6L231.3 321.3L233.5 318.1L236.5 318.5ZM230.6 317.6L227.6 316.9L229.9 313.6L232.8 314.3ZM227.6 316.9L224.7 316.1L227 312.6L229.9 313.6ZM218.9 313.6L216 311.8L218.3 308.3L221.2 310.1ZM210.8 313.3L207.9 310.8L210.2 307.1L213.1 309.7ZM200.4 315L197.4 310L199.7 306.3L202.7 311.2Z" fill="#3684a8" stroke="#3684a8" stroke-width="0.35"/>
<path d="M279 267.7L276 267.1L278 264.3L281 264.9Z" fill="#3c782a" stroke="#3c782a" stroke-width="0.35"/>
<path d="M285 259.3L281.9 258.6L283.9 255.8L286.9 256.5Z" fill="#2a4812" stroke="#2a4812" stroke-width="0.35"/>
<path d="M230.3 330.8L227.2 330.8L229.6 327.7L232.6 327.8ZM228.9 324.4L226 324.1L228.3 320.9L231.3 321.3ZM228.3 320.9L225.3 320.3L227.6 316.9L230.6 317.6ZM225.3 320.3L222.4 319.4L224.7 316.1L227.6 316.9ZM213.7 315.4L210.8 313.3L213.1 309.7L216 311.8ZM198.1 318.7L195.1 313.7L197.4 310L200.4 315Z" fill="#3c78a8" stroke="#3c78a8" stroke-width="0.35"/>
<path d="M267.8 278.7L264.8 278L266.9 275.1L269.9 275.8ZM255.9 274.9L253 273.6L255.1 270.5L258 271.9Z" fill="#3c9c48" stroke="#3c9c48" stroke-width="0.35"/>
<path d="M274 270L271 269.2L273 266.3L276 267.1Z" fill="#429036" stroke="#429036" stroke-width="0.35"/>
<path d="M278 264.3L275 263.4L277 260.6L280 261.4Z" fill="#427e2a" stroke="#427e2a" stroke-width="0.35"/>
<path d="M280 261.4L277 260.6L278.9 257.7L281.9 258.6Z" fill="#3c6c24" stroke="#3c6c24" stroke-width="0.35"/>
<path d="M283.9 255.8L280.9 254.9L282.8 252.3L285.8 253.2Z" fill="#304e18" stroke="#304e18" stroke-width="0.35"/>
<path d="M227.2 330.8L224.2 330.8L226.6 327.6L229.6 327.7ZM226.6 327.6L223.6 327.3L226 324.1L228.9 324.4ZM223 323.5L220.1 322.8L222.4 319.4L225.3 320.3ZM211.4 318.9L208.5 316.9L210.8 313.3L213.7 315.4Z" fill="#426ca8" stroke="#426ca8" stroke-width="0.35"/>
<path d="M229.6 327.7L226.6 327.6L228.9 324.4L231.9 324.6ZM226 324.1L223 323.5L225.3 320.3L228.3 320.9ZM222.4 319.4L219.5 318.4L221.8 315L224.7 316.1ZM219.5 318.4L216.6 317.1L218.9 313.6L221.8 315ZM216.6 317.1L213.7 315.4L216 311.8L218.9 313.6ZM208.5 316.9L205.6 314.4L207.9 310.8L210.8 313.3ZM203.3 318.1L200.4 315L202.7 311.2L205.6 314.4Z" fill="#3c72a8" stroke="#3c72a8" stroke-width="0.35"/>
<path d="M277 260.6L274 259.5L276 256.6L278.9 257.7Z" fill="#48842a" stroke="#48842a" stroke-width="0.35"/>
<path d="M280.9 254.9L277.9 253.8L279.9 251.1L282.8 252.3Z" fill="#3c661e" stroke="#3c661e" stroke-width="0.35"/>
<path d="M224.2 330.8L221.3 330.6L223.6 327.3L226.6 327.6ZM223.6 327.3L220.7 326.8L223 323.5L226 324.1ZM220.1 322.8L217.2 321.8L219.5 318.4L222.4 319.4ZM217.2 321.8L214.3 320.6L216.6 317.1L219.5 318.4ZM214.3 320.6L211.4 318.9L213.7 315.4L216.6 317.1ZM206.2 320.5L203.3 318.1L205.6 314.4L208.5 316.9Z" fill="#4266a8" stroke="#4266a8" stroke-width="0.35"/>
<path d="M235.8 314.9L232.8 314.3L235.1 310.9L238.1 311.5ZM218.3 308.3L215.4 306.1L217.6 302.6L220.5 304.7ZM202.7 311.2L199.7 306.3L202 302.7L205 307.5Z" fill="#3096a8" stroke="#3096a8" stroke-width="0.35"/>
<path d="M221.3 330.6L218.4 330.2L220.7 326.8L223.6 327.3ZM217.8 326.2L214.9 325.3L217.2 321.8L220.1 322.8ZM214.9 325.3L212 324.1L214.3 320.6L217.2 321.8ZM212 324.1L209.1 322.5L211.4 318.9L214.3 320.6ZM203.9 324.2L201 321.8L203.3 318.1L206.2 320.5Z" fill="#485aa8" stroke="#485aa8" stroke-width="0.35"/>
<path d="M269 261.2L266.1 259.8L268.1 256.8L271 258.2ZM266.1 259.8L263.2 258.3L265.2 255.3L268.1 256.8ZM261.2 261.3L258.3 259.6L260.3 256.6L263.2 258.3ZM258.3 259.6L255.4 257.7L257.4 254.6L260.3 256.6ZM253.4 260.9L250.5 258.8L252.6 255.6L255.4 257.7ZM248.5 261.9L245.6 259.6L247.7 256.4L250.5 258.8ZM238.6 263.1L235.8 259.9L237.8 256.6L240.7 259.9ZM233.7 263.1L230.8 259.1L232.9 255.9L235.8 259.9ZM226.5 265.5L223.6 261.3L225.8 258.2L228.7 262.3Z" fill="#54a236" stroke="#54a236" stroke-width="0.35"/>
<path d="M271 258.2L268.1 256.8L270.1 253.9L273 255.3Z" fill="#5a9c30" stroke="#5a9c30" stroke-width="0.35"/>
<path d="M273 255.3L270.1 253.9L272.1 250.9L275 252.4Z" fill="#5a962a" stroke="#5a962a" stroke-width="0.35"/>
<path d="M218.4 330.2L215.4 329.6L217.8 326.2L220.7 326.8ZM215.4 329.6L212.5 328.8L214.9 325.3L217.8 326.2ZM212.5 328.8L209.7 327.7L212 324.1L214.9 325.3ZM209.7 327.7L206.8 326.1L209.1 322.5L212 324.1ZM206.8 326.1L203.9 324.2L206.2 320.5L209.1 322.5Z" fill="#4854a8" stroke="#4854a8" stroke-width="0.35"/>
<path d="M220.7 326.8L217.8 326.2L220.1 322.8L223 323.5ZM209.1 322.5L206.2 320.5L208.5 316.9L211.4 318.9Z" fill="#4860a8" stroke="#4860a8" stroke-width="0.35"/>
<path d="M260 268.9L257.1 267.4L259.2 264.4L262.1 265.8ZM244.3 268.2L241.5 265.9L243.5 262.7L246.4 265.1ZM239.4 269.1L236.5 266.4L238.6 263.1L241.5 265.9ZM234.4 269.6L231.5 266.3L233.7 263.1L236.5 266.4Z" fill="#42a23c" stroke="#42a23c" stroke-width="0.35"/>
<path d="M272.1 250.9L269.2 249.3L271.1 246.5L274 248.2Z" fill="#609c24" stroke="#609c24" stroke-width="0.35"/>
<path d="M265.2 255.3L262.3 253.5L264.3 250.5L267.2 252.3ZM257.4 254.6L254.6 252.5L256.6 249.4L259.4 251.6ZM252.6 255.6L249.7 253.3L251.7 250.1L254.6 252.5ZM247.7 256.4L244.8 253.6L246.9 250.4L249.7 253.3ZM242.8 256.7L239.9 253.4L242 250.3L244.8 253.6Z" fill="#60a230" stroke="#60a230" stroke-width="0.35"/>
<path d="M267.2 252.3L264.3 250.5L266.3 247.5L269.2 249.3ZM264.3 250.5L261.4 248.5L263.4 245.5L266.3 247.5ZM259.4 251.6L256.6 249.4L258.6 246.3L261.4 248.5ZM254.6 252.5L251.7 250.1L253.8 247L256.6 249.4ZM249.7 253.3L246.9 250.4L248.9 247.3L251.7 250.1ZM244.8 253.6L242 250.3L244 247.1L246.9 250.4ZM239.9 253.4L237.1 249.6L239.2 246.5L242 250.3ZM232.9 255.9L230.1 252.1L232.2 249.1L235 252.7Z" fill="#66a22a" stroke="#66a22a" stroke-width="0.35"/>
<path d="M269.2 249.3L266.3 247.5L268.3 244.6L271.1 246.5ZM261.4 248.5L258.6 246.3L260.6 243.3L263.4 245.5ZM256.6 249.4L253.8 247L255.8 243.9L258.6 246.3ZM251.7 250.1L248.9 247.3L250.9 244.1L253.8 247ZM246.9 250.4L244 247.1L246.1 244L248.9 247.3ZM235 252.7L232.2 249.1L234.3 246.1L237.1 249.6Z" fill="#6ca22a" stroke="#6ca22a" stroke-width="0.35"/>
<path d="M266.3 247.5L263.4 245.5L265.4 242.6L268.3 244.6Z" fill="#72a22a" stroke="#72a22a" stroke-width="0.35"/>
<path d="M263.4 245.5L260.6 243.3L262.6 240.3L265.4 242.6ZM248.9 247.3L246.1 244L248.1 240.8L250.9 244.1ZM244 247.1L241.2 243.4L243.3 240.3L246.1 244ZM237.1 249.6L234.3 246.1L236.3 243.1L239.2 246.5Z" fill="#78a224" stroke="#78a224" stroke-width="0.35"/>
<path d="M216 311.8L213.1 309.7L215.4 306.1L218.3 308.3Z" fill="#368aa8" stroke="#368aa8" stroke-width="0.35"/>
<path d="M258.6 246.3L255.8 243.9L257.7 240.9L260.6 243.3ZM253.8 247L250.9 244.1L252.9 241L255.8 243.9ZM242 250.3L239.2 246.5L241.2 243.4L244 247.1Z" fill="#72a224" stroke="#72a224" stroke-width="0.35"/>
<path d="M260.6 243.3L257.7 240.9L259.7 237.9L262.6 240.3ZM255.8 243.9L252.9 241L254.9 237.9L257.7 240.9ZM250.9 244.1L248.1 240.8L250.1 237.7L252.9 241ZM239.2 246.5L236.3 243.1L238.4 240.1L241.2 243.4Z" fill="#7ea224" stroke="#7ea224" stroke-width="0.35"/>
<path d="M257.7 240.9L254.9 237.9L256.9 234.9L259.7 237.9ZM252.9 241L250.1 237.7L252.1 234.6L254.9 237.9ZM246.1 244L243.3 240.3L245.3 237.2L248.1 240.8ZM241.2 243.4L238.4 240.1L240.5 237.1L243.3 240.3Z" fill="#84a224" stroke="#84a224" stroke-width="0.35"/>
<path d="M201 321.8L198.1 318.7L200.4 315L203.3 318.1Z" fill="#4260a8" stroke="#4260a8" stroke-width="0.35"/>
<path d="M254.9 237.9L252.1 234.6L254.1 231.6L256.9 234.9ZM250.1 237.7L247.3 234.2L249.3 231.2L252.1 234.6ZM243.3 240.3L240.5 237.1L242.5 234.2L245.3 237.2Z" fill="#90a224" stroke="#90a224" stroke-width="0.35"/>
<path d="M248.1 240.8L245.3 237.2L247.3 234.2L250.1 237.7Z" fill="#8aa224" stroke="#8aa224" stroke-width="0.35"/>
<path d="M252.1 234.6L249.3 231.2L251.3 228.2L254.1 231.6Z" fill="#9ca224" stroke="#9ca224" stroke-width="0.35"/>
<path d="M245.3 237.2L242.5 234.2L244.5 231.3L247.3 234.2Z" fill="#96a224" stroke="#96a224" stroke-width="0.35"/>
<path d="M247.3 234.2L244.5 231.3L246.5 228.4L249.3 231.2Z" fill="#9ca21e" stroke="#9ca21e" stroke-width="0.35"/>
<path d="M249.3 231.2L246.5 228.4L248.5 225.5L251.3 228.2Z" fill="#a8a21e" stroke="#a8a21e" stroke-width="0.35"/>
<path d="M273.1 312L274.8 310.1L276.5 308.2L278.2 306.4L279.9 304.6L281.6 302.6L283.2 300.6L284.9 298.3L286.5 295.9L288.2 293.4L289.8 290.9L291.4 288.4L293 285.8L294.6 283.4L296.2 281.1L297.8 278.8L299.4 276.6L300.9 274.4L302.5 272.3L304 270.2L305.5 268.1L307.1 266L308.6 263.9L310.1 261.8L311.6 259.7L313 257.5L314.5 255.4L316 253.3L317.4 251.2L318.9 249.1L320.3 247L321.8 244.9L323.2 242.8L324.6 240.8L326 238.7L327.4 236.7L328.8 235M273.1 312L270.5 312.6L267.9 314.5L265.4 316.3L262.8 318.2L260.4 319.9L257.9 321.5L255.5 322.9L253.1 324.2L250.7 325.3L248.3 326.4L246 327.4L243.7 328.3L241.4 329.1L239.2 329.8L236.9 330.3L234.7 330.6L232.5 330.8L230.3 330.8L228.1 330.8L225.9 330.8L223.8 330.7L221.6 330.6L219.5 330.4L217.4 330L215.3 329.5L213.2 329L211.1 328.3L209 327.4L206.9 326.2L204.9 324.9L202.8 323.3L200.7 321.5L198.6 319.3L196.4 316.3L194.2 312L192 307.7M270.5 312.6L272.2 310.7L273.9 308.9L275.6 307.1L277.3 305.3L279 303.4L280.6 301.3L282.3 299.1L283.9 296.8L285.6 294.3L287.2 291.9L288.8 289.4L290.5 286.9L292.1 284.5L293.6 282.2L295.2 280L296.8 277.8L298.3 275.7L299.9 273.6L301.4 271.5L302.9 269.4L304.5 267.4L306 265.3L307.5 263.3L309 261.2L310.4 259.1L311.9 257L313.4 255L314.8 252.9L316.3 250.8L317.7 248.7L319.2 246.7L320.6 244.7L322 242.6L323.4 240.6L324.8 238.6L326.2 237M274.8 310.1L272.2 310.7L269.6 312.6L267.1 314.4L264.6 316.3L262.1 318L259.6 319.6L257.2 321L254.8 322.3L252.4 323.4L250.1 324.5L247.7 325.4L245.4 326.3L243.1 327.1L240.9 327.7L238.6 328.2L236.4 328.5L234.2 328.6L232 328.6L229.8 328.6L227.6 328.5L225.5 328.4L223.3 328.2L221.2 328L219.1 327.6L217 327.1L214.9 326.5L212.8 325.7L210.7 324.8L208.6 323.6L206.5 322.2L204.5 320.7L202.4 318.8L200.3 316.6L198.1 313.6L195.9 309.4L193.7 305.1M267.9 314.5L269.6 312.6L271.3 310.8L273 309L274.7 307.1L276.4 305.2L278.1 303.2L279.7 301L281.4 298.7L283 296.3L284.6 293.9L286.2 291.4L287.9 289L289.5 286.6L291 284.3L292.6 282.1L294.2 280L295.7 277.9L297.3 275.8L298.8 273.8L300.3 271.7L301.9 269.7L303.4 267.7L304.9 265.6L306.3 263.6L307.8 261.5L309.3 259.4L310.8 257.4L312.2 255.3L313.7 253.3L315.1 251.3L316.5 249.2L318 247.2L319.4 245.2L320.8 243.2L322.2 241.2L323.5 239.6M276.5 308.2L273.9 308.9L271.3 310.8L268.8 312.6L266.3 314.5L263.8 316.2L261.3 317.8L258.9 319.2L256.5 320.4L254.1 321.6L251.8 322.6L249.4 323.5L247.1 324.4L244.8 325.1L242.6 325.7L240.3 326.1L238.1 326.4L235.9 326.5L233.7 326.5L231.5 326.4L229.3 326.3L227.1 326.1L225 325.9L222.9 325.6L220.8 325.2L218.7 324.6L216.6 324L214.5 323.2L212.4 322.2L210.3 321L208.2 319.6L206.1 318L204 316.2L201.9 313.9L199.8 310.9L197.6 306.7L195.4 302.5M265.4 316.3L267.1 314.4L268.8 312.6L270.5 310.8L272.2 309L273.8 307.1L275.5 305.1L277.2 302.9L278.8 300.7L280.4 298.3L282.1 295.9L283.7 293.4L285.3 291L286.9 288.7L288.5 286.4L290.1 284.3L291.6 282.1L293.2 280.1L294.7 278L296.2 276L297.8 273.9L299.3 271.9L300.8 269.9L302.3 267.9L303.8 265.9L305.2 263.8L306.7 261.8L308.2 259.7L309.6 257.7L311.1 255.7L312.5 253.7L313.9 251.7L315.4 249.7L316.8 247.7L318.2 245.7L319.6 243.8L320.9 242.1M278.2 306.4L275.6 307.1L273 309L270.5 310.8L268 312.7L265.5 314.4L263 316L260.6 317.3L258.2 318.6L255.8 319.7L253.5 320.7L251.1 321.6L248.8 322.4L246.5 323.1L244.3 323.7L242 324.1L239.8 324.3L237.6 324.4L235.3 324.3L233.2 324.2L231 324.1L228.8 323.9L226.7 323.6L224.6 323.2L222.4 322.8L220.3 322.2L218.2 321.5L216.1 320.7L214 319.7L212 318.4L209.9 317L207.8 315.4L205.7 313.5L203.6 311.2L201.5 308.2L199.3 304.1L197.1 299.9M262.8 318.2L264.6 316.3L266.3 314.5L268 312.7L269.7 310.8L271.3 308.9L273 306.9L274.6 304.8L276.3 302.5L277.9 300.1L279.5 297.7L281.2 295.3L282.8 292.9L284.4 290.6L285.9 288.4L287.5 286.2L289.1 284.1L290.6 282L292.2 280L293.7 278L295.2 276L296.7 274L298.2 272L299.7 269.9L301.2 267.9L302.7 265.9L304.2 263.9L305.6 261.8L307.1 259.8L308.5 257.8L310 255.8L311.4 253.8L312.8 251.8L314.2 249.9L315.6 247.9L317 246L318.4 244.3M279.9 304.6L277.3 305.3L274.7 307.1L272.2 309L269.7 310.8L267.2 312.6L264.7 314.1L262.3 315.5L259.9 316.7L257.5 317.8L255.1 318.8L252.8 319.7L250.5 320.5L248.2 321.1L245.9 321.7L243.7 322L241.4 322.2L239.2 322.2L237 322.2L234.8 322L232.7 321.8L230.5 321.6L228.4 321.3L226.2 320.9L224.1 320.4L222 319.8L219.9 319L217.8 318.2L215.7 317.1L213.6 315.9L211.5 314.4L209.5 312.8L207.4 310.9L205.3 308.6L203.1 305.5L201 301.4L198.8 297.4M260.4 319.9L262.1 318L263.8 316.2L265.5 314.4L267.2 312.6L268.8 310.7L270.5 308.6L272.2 306.5L273.8 304.2L275.4 301.9L277 299.5L278.7 297.1L280.3 294.7L281.9 292.4L283.4 290.2L285 288.1L286.6 286L288.1 283.9L289.7 281.9L291.2 279.9L292.7 277.9L294.2 275.9L295.7 273.9L297.2 271.9L298.7 269.9L300.2 267.9L301.7 265.8L303.1 263.8L304.6 261.8L306 259.8L307.4 257.8L308.9 255.8L310.3 253.9L311.7 251.9L313.1 250L314.5 248L315.9 246.4M281.6 302.6L279 303.4L276.4 305.2L273.8 307.1L271.3 308.9L268.8 310.7L266.4 312.2L264 313.6L261.5 314.8L259.2 315.9L256.8 316.9L254.5 317.7L252.2 318.5L249.9 319.1L247.6 319.6L245.4 319.9L243.1 320.1L240.9 320.1L238.7 320L236.5 319.8L234.3 319.6L232.2 319.3L230 319L227.9 318.5L225.8 318L223.6 317.3L221.5 316.6L219.4 315.7L217.4 314.6L215.3 313.3L213.2 311.8L211.1 310.2L209 308.2L206.9 305.9L204.8 302.9L202.6 298.8L200.4 294.8M257.9 321.5L259.6 319.6L261.3 317.8L263 316L264.7 314.1L266.4 312.2L268 310.2L269.7 308.1L271.3 305.8L273 303.5L274.6 301.1L276.2 298.8L277.8 296.4L279.4 294.1L281 292L282.5 289.8L284.1 287.7L285.6 285.7L287.2 283.7L288.7 281.7L290.2 279.7L291.8 277.7L293.3 275.7L294.7 273.7L296.2 271.7L297.7 269.7L299.2 267.7L300.6 265.7L302.1 263.7L303.5 261.7L305 259.8L306.4 257.8L307.8 255.8L309.2 253.9L310.6 251.9L312 250L313.4 248.4M283.2 300.6L280.6 301.3L278.1 303.2L275.5 305.1L273 306.9L270.5 308.6L268 310.2L265.6 311.6L263.2 312.8L260.8 313.9L258.5 314.8L256.1 315.7L253.8 316.4L251.5 317L249.3 317.5L247 317.8L244.8 317.9L242.5 317.9L240.3 317.7L238.1 317.5L236 317.3L233.8 317L231.7 316.6L229.5 316.1L227.4 315.5L225.3 314.9L223.2 314.1L221.1 313.2L219 312.1L216.9 310.7L214.8 309.2L212.7 307.6L210.7 305.6L208.6 303.3L206.4 300.3L204.3 296.3L202.1 292.3M255.5 322.9L257.2 321L258.9 319.2L260.6 317.3L262.3 315.5L264 313.6L265.6 311.6L267.3 309.5L268.9 307.2L270.5 304.9L272.1 302.6L273.8 300.2L275.4 297.9L276.9 295.7L278.5 293.5L280.1 291.4L281.7 289.3L283.2 287.3L284.7 285.3L286.3 283.3L287.8 281.3L289.3 279.3L290.8 277.3L292.3 275.4L293.8 273.4L295.3 271.4L296.7 269.4L298.2 267.4L299.6 265.4L301.1 263.5L302.5 261.5L303.9 259.5L305.4 257.6L306.8 255.7L308.2 253.7L309.6 251.8L310.9 250.2M284.9 298.3L282.3 299.1L279.7 301L277.2 302.9L274.6 304.8L272.2 306.5L269.7 308.1L267.3 309.5L264.9 310.7L262.5 311.8L260.1 312.7L257.8 313.5L255.5 314.2L253.2 314.8L250.9 315.2L248.6 315.5L246.4 315.6L244.2 315.6L242 315.4L239.8 315.2L237.6 314.9L235.5 314.6L233.3 314.2L231.2 313.7L229 313.1L226.9 312.4L224.8 311.6L222.7 310.6L220.6 309.5L218.5 308.2L216.5 306.7L214.4 305L212.3 303L210.2 300.7L208.1 297.7L205.9 293.7L203.8 289.8M253.1 324.2L254.8 322.3L256.5 320.4L258.2 318.6L259.9 316.7L261.5 314.8L263.2 312.8L264.9 310.7L266.5 308.5L268.1 306.2L269.7 303.9L271.3 301.5L272.9 299.2L274.5 297L276.1 294.8L277.7 292.7L279.2 290.7L280.8 288.6L282.3 286.6L283.9 284.6L285.4 282.7L286.9 280.7L288.4 278.7L289.9 276.8L291.4 274.8L292.8 272.8L294.3 270.8L295.8 268.9L297.2 266.9L298.7 264.9L300.1 263L301.5 261L302.9 259.1L304.3 257.1L305.7 255.2L307.1 253.3L308.5 251.7M286.5 295.9L283.9 296.8L281.4 298.7L278.8 300.7L276.3 302.5L273.8 304.2L271.3 305.8L268.9 307.2L266.5 308.5L264.1 309.5L261.8 310.5L259.4 311.3L257.1 311.9L254.8 312.5L252.5 312.9L250.3 313.2L248 313.3L245.8 313.3L243.6 313.1L241.4 312.8L239.2 312.5L237.1 312.2L234.9 311.8L232.8 311.2L230.7 310.6L228.6 309.9L226.5 309.1L224.4 308.1L222.3 307L220.2 305.6L218.1 304.1L216 302.4L213.9 300.4L211.8 298.1L209.7 295.1L207.6 291.2L205.4 287.4M250.7 325.3L252.4 323.4L254.1 321.6L255.8 319.7L257.5 317.8L259.2 315.9L260.8 313.9L262.5 311.8L264.1 309.5L265.7 307.3L267.4 304.9L269 302.6L270.6 300.3L272.1 298.1L273.7 295.9L275.3 293.8L276.9 291.8L278.4 289.7L279.9 287.7L281.5 285.7L283 283.8L284.5 281.8L286 279.8L287.5 277.8L289 275.9L290.5 273.9L291.9 271.9L293.4 269.9L294.8 268L296.3 266L297.7 264L299.1 262.1L300.6 260.1L302 258.2L303.4 256.3L304.8 254.4L306.1 252.8M288.2 293.4L285.6 294.3L283 296.3L280.4 298.3L277.9 300.1L275.4 301.9L273 303.5L270.5 304.9L268.1 306.2L265.7 307.3L263.4 308.2L261 309L258.7 309.6L256.4 310.2L254.2 310.6L251.9 310.9L249.7 311L247.4 310.9L245.2 310.7L243 310.4L240.9 310.1L238.7 309.8L236.6 309.3L234.4 308.8L232.3 308.1L230.2 307.4L228.1 306.5L226 305.6L223.9 304.4L221.8 303.1L219.7 301.6L217.6 299.8L215.5 297.9L213.5 295.5L211.3 292.6L209.2 288.7L207 285M248.3 326.4L250.1 324.5L251.8 322.6L253.5 320.7L255.1 318.8L256.8 316.9L258.5 314.8L260.1 312.7L261.8 310.5L263.4 308.2L265 305.8L266.6 303.5L268.2 301.2L269.8 299L271.4 296.8L272.9 294.7L274.5 292.6L276 290.6L277.6 288.6L279.1 286.6L280.6 284.6L282.1 282.6L283.6 280.7L285.1 278.7L286.6 276.7L288.1 274.7L289.6 272.7L291 270.7L292.5 268.8L293.9 266.8L295.4 264.8L296.8 262.9L298.2 260.9L299.6 259L301 257.1L302.4 255.1L303.8 253.5M289.8 290.9L287.2 291.9L284.6 293.9L282.1 295.9L279.5 297.7L277 299.5L274.6 301.1L272.1 302.6L269.7 303.9L267.4 304.9L265 305.8L262.7 306.6L260.3 307.3L258 307.8L255.8 308.3L253.5 308.5L251.3 308.6L249.1 308.5L246.8 308.3L244.7 308L242.5 307.7L240.3 307.3L238.2 306.9L236 306.3L233.9 305.7L231.8 304.9L229.7 304L227.6 303.1L225.5 301.9L223.4 300.5L221.3 299L219.2 297.3L217.2 295.3L215.1 293L213 290L210.8 286.3L208.7 282.6M246 327.4L247.7 325.4L249.4 323.5L251.1 321.6L252.8 319.7L254.5 317.7L256.1 315.7L257.8 313.5L259.4 311.3L261 309L262.7 306.6L264.3 304.3L265.9 302L267.4 299.8L269 297.6L270.6 295.5L272.2 293.4L273.7 291.3L275.2 289.3L276.8 287.3L278.3 285.3L279.8 283.3L281.3 281.3L282.8 279.3L284.3 277.4L285.8 275.4L287.2 273.4L288.7 271.4L290.1 269.4L291.6 267.4L293 265.4L294.5 263.4L295.9 261.5L297.3 259.5L298.7 257.6L300.1 255.7L301.5 254M291.4 288.4L288.8 289.4L286.2 291.4L283.7 293.4L281.2 295.3L278.7 297.1L276.2 298.8L273.8 300.2L271.3 301.5L269 302.6L266.6 303.5L264.3 304.3L261.9 305L259.7 305.5L257.4 305.9L255.1 306.2L252.9 306.2L250.7 306.2L248.5 305.9L246.3 305.7L244.1 305.3L241.9 304.9L239.8 304.4L237.6 303.9L235.5 303.2L233.4 302.4L231.3 301.6L229.2 300.6L227.1 299.4L225 298L222.9 296.5L220.8 294.8L218.8 292.8L216.7 290.5L214.6 287.6L212.4 283.9L210.3 280.3M243.7 328.3L245.4 326.3L247.1 324.4L248.8 322.4L250.5 320.5L252.2 318.5L253.8 316.4L255.5 314.2L257.1 311.9L258.7 309.6L260.3 307.3L261.9 305L263.5 302.7L265.1 300.4L266.7 298.2L268.3 296.1L269.8 294L271.4 291.9L272.9 289.9L274.5 287.9L276 285.9L277.5 283.9L279 281.9L280.5 279.9L282 277.8L283.5 275.8L284.9 273.8L286.4 271.8L287.8 269.8L289.3 267.8L290.7 265.8L292.2 263.9L293.6 261.9L295 259.9L296.4 258L297.8 256.1L299.2 254.4M293 285.8L290.5 286.9L287.9 289L285.3 291L282.8 292.9L280.3 294.7L277.8 296.4L275.4 297.9L272.9 299.2L270.6 300.3L268.2 301.2L265.9 302L263.5 302.7L261.2 303.2L259 303.6L256.7 303.8L254.5 303.9L252.3 303.8L250 303.6L247.9 303.3L245.7 303L243.5 302.5L241.4 302L239.2 301.5L237.1 300.8L235 300L232.9 299.1L230.8 298.1L228.7 296.9L226.6 295.6L224.5 294L222.4 292.3L220.4 290.3L218.3 288L216.2 285.1L214 281.5L211.9 278M241.4 329.1L243.1 327.1L244.8 325.1L246.5 323.1L248.2 321.1L249.9 319.1L251.5 317L253.2 314.8L254.8 312.5L256.4 310.2L258 307.8L259.7 305.5L261.2 303.2L262.8 300.9L264.4 298.7L266 296.6L267.5 294.5L269.1 292.4L270.6 290.3L272.2 288.3L273.7 286.3L275.2 284.3L276.7 282.2L278.2 280.2L279.7 278.2L281.2 276.2L282.6 274.1L284.1 272.1L285.6 270.1L287 268.1L288.4 266.1L289.9 264.1L291.3 262.1L292.7 260.2L294.1 258.2L295.5 256.3L296.9 254.6M294.6 283.4L292.1 284.5L289.5 286.6L286.9 288.7L284.4 290.6L281.9 292.4L279.4 294.1L276.9 295.7L274.5 297L272.1 298.1L269.8 299L267.4 299.8L265.1 300.4L262.8 300.9L260.6 301.3L258.3 301.5L256.1 301.6L253.8 301.5L251.6 301.3L249.4 301L247.3 300.6L245.1 300.2L242.9 299.7L240.8 299.1L238.7 298.4L236.6 297.6L234.5 296.7L232.4 295.7L230.3 294.5L228.2 293.1L226.1 291.6L224 289.9L222 287.9L219.9 285.5L217.8 282.7L215.7 279.1L213.5 275.7M239.2 329.8L240.9 327.7L242.6 325.7L244.3 323.7L245.9 321.7L247.6 319.6L249.3 317.5L250.9 315.2L252.5 312.9L254.2 310.6L255.8 308.3L257.4 305.9L259 303.6L260.6 301.3L262.1 299.1L263.7 297L265.3 294.8L266.8 292.7L268.4 290.7L269.9 288.6L271.4 286.6L272.9 284.5L274.4 282.5L275.9 280.4L277.4 278.4L278.9 276.4L280.4 274.3L281.8 272.3L283.3 270.3L284.7 268.2L286.2 266.2L287.6 264.2L289 262.2L290.5 260.2L291.9 258.3L293.3 256.3L294.7 254.6M296.2 281.1L293.6 282.2L291 284.3L288.5 286.4L285.9 288.4L283.4 290.2L281 292L278.5 293.5L276.1 294.8L273.7 295.9L271.4 296.8L269 297.6L266.7 298.2L264.4 298.7L262.1 299.1L259.9 299.3L257.6 299.4L255.4 299.3L253.2 299L251 298.7L248.8 298.3L246.7 297.9L244.5 297.4L242.4 296.7L240.3 296L238.1 295.2L236 294.3L233.9 293.3L231.9 292.1L229.8 290.7L227.7 289.2L225.6 287.4L223.5 285.4L221.5 283.1L219.4 280.3L217.2 276.7L215.1 273.4M236.9 330.3L238.6 328.2L240.3 326.1L242 324.1L243.7 322L245.4 319.9L247 317.8L248.6 315.5L250.3 313.2L251.9 310.9L253.5 308.5L255.1 306.2L256.7 303.8L258.3 301.5L259.9 299.3L261.4 297.2L263 295L264.6 292.9L266.1 290.8L267.6 288.7L269.2 286.7L270.7 284.6L272.2 282.6L273.7 280.5L275.2 278.5L276.6 276.4L278.1 274.4L279.6 272.3L281 270.3L282.5 268.2L283.9 266.2L285.4 264.2L286.8 262.2L288.2 260.2L289.6 258.2L291 256.2L292.4 254.5M297.8 278.8L295.2 280L292.6 282.1L290.1 284.3L287.5 286.2L285 288.1L282.5 289.8L280.1 291.4L277.7 292.7L275.3 293.8L272.9 294.7L270.6 295.5L268.3 296.1L266 296.6L263.7 297L261.4 297.2L259.2 297.2L257 297.1L254.8 296.8L252.6 296.5L250.4 296.1L248.2 295.6L246.1 295.1L244 294.5L241.8 293.7L239.7 292.9L237.6 291.9L235.5 290.9L233.4 289.7L231.3 288.3L229.3 286.8L227.2 285L225.1 283L223 280.7L221 277.9L218.8 274.4L216.7 271.2M234.7 330.6L236.4 328.5L238.1 326.4L239.8 324.3L241.4 322.2L243.1 320.1L244.8 317.9L246.4 315.6L248 313.3L249.7 311L251.3 308.6L252.9 306.2L254.5 303.9L256.1 301.6L257.6 299.4L259.2 297.2L260.8 295.1L262.3 292.9L263.9 290.8L265.4 288.7L266.9 286.6L268.4 284.6L269.9 282.5L271.4 280.4L272.9 278.4L274.4 276.3L275.9 274.2L277.4 272.2L278.8 270.1L280.3 268.1L281.7 266L283.1 264L284.6 262L286 260L287.4 258L288.8 256L290.2 254.2M299.4 276.6L296.8 277.8L294.2 280L291.6 282.1L289.1 284.1L286.6 286L284.1 287.7L281.7 289.3L279.2 290.7L276.9 291.8L274.5 292.6L272.2 293.4L269.8 294L267.5 294.5L265.3 294.8L263 295L260.8 295.1L258.5 294.9L256.3 294.7L254.2 294.3L252 293.9L249.8 293.4L247.7 292.8L245.5 292.2L243.4 291.4L241.3 290.6L239.2 289.6L237.1 288.5L235 287.3L232.9 285.9L230.8 284.4L228.8 282.6L226.7 280.6L224.6 278.3L222.5 275.5L220.4 272L218.3 268.9M232.5 330.8L234.2 328.6L235.9 326.5L237.6 324.4L239.2 322.2L240.9 320.1L242.5 317.9L244.2 315.6L245.8 313.3L247.4 310.9L249.1 308.5L250.7 306.2L252.3 303.8L253.8 301.5L255.4 299.3L257 297.1L258.5 294.9L260.1 292.8L261.6 290.7L263.2 288.5L264.7 286.5L266.2 284.4L267.7 282.3L269.2 280.2L270.7 278.1L272.2 276L273.7 274L275.2 271.9L276.6 269.8L278.1 267.8L279.5 265.7L280.9 263.7L282.4 261.6L283.8 259.6L285.2 257.6L286.6 255.6L288 253.8M300.9 274.4L298.3 275.7L295.7 277.9L293.2 280.1L290.6 282L288.1 283.9L285.6 285.7L283.2 287.3L280.8 288.6L278.4 289.7L276 290.6L273.7 291.3L271.4 291.9L269.1 292.4L266.8 292.7L264.6 292.9L262.3 292.9L260.1 292.8L257.9 292.5L255.7 292.1L253.5 291.7L251.4 291.2L249.2 290.6L247.1 289.9L245 289.1L242.8 288.3L240.7 287.3L238.6 286.2L236.6 285L234.5 283.6L232.4 282L230.3 280.2L228.3 278.2L226.2 275.9L224.1 273.1L222 269.7L219.9 266.6M230.3 330.8L232 328.6L233.7 326.5L235.3 324.3L237 322.2L238.7 320L240.3 317.7L242 315.4L243.6 313.1L245.2 310.7L246.8 308.3L248.5 305.9L250 303.6L251.6 301.3L253.2 299L254.8 296.8L256.3 294.7L257.9 292.5L259.4 290.4L261 288.2L262.5 286.1L264 284L265.5 281.9L267 279.8L268.5 277.7L270 275.6L271.5 273.5L273 271.5L274.4 269.4L275.9 267.3L277.3 265.2L278.8 263.2L280.2 261.1L281.6 259.1L283 257.1L284.4 255.1L285.8 253.2M302.5 272.3L299.9 273.6L297.3 275.8L294.7 278L292.2 280L289.7 281.9L287.2 283.7L284.7 285.3L282.3 286.6L279.9 287.7L277.6 288.6L275.2 289.3L272.9 289.9L270.6 290.3L268.4 290.7L266.1 290.8L263.9 290.8L261.6 290.7L259.4 290.4L257.2 290L255.1 289.5L252.9 289L250.8 288.4L248.6 287.7L246.5 286.9L244.4 286L242.3 285L240.2 283.9L238.1 282.6L236 281.2L233.9 279.6L231.9 277.9L229.8 275.8L227.7 273.5L225.7 270.7L223.6 267.4L221.5 264.4M228.1 330.8L229.8 328.6L231.5 326.4L233.2 324.2L234.8 322L236.5 319.8L238.1 317.5L239.8 315.2L241.4 312.8L243 310.4L244.7 308L246.3 305.7L247.9 303.3L249.4 301L251 298.7L252.6 296.5L254.2 294.3L255.7 292.1L257.2 290L258.8 287.8L260.3 285.7L261.8 283.6L263.3 281.5L264.8 279.4L266.3 277.2L267.8 275.1L269.3 273L270.8 270.9L272.2 268.8L273.7 266.7L275.1 264.7L276.6 262.6L278 260.5L279.4 258.5L280.9 256.4L282.3 254.4L283.7 252.6M304 270.2L301.4 271.5L298.8 273.8L296.2 276L293.7 278L291.2 279.9L288.7 281.7L286.3 283.3L283.9 284.6L281.5 285.7L279.1 286.6L276.8 287.3L274.5 287.9L272.2 288.3L269.9 288.6L267.6 288.7L265.4 288.7L263.2 288.5L261 288.2L258.8 287.8L256.6 287.4L254.4 286.8L252.3 286.2L250.2 285.4L248 284.6L245.9 283.7L243.8 282.7L241.7 281.6L239.6 280.3L237.6 278.9L235.5 277.3L233.4 275.5L231.4 273.4L229.3 271.1L227.2 268.3L225.1 265.1L223 262.1M225.9 330.8L227.6 328.5L229.3 326.3L231 324.1L232.7 321.8L234.3 319.6L236 317.3L237.6 314.9L239.2 312.5L240.9 310.1L242.5 307.7L244.1 305.3L245.7 303L247.3 300.6L248.8 298.3L250.4 296.1L252 293.9L253.5 291.7L255.1 289.5L256.6 287.4L258.1 285.2L259.7 283.1L261.2 280.9L262.7 278.8L264.2 276.7L265.7 274.5L267.1 272.4L268.6 270.3L270.1 268.2L271.5 266.1L273 264L274.4 261.9L275.9 259.8L277.3 257.7L278.7 255.7L280.1 253.6L281.5 251.8M305.5 268.1L302.9 269.4L300.3 271.7L297.8 273.9L295.2 276L292.7 277.9L290.2 279.7L287.8 281.3L285.4 282.7L283 283.8L280.6 284.6L278.3 285.3L276 285.9L273.7 286.3L271.4 286.6L269.2 286.7L266.9 286.6L264.7 286.5L262.5 286.1L260.3 285.7L258.1 285.2L256 284.6L253.8 284L251.7 283.2L249.6 282.4L247.5 281.4L245.4 280.4L243.3 279.3L241.2 278L239.1 276.5L237 274.9L235 273.1L232.9 271.1L230.8 268.7L228.8 266L226.7 262.8L224.6 259.9M223.8 330.7L225.5 328.4L227.1 326.1L228.8 323.9L230.5 321.6L232.2 319.3L233.8 317L235.5 314.6L237.1 312.2L238.7 309.8L240.3 307.3L241.9 304.9L243.5 302.5L245.1 300.2L246.7 297.9L248.2 295.6L249.8 293.4L251.4 291.2L252.9 289L254.4 286.8L256 284.6L257.5 282.5L259 280.3L260.5 278.2L262 276L263.5 273.8L265 271.7L266.5 269.6L267.9 267.4L269.4 265.3L270.8 263.2L272.3 261.1L273.7 259L275.1 256.9L276.6 254.8L278 252.8L279.4 250.9M307.1 266L304.5 267.4L301.9 269.7L299.3 271.9L296.7 274L294.2 275.9L291.8 277.7L289.3 279.3L286.9 280.7L284.5 281.8L282.1 282.6L279.8 283.3L277.5 283.9L275.2 284.3L272.9 284.5L270.7 284.6L268.4 284.6L266.2 284.4L264 284L261.8 283.6L259.7 283.1L257.5 282.5L255.4 281.8L253.2 281L251.1 280.1L249 279.2L246.9 278.1L244.8 277L242.7 275.7L240.6 274.2L238.6 272.6L236.5 270.8L234.4 268.7L232.4 266.4L230.3 263.6L228.2 260.5L226.2 257.7M221.6 330.6L223.3 328.2L225 325.9L226.7 323.6L228.4 321.3L230 319L231.7 316.6L233.3 314.2L234.9 311.8L236.6 309.3L238.2 306.9L239.8 304.4L241.4 302L242.9 299.7L244.5 297.4L246.1 295.1L247.7 292.8L249.2 290.6L250.8 288.4L252.3 286.2L253.8 284L255.4 281.8L256.9 279.6L258.4 277.4L259.9 275.2L261.4 273.1L262.8 270.9L264.3 268.8L265.8 266.6L267.3 264.4L268.7 262.3L270.1 260.2L271.6 258.1L273 256L274.4 253.9L275.9 251.8L277.3 249.8M308.6 263.9L306 265.3L303.4 267.7L300.8 269.9L298.2 272L295.7 273.9L293.3 275.7L290.8 277.3L288.4 278.7L286 279.8L283.6 280.7L281.3 281.3L279 281.9L276.7 282.2L274.4 282.5L272.2 282.6L269.9 282.5L267.7 282.3L265.5 281.9L263.3 281.5L261.2 280.9L259 280.3L256.9 279.6L254.7 278.8L252.6 277.9L250.5 276.9L248.4 275.9L246.3 274.7L244.2 273.4L242.2 271.9L240.1 270.3L238 268.5L236 266.4L233.9 264L231.8 261.3L229.8 258.2L227.7 255.5M219.5 330.4L221.2 328L222.9 325.6L224.6 323.2L226.2 320.9L227.9 318.5L229.5 316.1L231.2 313.7L232.8 311.2L234.4 308.8L236 306.3L237.6 303.9L239.2 301.5L240.8 299.1L242.4 296.7L244 294.5L245.5 292.2L247.1 289.9L248.6 287.7L250.2 285.4L251.7 283.2L253.2 281L254.7 278.8L256.2 276.6L257.7 274.4L259.2 272.2L260.7 270L262.2 267.9L263.7 265.7L265.1 263.5L266.6 261.4L268 259.2L269.5 257.1L270.9 254.9L272.3 252.8L273.7 250.7L275.2 248.8M310.1 261.8L307.5 263.3L304.9 265.6L302.3 267.9L299.7 269.9L297.2 271.9L294.7 273.7L292.3 275.4L289.9 276.8L287.5 277.8L285.1 278.7L282.8 279.3L280.5 279.9L278.2 280.2L275.9 280.4L273.7 280.5L271.4 280.4L269.2 280.2L267 279.8L264.8 279.4L262.7 278.8L260.5 278.2L258.4 277.4L256.2 276.6L254.1 275.7L252 274.7L249.9 273.6L247.8 272.4L245.7 271.1L243.7 269.6L241.6 268L239.5 266.2L237.5 264.1L235.4 261.7L233.4 259L231.3 255.9L229.2 253.3M217.4 330L219.1 327.6L220.8 325.2L222.4 322.8L224.1 320.4L225.8 318L227.4 315.5L229 313.1L230.7 310.6L232.3 308.1L233.9 305.7L235.5 303.2L237.1 300.8L238.7 298.4L240.3 296L241.8 293.7L243.4 291.4L245 289.1L246.5 286.9L248 284.6L249.6 282.4L251.1 280.1L252.6 277.9L254.1 275.7L255.6 273.5L257.1 271.3L258.6 269.1L260.1 266.9L261.6 264.7L263 262.5L264.5 260.3L265.9 258.2L267.4 256L268.8 253.8L270.2 251.7L271.6 249.6L273.1 247.6M311.6 259.7L309 261.2L306.3 263.6L303.8 265.9L301.2 267.9L298.7 269.9L296.2 271.7L293.8 273.4L291.4 274.8L289 275.9L286.6 276.7L284.3 277.4L282 277.8L279.7 278.2L277.4 278.4L275.2 278.5L272.9 278.4L270.7 278.1L268.5 277.7L266.3 277.2L264.2 276.7L262 276L259.9 275.2L257.7 274.4L255.6 273.5L253.5 272.5L251.4 271.4L249.3 270.1L247.2 268.8L245.2 267.3L243.1 265.7L241 263.8L239 261.7L236.9 259.4L234.9 256.7L232.8 253.7L230.8 251.1M215.3 329.5L217 327.1L218.7 324.6L220.3 322.2L222 319.8L223.6 317.3L225.3 314.9L226.9 312.4L228.6 309.9L230.2 307.4L231.8 304.9L233.4 302.4L235 300L236.6 297.6L238.1 295.2L239.7 292.9L241.3 290.6L242.8 288.3L244.4 286L245.9 283.7L247.5 281.4L249 279.2L250.5 276.9L252 274.7L253.5 272.5L255 270.2L256.5 268L258 265.8L259.4 263.6L260.9 261.4L262.4 259.2L263.8 257L265.3 254.8L266.7 252.7L268.1 250.5L269.6 248.4L271 246.4M313 257.5L310.4 259.1L307.8 261.5L305.2 263.8L302.7 265.9L300.2 267.9L297.7 269.7L295.3 271.4L292.8 272.8L290.5 273.9L288.1 274.7L285.8 275.4L283.5 275.8L281.2 276.2L278.9 276.4L276.6 276.4L274.4 276.3L272.2 276L270 275.6L267.8 275.1L265.7 274.5L263.5 273.8L261.4 273.1L259.2 272.2L257.1 271.3L255 270.2L252.9 269.1L250.8 267.9L248.7 266.5L246.7 265L244.6 263.4L242.6 261.5L240.5 259.4L238.4 257L236.4 254.4L234.3 251.4L232.3 248.9M213.2 329L214.9 326.5L216.6 324L218.2 321.5L219.9 319L221.5 316.6L223.2 314.1L224.8 311.6L226.5 309.1L228.1 306.5L229.7 304L231.3 301.6L232.9 299.1L234.5 296.7L236 294.3L237.6 291.9L239.2 289.6L240.7 287.3L242.3 285L243.8 282.7L245.4 280.4L246.9 278.1L248.4 275.9L249.9 273.6L251.4 271.4L252.9 269.1L254.4 266.9L255.9 264.6L257.4 262.4L258.8 260.2L260.3 258L261.7 255.8L263.2 253.6L264.6 251.4L266 249.2L267.5 247.1L268.9 245M314.5 255.4L311.9 257L309.3 259.4L306.7 261.8L304.2 263.9L301.7 265.8L299.2 267.7L296.7 269.4L294.3 270.8L291.9 271.9L289.6 272.7L287.2 273.4L284.9 273.8L282.6 274.1L280.4 274.3L278.1 274.4L275.9 274.2L273.7 274L271.5 273.5L269.3 273L267.1 272.4L265 271.7L262.8 270.9L260.7 270L258.6 269.1L256.5 268L254.4 266.9L252.3 265.6L250.2 264.2L248.2 262.7L246.1 261.1L244 259.2L242 257.1L239.9 254.7L237.9 252.1L235.8 249.2L233.8 246.7M211.1 328.3L212.8 325.7L214.5 323.2L216.1 320.7L217.8 318.2L219.4 315.7L221.1 313.2L222.7 310.6L224.4 308.1L226 305.6L227.6 303.1L229.2 300.6L230.8 298.1L232.4 295.7L233.9 293.3L235.5 290.9L237.1 288.5L238.6 286.2L240.2 283.9L241.7 281.6L243.3 279.3L244.8 277L246.3 274.7L247.8 272.4L249.3 270.1L250.8 267.9L252.3 265.6L253.8 263.4L255.3 261.1L256.7 258.9L258.2 256.7L259.7 254.4L261.1 252.2L262.5 250L264 247.9L265.4 245.7L266.8 243.6M316 253.3L313.4 255L310.8 257.4L308.2 259.7L305.6 261.8L303.1 263.8L300.6 265.7L298.2 267.4L295.8 268.9L293.4 269.9L291 270.7L288.7 271.4L286.4 271.8L284.1 272.1L281.8 272.3L279.6 272.3L277.4 272.2L275.2 271.9L273 271.5L270.8 270.9L268.6 270.3L266.5 269.6L264.3 268.8L262.2 267.9L260.1 266.9L258 265.8L255.9 264.6L253.8 263.4L251.7 262L249.7 260.4L247.6 258.8L245.5 256.9L243.5 254.8L241.4 252.4L239.4 249.8L237.3 246.9L235.3 244.6M209 327.4L210.7 324.8L212.4 322.2L214 319.7L215.7 317.1L217.4 314.6L219 312.1L220.6 309.5L222.3 307L223.9 304.4L225.5 301.9L227.1 299.4L228.7 296.9L230.3 294.5L231.9 292.1L233.4 289.7L235 287.3L236.6 285L238.1 282.6L239.6 280.3L241.2 278L242.7 275.7L244.2 273.4L245.7 271.1L247.2 268.8L248.7 266.5L250.2 264.2L251.7 262L253.2 259.7L254.7 257.5L256.1 255.2L257.6 253L259 250.8L260.5 248.6L261.9 246.4L263.3 244.2L264.8 242.1M317.4 251.2L314.8 252.9L312.2 255.3L309.6 257.7L307.1 259.8L304.6 261.8L302.1 263.7L299.6 265.4L297.2 266.9L294.8 268L292.5 268.8L290.1 269.4L287.8 269.8L285.6 270.1L283.3 270.3L281 270.3L278.8 270.1L276.6 269.8L274.4 269.4L272.2 268.8L270.1 268.2L267.9 267.4L265.8 266.6L263.7 265.7L261.6 264.7L259.4 263.6L257.4 262.4L255.3 261.1L253.2 259.7L251.1 258.2L249.1 256.5L247 254.7L245 252.5L242.9 250.1L240.9 247.5L238.8 244.7L236.8 242.4M206.9 326.2L208.6 323.6L210.3 321L212 318.4L213.6 315.9L215.3 313.3L216.9 310.7L218.5 308.2L220.2 305.6L221.8 303.1L223.4 300.5L225 298L226.6 295.6L228.2 293.1L229.8 290.7L231.3 288.3L232.9 285.9L234.5 283.6L236 281.2L237.6 278.9L239.1 276.5L240.6 274.2L242.2 271.9L243.7 269.6L245.2 267.3L246.7 265L248.2 262.7L249.7 260.4L251.1 258.2L252.6 255.9L254.1 253.7L255.5 251.4L257 249.2L258.4 247L259.9 244.8L261.3 242.6L262.7 240.5M318.9 249.1L316.3 250.8L313.7 253.3L311.1 255.7L308.5 257.8L306 259.8L303.5 261.7L301.1 263.5L298.7 264.9L296.3 266L293.9 266.8L291.6 267.4L289.3 267.8L287 268.1L284.7 268.2L282.5 268.2L280.3 268.1L278.1 267.8L275.9 267.3L273.7 266.7L271.5 266.1L269.4 265.3L267.3 264.4L265.1 263.5L263 262.5L260.9 261.4L258.8 260.2L256.7 258.9L254.7 257.5L252.6 255.9L250.5 254.2L248.5 252.4L246.4 250.2L244.4 247.9L242.4 245.3L240.3 242.5L238.3 240.3M204.9 324.9L206.5 322.2L208.2 319.6L209.9 317L211.5 314.4L213.2 311.8L214.8 309.2L216.5 306.7L218.1 304.1L219.7 301.6L221.3 299L222.9 296.5L224.5 294L226.1 291.6L227.7 289.2L229.3 286.8L230.8 284.4L232.4 282L233.9 279.6L235.5 277.3L237 274.9L238.6 272.6L240.1 270.3L241.6 268L243.1 265.7L244.6 263.4L246.1 261.1L247.6 258.8L249.1 256.5L250.5 254.2L252 252L253.5 249.7L254.9 247.5L256.4 245.3L257.8 243.1L259.2 240.9L260.7 238.7M320.3 247L317.7 248.7L315.1 251.3L312.5 253.7L310 255.8L307.4 257.8L305 259.8L302.5 261.5L300.1 263L297.7 264L295.4 264.8L293 265.4L290.7 265.8L288.4 266.1L286.2 266.2L283.9 266.2L281.7 266L279.5 265.7L277.3 265.2L275.1 264.7L273 264L270.8 263.2L268.7 262.3L266.6 261.4L264.5 260.3L262.4 259.2L260.3 258L258.2 256.7L256.1 255.2L254.1 253.7L252 252L250 250.1L247.9 248L245.9 245.6L243.8 243L241.8 240.3L239.8 238.1M202.8 323.3L204.5 320.7L206.1 318L207.8 315.4L209.5 312.8L211.1 310.2L212.7 307.6L214.4 305L216 302.4L217.6 299.8L219.2 297.3L220.8 294.8L222.4 292.3L224 289.9L225.6 287.4L227.2 285L228.8 282.6L230.3 280.2L231.9 277.9L233.4 275.5L235 273.1L236.5 270.8L238 268.5L239.5 266.2L241 263.8L242.6 261.5L244 259.2L245.5 256.9L247 254.7L248.5 252.4L250 250.1L251.4 247.9L252.9 245.6L254.3 243.4L255.8 241.1L257.2 238.9L258.6 236.8M321.8 244.9L319.2 246.7L316.5 249.2L313.9 251.7L311.4 253.8L308.9 255.8L306.4 257.8L303.9 259.5L301.5 261L299.1 262.1L296.8 262.9L294.5 263.4L292.2 263.9L289.9 264.1L287.6 264.2L285.4 264.2L283.1 264L280.9 263.7L278.8 263.2L276.6 262.6L274.4 261.9L272.3 261.1L270.1 260.2L268 259.2L265.9 258.2L263.8 257L261.7 255.8L259.7 254.4L257.6 253L255.5 251.4L253.5 249.7L251.4 247.9L249.4 245.7L247.3 243.3L245.3 240.8L243.3 238.1L241.2 236M200.7 321.5L202.4 318.8L204 316.2L205.7 313.5L207.4 310.9L209 308.2L210.7 305.6L212.3 303L213.9 300.4L215.5 297.9L217.2 295.3L218.8 292.8L220.4 290.3L222 287.9L223.5 285.4L225.1 283L226.7 280.6L228.3 278.2L229.8 275.8L231.4 273.4L232.9 271.1L234.4 268.7L236 266.4L237.5 264.1L239 261.7L240.5 259.4L242 257.1L243.5 254.8L245 252.5L246.4 250.2L247.9 248L249.4 245.7L250.8 243.4L252.3 241.2L253.7 239L255.2 236.7L256.6 234.6M323.2 242.8L320.6 244.7L318 247.2L315.4 249.7L312.8 251.8L310.3 253.9L307.8 255.8L305.4 257.6L302.9 259.1L300.6 260.1L298.2 260.9L295.9 261.5L293.6 261.9L291.3 262.1L289 262.2L286.8 262.2L284.6 262L282.4 261.6L280.2 261.1L278 260.5L275.9 259.8L273.7 259L271.6 258.1L269.5 257.1L267.4 256L265.3 254.8L263.2 253.6L261.1 252.2L259 250.8L257 249.2L254.9 247.5L252.9 245.6L250.8 243.4L248.8 241L246.8 238.5L244.7 235.9L242.7 233.9M198.6 319.3L200.3 316.6L201.9 313.9L203.6 311.2L205.3 308.6L206.9 305.9L208.6 303.3L210.2 300.7L211.8 298.1L213.5 295.5L215.1 293L216.7 290.5L218.3 288L219.9 285.5L221.5 283.1L223 280.7L224.6 278.3L226.2 275.9L227.7 273.5L229.3 271.1L230.8 268.7L232.4 266.4L233.9 264L235.4 261.7L236.9 259.4L238.4 257L239.9 254.7L241.4 252.4L242.9 250.1L244.4 247.9L245.9 245.6L247.3 243.3L248.8 241L250.3 238.8L251.7 236.6L253.1 234.3L254.6 232.2M324.6 240.8L322 242.6L319.4 245.2L316.8 247.7L314.2 249.9L311.7 251.9L309.2 253.9L306.8 255.7L304.3 257.1L302 258.2L299.6 259L297.3 259.5L295 259.9L292.7 260.2L290.5 260.2L288.2 260.2L286 260L283.8 259.6L281.6 259.1L279.4 258.5L277.3 257.7L275.1 256.9L273 256L270.9 254.9L268.8 253.8L266.7 252.7L264.6 251.4L262.5 250L260.5 248.6L258.4 247L256.4 245.3L254.3 243.4L252.3 241.2L250.3 238.8L248.2 236.3L246.2 233.7L244.2 231.8M196.4 316.3L198.1 313.6L199.8 310.9L201.5 308.2L203.1 305.5L204.8 302.9L206.4 300.3L208.1 297.7L209.7 295.1L211.3 292.6L213 290L214.6 287.6L216.2 285.1L217.8 282.7L219.4 280.3L221 277.9L222.5 275.5L224.1 273.1L225.7 270.7L227.2 268.3L228.8 266L230.3 263.6L231.8 261.3L233.4 259L234.9 256.7L236.4 254.4L237.9 252.1L239.4 249.8L240.9 247.5L242.4 245.3L243.8 243L245.3 240.8L246.8 238.5L248.2 236.3L249.7 234.1L251.1 231.9L252.5 229.7M326 238.7L323.4 240.6L320.8 243.2L318.2 245.7L315.6 247.9L313.1 250L310.6 251.9L308.2 253.7L305.7 255.2L303.4 256.3L301 257.1L298.7 257.6L296.4 258L294.1 258.2L291.9 258.3L289.6 258.2L287.4 258L285.2 257.6L283 257.1L280.9 256.4L278.7 255.7L276.6 254.8L274.4 253.9L272.3 252.8L270.2 251.7L268.1 250.5L266 249.2L264 247.9L261.9 246.4L259.9 244.8L257.8 243.1L255.8 241.1L253.7 239L251.7 236.6L249.7 234.1L247.6 231.5L245.6 229.7M194.2 312L195.9 309.4L197.6 306.7L199.3 304.1L201 301.4L202.6 298.8L204.3 296.3L205.9 293.7L207.6 291.2L209.2 288.7L210.8 286.3L212.4 283.9L214 281.5L215.7 279.1L217.2 276.7L218.8 274.4L220.4 272L222 269.7L223.6 267.4L225.1 265.1L226.7 262.8L228.2 260.5L229.8 258.2L231.3 255.9L232.8 253.7L234.3 251.4L235.8 249.2L237.3 246.9L238.8 244.7L240.3 242.5L241.8 240.3L243.3 238.1L244.7 235.9L246.2 233.7L247.6 231.5L249.1 229.4L250.5 227.2M327.4 236.7L324.8 238.6L322.2 241.2L319.6 243.8L317 246L314.5 248L312 250L309.6 251.8L307.1 253.3L304.8 254.4L302.4 255.1L300.1 255.7L297.8 256.1L295.5 256.3L293.3 256.3L291 256.2L288.8 256L286.6 255.6L284.4 255.1L282.3 254.4L280.1 253.6L278 252.8L275.9 251.8L273.7 250.7L271.6 249.6L269.6 248.4L267.5 247.1L265.4 245.7L263.3 244.2L261.3 242.6L259.2 240.9L257.2 238.9L255.2 236.7L253.1 234.3L251.1 231.9L249.1 229.4L247.1 227.6M192 307.7L193.7 305.1L195.4 302.5L197.1 299.9L198.8 297.4L200.4 294.8L202.1 292.3L203.8 289.8L205.4 287.4L207 285L208.7 282.6L210.3 280.3L211.9 278L213.5 275.7L215.1 273.4L216.7 271.2L218.3 268.9L219.9 266.6L221.5 264.4L223 262.1L224.6 259.9L226.2 257.7L227.7 255.5L229.2 253.3L230.8 251.1L232.3 248.9L233.8 246.7L235.3 244.6L236.8 242.4L238.3 240.3L239.8 238.1L241.2 236L242.7 233.9L244.2 231.8L245.6 229.7L247.1 227.6L248.5 225.5M328.8 235L326.2 237L323.5 239.6L320.9 242.1L318.4 244.3L315.9 246.4L313.4 248.4L310.9 250.2L308.5 251.7L306.1 252.8L303.8 253.5L301.5 254L299.2 254.4L296.9 254.6L294.7 254.6L292.4 254.5L290.2 254.2L288 253.8L285.8 253.2L283.7 252.6L281.5 251.8L279.4 250.9L277.3 249.8L275.2 248.8L273.1 247.6L271 246.4L268.9 245L266.8 243.6L264.8 242.1L262.7 240.5L260.7 238.7L258.6 236.8L256.6 234.6L254.6 232.2L252.5 229.7L250.5 227.2L248.5 225.5" fill="none" stroke="#101808" stroke-width="0.4" opacity="0.7"/>
<text transform="translate(112.5,227.8) scale(0.8,1)" font-size="5.4" fill="#252525" >Design-Expert® Software</text>
<text transform="translate(112.5,233.7) scale(0.8,1)" font-size="5.4" fill="#252525" >Factor Coding: Actual</text>
<text transform="translate(112.5,239.6) scale(0.8,1)" font-size="5.4" fill="#252525" >Y4:ZP (mV)</text>
<rect x="114.2" y="241.6" width="2.4" height="15.8" fill="url(#cbar)" stroke="#222" stroke-width="0.3"/>
<text transform="translate(117.5,246) scale(0.8,1)" font-size="5.4" fill="#ff1818" >-13.5</text>
<text transform="translate(117.5,257.6) scale(0.8,1)" font-size="5.4" fill="#2020ff" >-25.6</text>
<text transform="translate(112.7,269.5) scale(0.8,1)" font-size="5.4" fill="#252525" >X1 = A: C.O amount</text>
<text transform="translate(112.7,275.4) scale(0.8,1)" font-size="5.4" fill="#252525" >X2 = B: PLGA</text>
<text transform="translate(112.7,287.2) scale(0.8,1)" font-size="5.4" fill="#252525" >Actual Factor</text>
<text transform="translate(112.7,293.1) scale(0.8,1)" font-size="5.4" fill="#252525" >C: PCL = 5.28549</text>
<text transform="translate(185,240.6) scale(0.9,1)" font-size="5.8" fill="#2a2a2a" text-anchor="end" >-12</text>
<text transform="translate(185.7,252) scale(0.9,1)" font-size="5.8" fill="#2a2a2a" text-anchor="end" >-14</text>
<text transform="translate(186.4,263.3) scale(0.9,1)" font-size="5.8" fill="#2a2a2a" text-anchor="end" >-16</text>
<text transform="translate(187.1,274.7) scale(0.9,1)" font-size="5.8" fill="#2a2a2a" text-anchor="end" >-18</text>
<text transform="translate(187.8,286) scale(0.9,1)" font-size="5.8" fill="#2a2a2a" text-anchor="end" >-20</text>
<text transform="translate(188.6,297.4) scale(0.9,1)" font-size="5.8" fill="#2a2a2a" text-anchor="end" >-22</text>
<text transform="translate(189.3,308.7) scale(0.9,1)" font-size="5.8" fill="#2a2a2a" text-anchor="end" >-24</text>
<text transform="translate(190,320.1) scale(0.9,1)" font-size="5.8" fill="#2a2a2a" text-anchor="end" >-26</text>
<text transform="translate(188,348.7) scale(0.86,1)" font-size="5.4" fill="#2a2a2a" text-anchor="middle" >1.2</text>
<text transform="translate(196.7,353.2) scale(0.86,1)" font-size="5.4" fill="#2a2a2a" text-anchor="middle" >1.1</text>
<text transform="translate(205.4,357.6) scale(0.86,1)" font-size="5.4" fill="#2a2a2a" text-anchor="middle" >1</text>
<text transform="translate(214.2,362) scale(0.86,1)" font-size="5.4" fill="#2a2a2a" text-anchor="middle" >0.9</text>
<text transform="translate(222.9,366.4) scale(0.86,1)" font-size="5.4" fill="#2a2a2a" text-anchor="middle" >0.8</text>
<text transform="translate(231.6,370.9) scale(0.86,1)" font-size="5.4" fill="#2a2a2a" text-anchor="middle" >0.7</text>
<text transform="translate(240.3,375.3) scale(0.86,1)" font-size="5.4" fill="#2a2a2a" text-anchor="middle" >0.6</text>
<text transform="translate(249.1,379.7) scale(0.86,1)" font-size="5.4" fill="#2a2a2a" text-anchor="middle" >0.5</text>
<text transform="translate(257.8,384.1) scale(0.86,1)" font-size="5.4" fill="#2a2a2a" text-anchor="middle" >0.4</text>
<text transform="translate(266.5,388.5) scale(0.86,1)" font-size="5.4" fill="#2a2a2a" text-anchor="middle" >0.3</text>
<text transform="translate(276,388.7) scale(0.86,1)" font-size="5.4" fill="#2a2a2a" text-anchor="middle" >8</text>
<text transform="translate(288.8,375.3) scale(0.86,1)" font-size="5.4" fill="#2a2a2a" text-anchor="middle" >7</text>
<text transform="translate(301.6,361.8) scale(0.86,1)" font-size="5.4" fill="#2a2a2a" text-anchor="middle" >6</text>
<text transform="translate(314.4,348.3) scale(0.86,1)" font-size="5.4" fill="#2a2a2a" text-anchor="middle" >5</text>
<text transform="translate(327.2,334.8) scale(0.86,1)" font-size="5.4" fill="#2a2a2a" text-anchor="middle" >4</text>
<text x="185.1" y="388" font-size="6.3" fill="#222" >A: C.O amount (ml)</text>
<text x="305.5" y="374.2" font-size="6.5" fill="#222" >B: PLGA (mg)</text>
<text transform="translate(170.4,294.9) rotate(-90)" font-size="7.6" fill="#222" text-anchor="middle">Y4:ZP (mV)</text>
<text transform="translate(158.2,360.8) scale(0.85,1)" font-size="17.6" font-weight="bold" fill="#111">D</text>
<rect x="191.5" y="216.5" width="14.8" height="5.3" fill="#fff" stroke="#444" stroke-width="0.5"/>
<text transform="translate(198.9,220.5) scale(0.78,1)" font-size="4.6" fill="#333" text-anchor="middle" >-20.7965</text>
<line x1="205.6" y1="221.8" x2="205.6" y2="287" stroke="#2c2c2c" stroke-width="0.6" />
<path d="M427.2 318.7L488.4 296.1M488.4 296.1L562.1 313.1M426.7 301.8L488.4 281.2M488.4 281.2L562.7 296.6M426.2 284.8L488.4 266.2M488.4 266.2L563.2 280.1M425.8 267.8L488.4 251.3M488.4 251.3L563.8 263.6M425.3 250.8L488.4 236.4M488.4 236.4L564.3 247.1M424.8 233.8L488.4 221.4M488.4 221.4L564.9 230.6M428 347.6L424.8 233.8M442.5 313.1L440.7 230.7M457.8 307.4L456.6 227.6M473.1 301.8L472.5 224.5M488.4 296.1L488.4 221.4M488.4 321.5L488.4 221.4M496.6 298L496.9 222.5M504.8 299.9L505.4 223.5M512.9 301.8L513.9 224.5M521.1 303.7L522.4 225.5M529.3 305.6L530.9 226.6M537.5 307.4L539.4 227.6M545.7 309.3L547.9 228.6M553.9 311.2L556.4 229.6M561.1 341.2L564.9 230.6M428 347.6L488.4 321.5M488.4 321.5L561.1 341.2" stroke="#2c2c2c" stroke-width="0.6" fill="none"/>
<clipPath id="fe"><polygon points="504.9,373.8 428,347.6 488.4,321.5 561.1,341.2"/></clipPath>
<polygon points="504.9,373.8 428,347.6 488.4,321.5 561.1,341.2" fill="#ffff00" stroke="#333" stroke-width="0.5" />
<g clip-path="url(#fe)" fill="none">
<path d="M431,347.9 C440,347 450,346.3 458,345 C466,343.5 471,341 473.5,336 C475.5,331 475,327 473.5,324 M438,350.3 C446,351 454,352.2 460,354 C465,356 468.5,358.5 471.5,362.5 M487.5,322.5 C491,324.5 495,326.8 499,328.5 C506,331.5 512,333 518,334.7 C528,337.5 536,339 542,341 C547,343 550,344.5 553,346" stroke="#58dca8" stroke-width="0.9"/>
</g>
<polygon points="504.9,373.8 428,347.6 488.4,321.5 561.1,341.2" fill="none" stroke="#333" stroke-width="0.5" />
<path d="M505.4 311.5L502 310.6L504.6 311L508 312ZM502 310.6L498.6 309.6L501.2 309.9L504.6 311ZM488.7 307.3L485.4 307.2L488 307.3L491.3 307.4ZM431.9 295.9L429.1 291.5L431.8 290.1L434.6 294.4Z" fill="#36a88a" stroke="#36a88a" stroke-width="0.35"/>
<path d="M508 312L504.6 311L507.1 310.3L510.5 311.3ZM510.5 311.3L507.1 310.3L509.6 309.5L513 310.5ZM504.6 311L501.2 309.9L503.7 309.2L507.1 310.3ZM507.1 310.3L503.7 309.2L506.3 308.4L509.6 309.5ZM501.2 309.9L497.9 308.9L500.4 308.1L503.7 309.2ZM497.9 308.9L494.5 308L497.1 307.2L500.4 308.1ZM494.5 308L491.3 307.4L493.8 306.6L497.1 307.2ZM491.3 307.4L488 307.3L490.6 306.4L493.8 306.6ZM493.8 306.6L490.6 306.4L493.2 305.5L496.4 305.7ZM490.6 306.4L487.4 306.4L490 305.4L493.2 305.5ZM440.1 296L437.3 292.8L439.9 291.2L442.7 294.4Z" fill="#36a28a" stroke="#36a28a" stroke-width="0.35"/>
<path d="M513 310.5L509.6 309.5L512.1 308.6L515.5 309.6ZM509.6 309.5L506.3 308.4L508.7 307.5L512.1 308.6ZM506.3 308.4L502.9 307.3L505.4 306.4L508.7 307.5ZM496.4 305.7L493.2 305.5L495.7 304.5L498.9 304.8ZM448.1 295.5L445.3 292.7L447.9 291.2L450.7 293.8Z" fill="#309684" stroke="#309684" stroke-width="0.35"/>
<path d="M515.5 309.6L512.1 308.6L514.5 307.6L517.9 308.6ZM512.1 308.6L508.7 307.5L511.2 306.5L514.5 307.6ZM498.9 304.8L495.7 304.5L498.2 303.5L501.4 303.8ZM495.7 304.5L492.5 304.3L495 303.3L498.2 303.5Z" fill="#30907e" stroke="#30907e" stroke-width="0.35"/>
<path d="M517.9 308.6L514.5 307.6L516.9 306.7L520.3 307.7Z" fill="#2a8478" stroke="#2a8478" stroke-width="0.35"/>
<path d="M520.3 307.7L516.9 306.7L519.3 305.7L522.7 306.7ZM516.9 306.7L513.6 305.6L516 304.6L519.3 305.7ZM513.6 305.6L510.3 304.5L512.7 303.5L516 304.6ZM510.3 304.5L507.1 303.5L509.5 302.6L512.7 303.5ZM507.1 303.5L503.8 302.9L506.3 301.9L509.5 302.6ZM503.8 302.9L500.6 302.4L503.1 301.4L506.3 301.9ZM500.6 302.4L497.5 302.2L499.9 301.2L503.1 301.4ZM458.5 292.6L455.7 290.6L458.2 289.2L461 291.1Z" fill="#2a7e6c" stroke="#2a7e6c" stroke-width="0.35"/>
<path d="M522.7 306.7L519.3 305.7L521.7 304.7L525 305.7ZM519.3 305.7L516 304.6L518.4 303.6L521.7 304.7ZM516 304.6L512.7 303.5L515.1 302.6L518.4 303.6ZM506.3 301.9L503.1 301.4L505.5 300.4L508.6 300.9ZM496.1 299.6L493 299.4L495.4 298.2L498.5 298.6ZM493 299.4L490 299L492.4 297.9L495.4 298.2ZM461 291.1L458.2 289.2L460.7 287.8L463.4 289.7Z" fill="#247266" stroke="#247266" stroke-width="0.35"/>
<path d="M525 305.7L521.7 304.7L524 303.7L527.3 304.7ZM521.7 304.7L518.4 303.6L520.7 302.7L524 303.7ZM505.5 300.4L502.3 300.1L504.7 299.1L507.8 299.5ZM502.3 300.1L499.2 299.9L501.6 298.8L504.7 299.1ZM498.5 298.6L495.4 298.2L497.8 297.2L500.8 297.5ZM495.4 298.2L492.4 297.9L494.7 296.7L497.8 297.2ZM492.4 297.9L489.3 297.5L491.7 296.3L494.7 296.7ZM489.3 297.5L486.4 297L488.8 295.8L491.7 296.3ZM477.1 292.9L474.3 291.9L476.7 290.7L479.5 291.7ZM474.3 291.9L471.4 290.9L473.8 289.7L476.7 290.7ZM469 292.2L466.2 291.1L468.6 289.8L471.4 290.9ZM471.4 290.9L468.6 289.8L471 288.6L473.8 289.7ZM466.2 291.1L463.4 289.7L465.9 288.4L468.6 289.8Z" fill="#246c60" stroke="#246c60" stroke-width="0.35"/>
<path d="M527.3 304.7L524 303.7L526.3 302.7L529.6 303.7ZM524 303.7L520.7 302.7L523 301.7L526.3 302.7ZM511 300L507.8 299.5L510.2 298.5L513.3 299ZM507.8 299.5L504.7 299.1L507 298.1L510.2 298.5ZM504.7 299.1L501.6 298.8L503.9 297.8L507 298.1ZM501.6 298.8L498.5 298.6L500.8 297.5L503.9 297.8ZM503.9 297.8L500.8 297.5L503.2 296.5L506.2 296.8ZM500.8 297.5L497.8 297.2L500.1 296.1L503.2 296.5ZM497.8 297.2L494.7 296.7L497.1 295.7L500.1 296.1ZM494.7 296.7L491.7 296.3L494.1 295.2L497.1 295.7ZM476.7 290.7L473.8 289.7L476.2 288.6L479 289.6Z" fill="#24665a" stroke="#24665a" stroke-width="0.35"/>
<path d="M529.6 303.7L526.3 302.7L528.6 301.7L531.9 302.7ZM526.3 302.7L523 301.7L525.3 300.7L528.6 301.7ZM523 301.7L519.8 300.7L522.1 299.7L525.3 300.7ZM519.8 300.7L516.6 299.7L518.9 298.8L522.1 299.7ZM516.6 299.7L513.3 299L515.7 298.1L518.9 298.8ZM513.3 299L510.2 298.5L512.5 297.6L515.7 298.1ZM510.2 298.5L507 298.1L509.4 297.2L512.5 297.6ZM506.2 296.8L503.2 296.5L505.5 295.6L508.5 295.9ZM503.2 296.5L500.1 296.1L502.4 295.2L505.5 295.6ZM500.1 296.1L497.1 295.7L499.4 294.7L502.4 295.2ZM497.1 295.7L494.1 295.2L496.4 294.2L499.4 294.7Z" fill="#1e6054" stroke="#1e6054" stroke-width="0.35"/>
<path d="M531.9 302.7L528.6 301.7L530.8 300.7L534.1 301.7ZM528.6 301.7L525.3 300.7L527.6 299.8L530.8 300.7ZM525.3 300.7L522.1 299.7L524.3 298.8L527.6 299.8ZM522.1 299.7L518.9 298.8L521.1 297.9L524.3 298.8ZM518.9 298.8L515.7 298.1L517.9 297.2L521.1 297.9ZM515.7 298.1L512.5 297.6L514.8 296.7L517.9 297.2ZM512.5 297.6L509.4 297.2L511.7 296.3L514.8 296.7ZM509.4 297.2L506.2 296.8L508.5 295.9L511.7 296.3ZM487.6 292.3L484.7 291.4L487.1 290.4L489.9 291.3ZM484.7 291.4L481.9 290.6L484.2 289.6L487.1 290.4ZM481.9 290.6L479 289.6L481.4 288.6L484.2 289.6ZM479 289.6L476.2 288.6L478.6 287.6L481.4 288.6ZM476.2 288.6L473.4 287.5L475.8 286.5L478.6 287.6ZM473.4 287.5L470.7 286.2L473 285.3L475.8 286.5Z" fill="#1e5a4e" stroke="#1e5a4e" stroke-width="0.35"/>
<path d="M534.1 301.7L530.8 300.7L533.1 299.8L536.4 300.7ZM530.8 300.7L527.6 299.8L529.8 298.9L533.1 299.8ZM527.6 299.8L524.3 298.8L526.6 297.9L529.8 298.9ZM524.3 298.8L521.1 297.9L523.4 297.1L526.6 297.9ZM521.1 297.9L517.9 297.2L520.2 296.4L523.4 297.1ZM517.9 297.2L514.8 296.7L517 295.9L520.2 296.4ZM484.2 289.6L481.4 288.6L483.7 287.7L486.5 288.6ZM481.4 288.6L478.6 287.6L480.9 286.7L483.7 287.7ZM478.6 287.6L475.8 286.5L478.1 285.6L480.9 286.7ZM475.8 286.5L473 285.3L475.3 284.4L478.1 285.6Z" fill="#184e42" stroke="#184e42" stroke-width="0.35"/>
<path d="M536.4 300.7L533.1 299.8L535.3 298.9L538.5 299.8ZM533.1 299.8L529.8 298.9L532 298L535.3 298.9ZM529.8 298.9L526.6 297.9L528.8 297.1L532 298ZM495.1 291.2L492.2 290.4L494.5 289.6L497.4 290.3ZM492.2 290.4L489.4 289.5L491.6 288.7L494.5 289.6ZM489.4 289.5L486.5 288.6L488.8 287.8L491.6 288.7ZM486.5 288.6L483.7 287.7L486 286.9L488.8 287.8ZM483.7 287.7L480.9 286.7L483.2 285.9L486 286.9ZM480.9 286.7L478.1 285.6L480.4 284.9L483.2 285.9ZM478.1 285.6L475.3 284.4L477.7 283.7L480.4 284.9Z" fill="#123c36" stroke="#123c36" stroke-width="0.35"/>
<path d="M538.5 299.8L535.3 298.9L537.4 298L540.7 298.8ZM535.3 298.9L532 298L534.2 297.2L537.4 298ZM503.3 291.6L500.3 291L502.6 290.2L505.5 290.8ZM500.3 291L497.4 290.3L499.6 289.6L502.6 290.2ZM497.4 290.3L494.5 289.6L496.8 288.8L499.6 289.6ZM494.5 289.6L491.6 288.7L493.9 287.9L496.8 288.8Z" fill="#0c2a24" stroke="#0c2a24" stroke-width="0.35"/>
<path d="M540.7 298.8L537.4 298L539.6 297.1L542.8 297.9ZM511.4 291.9L508.5 291.4L510.7 290.7L513.6 291.2ZM508.5 291.4L505.5 290.8L507.7 290.1L510.7 290.7ZM493.3 286.4L490.5 285.5L492.7 284.9L495.5 285.7ZM502 284.3L499.2 283.5L501.4 283.1L504.1 283.9ZM504.1 283.9L501.4 283.1L503.5 282.8L506.2 283.6ZM506.2 283.6L503.5 282.8L505.5 282.4L508.3 283.2ZM508.3 283.2L505.5 282.4L507.6 282.1L510.3 282.9ZM510.3 282.9L507.6 282.1L509.6 281.8L512.4 282.5ZM490.5 285.5L487.7 284.5L489.9 284L492.7 284.9ZM492.7 284.9L489.9 284L492.1 283.5L494.9 284.3ZM494.9 284.3L492.1 283.5L494.3 283L497.1 283.9ZM497.1 283.9L494.3 283L496.5 282.6L499.2 283.5ZM499.2 283.5L496.5 282.6L498.6 282.3L501.4 283.1ZM501.4 283.1L498.6 282.3L500.7 282L503.5 282.8ZM503.5 282.8L500.7 282L502.8 281.7L505.5 282.4ZM505.5 282.4L502.8 281.7L504.9 281.4L507.6 282.1ZM507.6 282.1L504.9 281.4L506.9 281L509.6 281.8ZM489.9 284L487.2 283L489.4 282.5L492.1 283.5ZM492.1 283.5L489.4 282.5L491.6 282.1L494.3 283ZM494.3 283L491.6 282.1L493.7 281.8L496.5 282.6ZM496.5 282.6L493.7 281.8L495.9 281.5L498.6 282.3ZM498.6 282.3L495.9 281.5L498 281.2L500.7 282ZM500.7 282L498 281.2L500.1 280.9L502.8 281.7ZM502.8 281.7L500.1 280.9L502.1 280.6L504.9 281.4ZM504.9 281.4L502.1 280.6L504.2 280.4L506.9 281ZM487.2 283L484.4 282L486.7 281.6L489.4 282.5ZM489.4 282.5L486.7 281.6L488.8 281.2L491.6 282.1ZM491.6 282.1L488.8 281.2L491 280.9L493.7 281.8Z" fill="#061818" stroke="#061818" stroke-width="0.35"/>
<path d="M542.8 297.9L539.6 297.1L541.7 296.3L545 297ZM539.6 297.1L536.3 296.3L538.5 295.5L541.7 296.3ZM536.3 296.3L533.1 295.5L535.3 294.8L538.5 295.5ZM525.8 293L522.7 292.6L524.9 292L528 292.4ZM522.7 292.6L519.7 292.2L521.8 291.6L524.9 292ZM529.1 291L526.1 290.5L528.1 290.1L531.2 290.5ZM531.2 290.5L528.1 290.1L530.2 289.7L533.2 290.1ZM533.2 290.1L530.2 289.7L532.2 289.3L535.2 289.8ZM535.2 289.8L532.2 289.3L534.2 289L537.2 289.4ZM537.2 289.4L534.2 289L536.2 288.6L539.2 289ZM539.2 289L536.2 288.6L538.2 288.2L541.2 288.7ZM519.7 292.2L516.6 291.7L518.8 291.1L521.8 291.6ZM521.8 291.6L518.8 291.1L520.9 290.6L524 291ZM524 291L520.9 290.6L523 290.1L526.1 290.5ZM526.1 290.5L523 290.1L525.1 289.6L528.1 290.1ZM528.1 290.1L525.1 289.6L527.2 289.2L530.2 289.7ZM530.2 289.7L527.2 289.2L529.2 288.9L532.2 289.3ZM532.2 289.3L529.2 288.9L531.2 288.5L534.2 289ZM534.2 289L531.2 288.5L533.2 288.1L536.2 288.6ZM536.2 288.6L533.2 288.1L535.2 287.8L538.2 288.2ZM516.6 291.7L513.6 291.2L515.8 290.6L518.8 291.1ZM518.8 291.1L515.8 290.6L517.9 290.1L520.9 290.6ZM520.9 290.6L517.9 290.1L520.1 289.6L523 290.1ZM523 290.1L520.1 289.6L522.2 289.1L525.1 289.6ZM525.1 289.6L522.2 289.1L524.2 288.7L527.2 289.2ZM527.2 289.2L524.2 288.7L526.3 288.3L529.2 288.9ZM529.2 288.9L526.3 288.3L528.3 288L531.2 288.5ZM531.2 288.5L528.3 288L530.3 287.6L533.2 288.1ZM533.2 288.1L530.3 287.6L532.3 287.2L535.2 287.8ZM515.8 290.6L512.8 290.1L515 289.5L517.9 290.1ZM517.9 290.1L515 289.5L517.1 289L520.1 289.6ZM520.1 289.6L517.1 289L519.2 288.5L522.2 289.1ZM522.2 289.1L519.2 288.5L521.3 288.1L524.2 288.7ZM524.2 288.7L521.3 288.1L523.3 287.8L526.3 288.3ZM526.3 288.3L523.3 287.8L525.4 287.4L528.3 288ZM528.3 288L525.4 287.4L527.4 287L530.3 287.6ZM530.3 287.6L527.4 287L529.3 286.6L532.3 287.2ZM512.8 290.1L509.9 289.5L512 288.9L515 289.5Z" fill="#060c0c" stroke="#060c0c" stroke-width="0.35"/>
<path d="M545 297L541.7 296.3L543.8 295.5L547 296.2ZM547 296.2L543.8 295.5L545.9 294.7L549.1 295.3ZM549.1 295.3L545.9 294.7L547.9 294L551.1 294.6ZM551.1 294.6L547.9 294L549.9 293.4L553.1 293.9ZM553.1 293.9L549.9 293.4L551.9 292.8L555.1 293.2ZM555.1 293.2L551.9 292.8L553.9 292.2L557.1 292.6ZM557.1 292.6L553.9 292.2L555.8 291.6L559 292ZM559 292L555.8 291.6L557.8 291.1L561 291.4ZM561 291.4L557.8 291.1L559.7 290.5L562.8 290.8ZM543.8 295.5L540.6 294.8L542.6 294.1L545.9 294.7ZM545.9 294.7L542.6 294.1L544.7 293.4L547.9 294ZM547.9 294L544.7 293.4L546.7 292.8L549.9 293.4ZM549.9 293.4L546.7 292.8L548.7 292.3L551.9 292.8ZM551.9 292.8L548.7 292.3L550.7 291.7L553.9 292.2ZM553.9 292.2L550.7 291.7L552.7 291.2L555.8 291.6ZM555.8 291.6L552.7 291.2L554.6 290.7L557.8 291.1ZM557.8 291.1L554.6 290.7L556.5 290.2L559.7 290.5Z" fill="#000000" stroke="#000000" stroke-width="0.35"/>
<path d="M514.5 307.6L511.2 306.5L513.6 305.6L516.9 306.7ZM511.2 306.5L507.9 305.4L510.3 304.5L513.6 305.6ZM507.9 305.4L504.6 304.5L507.1 303.5L510.3 304.5ZM504.6 304.5L501.4 303.8L503.8 302.9L507.1 303.5ZM453.2 292.2L450.4 289.6L452.9 288.1L455.7 290.6Z" fill="#2a8472" stroke="#2a8472" stroke-width="0.35"/>
<path d="M537.4 298L534.2 297.2L536.3 296.3L539.6 297.1ZM534.2 297.2L531 296.3L533.1 295.5L536.3 296.3ZM531 296.3L527.8 295.5L530 294.8L533.1 295.5ZM527.8 295.5L524.6 294.9L526.8 294.2L530 294.8ZM502.6 290.2L499.6 289.6L501.9 288.9L504.8 289.5ZM499.6 289.6L496.8 288.8L499 288.1L501.9 288.9ZM484.9 283.5L482.2 282.5L484.4 282L487.2 283ZM482.2 282.5L479.5 281.1L481.7 280.7L484.4 282ZM488.8 281.2L486.1 280.1L488.3 279.9L491 280.9ZM491 280.9L488.3 279.9L490.5 279.7L493.2 280.6ZM493.2 280.6L490.5 279.7L492.6 279.6L495.3 280.4ZM495.3 280.4L492.6 279.6L494.7 279.4L497.4 280.2ZM497.4 280.2L494.7 279.4L496.8 279.3L499.4 280ZM499.4 280L496.8 279.3L498.8 279.1L501.5 279.7ZM479.5 281.1L476.8 279.6L479 279.3L481.7 280.7ZM483.9 280.4L481.3 279.1L483.5 278.9L486.1 280.1ZM486.1 280.1L483.5 278.9L485.6 278.8L488.3 279.9ZM488.3 279.9L485.6 278.8L487.8 278.7L490.5 279.7ZM490.5 279.7L487.8 278.7L489.9 278.6L492.6 279.6ZM492.6 279.6L489.9 278.6L492 278.6L494.7 279.4ZM481.3 279.1L478.6 277.6L480.8 277.6L483.5 278.9ZM483.5 278.9L480.8 277.6L483 277.6L485.6 278.8ZM485.6 278.8L483 277.6L485.1 277.6L487.8 278.7ZM487.8 278.7L485.1 277.6L487.3 277.7L489.9 278.6ZM480.8 277.6L478.2 276.1L480.3 276.2L483 277.6ZM483 277.6L480.3 276.2L482.5 276.4L485.1 277.6ZM478.2 276.1L475.5 274.4L477.7 274.8L480.3 276.2ZM480.3 276.2L477.7 274.8L479.9 275.2L482.5 276.4Z" fill="#0c1e18" stroke="#0c1e18" stroke-width="0.35"/>
<path d="M541.7 296.3L538.5 295.5L540.6 294.8L543.8 295.5ZM538.5 295.5L535.3 294.8L537.4 294.1L540.6 294.8ZM550.7 291.7L547.6 291.3L549.5 290.9L552.7 291.2ZM552.7 291.2L549.5 290.9L551.5 290.4L554.6 290.7ZM554.6 290.7L551.5 290.4L553.4 289.9L556.5 290.2ZM535.3 294.8L532.1 294.1L534.2 293.4L537.4 294.1ZM537.4 294.1L534.2 293.4L536.3 292.8L539.5 293.4ZM539.5 293.4L536.3 292.8L538.4 292.3L541.5 292.8ZM541.5 292.8L538.4 292.3L540.4 291.8L543.6 292.3ZM543.6 292.3L540.4 291.8L542.4 291.3L545.6 291.8ZM545.6 291.8L542.4 291.3L544.4 290.9L547.6 291.3ZM547.6 291.3L544.4 290.9L546.4 290.5L549.5 290.9ZM549.5 290.9L546.4 290.5L548.4 290.1L551.5 290.4ZM551.5 290.4L548.4 290.1L550.3 289.7L553.4 289.9ZM532.1 294.1L529 293.5L531.1 292.9L534.2 293.4ZM534.2 293.4L531.1 292.9L533.2 292.3L536.3 292.8ZM536.3 292.8L533.2 292.3L535.3 291.8L538.4 292.3ZM538.4 292.3L535.3 291.8L537.3 291.3L540.4 291.8ZM540.4 291.8L537.3 291.3L539.3 290.9L542.4 291.3ZM542.4 291.3L539.3 290.9L541.3 290.5L544.4 290.9ZM544.4 290.9L541.3 290.5L543.3 290.1L546.4 290.5ZM546.4 290.5L543.3 290.1L545.3 289.8L548.4 290.1ZM548.4 290.1L545.3 289.8L547.2 289.4L550.3 289.7ZM531.1 292.9L528 292.4L530.1 291.9L533.2 292.3ZM533.2 292.3L530.1 291.9L532.2 291.4L535.3 291.8ZM535.3 291.8L532.2 291.4L534.2 290.9L537.3 291.3ZM537.3 291.3L534.2 290.9L536.3 290.5L539.3 290.9ZM539.3 290.9L536.3 290.5L538.3 290.2L541.3 290.5ZM541.3 290.5L538.3 290.2L540.3 289.8L543.3 290.1ZM543.3 290.1L540.3 289.8L542.2 289.4L545.3 289.8ZM545.3 289.8L542.2 289.4L544.2 289.1L547.2 289.4ZM528 292.4L524.9 292L527 291.4L530.1 291.9ZM530.1 291.9L527 291.4L529.1 291L532.2 291.4ZM532.2 291.4L529.1 291L531.2 290.5L534.2 290.9ZM534.2 290.9L531.2 290.5L533.2 290.1L536.3 290.5ZM536.3 290.5L533.2 290.1L535.2 289.8L538.3 290.2ZM538.3 290.2L535.2 289.8L537.2 289.4L540.3 289.8ZM540.3 289.8L537.2 289.4L539.2 289L542.2 289.4ZM542.2 289.4L539.2 289L541.2 288.7L544.2 289.1Z" fill="#000606" stroke="#000606" stroke-width="0.35"/>
<path d="M498.6 309.6L495.3 308.6L497.9 308.9L501.2 309.9ZM491.9 307.8L488.7 307.3L491.3 307.4L494.5 308Z" fill="#36a884" stroke="#36a884" stroke-width="0.35"/>
<path d="M503.7 309.2L500.4 308.1L502.9 307.3L506.3 308.4Z" fill="#36a284" stroke="#36a284" stroke-width="0.35"/>
<path d="M508.7 307.5L505.4 306.4L507.9 305.4L511.2 306.5ZM505.4 306.4L502.1 305.4L504.6 304.5L507.9 305.4ZM502.1 305.4L498.9 304.8L501.4 303.8L504.6 304.5ZM445.3 292.7L442.5 289.7L445.1 288.2L447.9 291.2Z" fill="#309078" stroke="#309078" stroke-width="0.35"/>
<path d="M518.4 303.6L515.1 302.6L517.5 301.6L520.7 302.7ZM515.1 302.6L511.9 301.6L514.2 300.7L517.5 301.6ZM511.9 301.6L508.6 300.9L511 300L514.2 300.7ZM508.6 300.9L505.5 300.4L507.8 299.5L511 300ZM468.6 289.8L465.9 288.4L468.3 287.3L471 288.6ZM463.4 289.7L460.7 287.8L463.1 286.6L465.9 288.4ZM465.9 288.4L463.1 286.6L465.5 285.5L468.3 287.3Z" fill="#246c5a" stroke="#246c5a" stroke-width="0.35"/>
<path d="M520.7 302.7L517.5 301.6L519.8 300.7L523 301.7ZM517.5 301.6L514.2 300.7L516.6 299.7L519.8 300.7ZM514.2 300.7L511 300L513.3 299L516.6 299.7ZM507 298.1L503.9 297.8L506.2 296.8L509.4 297.2ZM473.8 289.7L471 288.6L473.4 287.5L476.2 288.6ZM471 288.6L468.3 287.3L470.7 286.2L473.4 287.5ZM468.3 287.3L465.5 285.5L467.9 284.5L470.7 286.2Z" fill="#1e6654" stroke="#1e6654" stroke-width="0.35"/>
<path d="M532 298L528.8 297.1L531 296.3L534.2 297.2ZM477.7 283.7L474.9 282.2L477.2 281.6L479.9 283Z" fill="#0c302a" stroke="#0c302a" stroke-width="0.35"/>
<path d="M540.6 294.8L537.4 294.1L539.5 293.4L542.6 294.1ZM542.6 294.1L539.5 293.4L541.5 292.8L544.7 293.4ZM544.7 293.4L541.5 292.8L543.6 292.3L546.7 292.8ZM546.7 292.8L543.6 292.3L545.6 291.8L548.7 292.3ZM548.7 292.3L545.6 291.8L547.6 291.3L550.7 291.7Z" fill="#000600" stroke="#000600" stroke-width="0.35"/>
<path d="M495.3 308.6L491.9 307.8L494.5 308L497.9 308.9Z" fill="#30a884" stroke="#30a884" stroke-width="0.35"/>
<path d="M500.4 308.1L497.1 307.2L499.6 306.4L502.9 307.3ZM497.1 307.2L493.8 306.6L496.4 305.7L499.6 306.4Z" fill="#30a284" stroke="#30a284" stroke-width="0.35"/>
<path d="M502.9 307.3L499.6 306.4L502.1 305.4L505.4 306.4ZM499.6 306.4L496.4 305.7L498.9 304.8L502.1 305.4Z" fill="#30967e" stroke="#30967e" stroke-width="0.35"/>
<path d="M512.7 303.5L509.5 302.6L511.9 301.6L515.1 302.6ZM509.5 302.6L506.3 301.9L508.6 300.9L511.9 301.6Z" fill="#247260" stroke="#247260" stroke-width="0.35"/>
<path d="M526.6 297.9L523.4 297.1L525.6 296.3L528.8 297.1ZM523.4 297.1L520.2 296.4L522.4 295.7L525.6 296.3Z" fill="#124236" stroke="#124236" stroke-width="0.35"/>
<path d="M528.8 297.1L525.6 296.3L527.8 295.5L531 296.3ZM525.6 296.3L522.4 295.7L524.6 294.9L527.8 295.5ZM522.4 295.7L519.3 295.1L521.5 294.4L524.6 294.9ZM519.3 295.1L516.2 294.7L518.4 294L521.5 294.4ZM516.2 294.7L513.1 294.3L515.3 293.5L518.4 294ZM486 286.9L483.2 285.9L485.5 285.2L488.3 286.1ZM483.2 285.9L480.4 284.9L482.7 284.2L485.5 285.2ZM480.4 284.9L477.7 283.7L479.9 283L482.7 284.2Z" fill="#12302a" stroke="#12302a" stroke-width="0.35"/>
<path d="M533.1 295.5L530 294.8L532.1 294.1L535.3 294.8ZM530 294.8L526.8 294.2L529 293.5L532.1 294.1ZM513.6 291.2L510.7 290.7L512.8 290.1L515.8 290.6ZM515 289.5L512 288.9L514.2 288.4L517.1 289ZM517.1 289L514.2 288.4L516.3 288L519.2 288.5ZM519.2 288.5L516.3 288L518.4 287.5L521.3 288.1ZM521.3 288.1L518.4 287.5L520.4 287.2L523.3 287.8ZM523.3 287.8L520.4 287.2L522.5 286.8L525.4 287.4ZM525.4 287.4L522.5 286.8L524.5 286.4L527.4 287ZM527.4 287L524.5 286.4L526.5 286L529.3 286.6ZM509.9 289.5L507 288.9L509.1 288.3L512 288.9Z" fill="#06120c" stroke="#06120c" stroke-width="0.35"/>
<path d="M501.4 303.8L498.2 303.5L500.6 302.4L503.8 302.9Z" fill="#2a8a72" stroke="#2a8a72" stroke-width="0.35"/>
<path d="M520.2 296.4L517 295.9L519.3 295.1L522.4 295.7ZM517 295.9L513.9 295.5L516.2 294.7L519.3 295.1Z" fill="#184236" stroke="#184236" stroke-width="0.35"/>
<path d="M524.6 294.9L521.5 294.4L523.7 293.7L526.8 294.2ZM521.5 294.4L518.4 294L520.6 293.3L523.7 293.7ZM496.8 288.8L493.9 287.9L496.1 287.2L499 288.1ZM493.9 287.9L491.1 287.1L493.3 286.4L496.1 287.2ZM491.1 287.1L488.3 286.1L490.5 285.5L493.3 286.4ZM494.7 279.4L492 278.6L494.1 278.5L496.8 279.3ZM496.8 279.3L494.1 278.5L496.2 278.5L498.8 279.1ZM489.9 278.6L487.3 277.7L489.4 277.8L492 278.6ZM492 278.6L489.4 277.8L491.5 277.8L494.1 278.5ZM494.1 278.5L491.5 277.8L493.6 277.9L496.2 278.5ZM485.1 277.6L482.5 276.4L484.7 276.7L487.3 277.7ZM487.3 277.7L484.7 276.7L486.8 276.9L489.4 277.8ZM489.4 277.8L486.8 276.9L488.9 277.1L491.5 277.8ZM491.5 277.8L488.9 277.1L491 277.3L493.6 277.9ZM482.5 276.4L479.9 275.2L482.1 275.6L484.7 276.7Z" fill="#0c1e1e" stroke="#0c1e1e" stroke-width="0.35"/>
<path d="M526.8 294.2L523.7 293.7L525.8 293L529 293.5ZM523.7 293.7L520.6 293.3L522.7 292.6L525.8 293ZM520.6 293.3L517.5 292.8L519.7 292.2L522.7 292.6ZM510.7 290.7L507.7 290.1L509.9 289.5L512.8 290.1ZM507.7 290.1L504.8 289.5L507 288.9L509.9 289.5ZM512 288.9L509.1 288.3L511.3 287.8L514.2 288.4ZM514.2 288.4L511.3 287.8L513.4 287.3L516.3 288ZM516.3 288L513.4 287.3L515.5 286.9L518.4 287.5ZM518.4 287.5L515.5 286.9L517.5 286.5L520.4 287.2ZM520.4 287.2L517.5 286.5L519.6 286.2L522.5 286.8ZM522.5 286.8L519.6 286.2L521.6 285.8L524.5 286.4ZM524.5 286.4L521.6 285.8L523.6 285.4L526.5 286ZM504.8 289.5L501.9 288.9L504.1 288.2L507 288.9ZM507 288.9L504.1 288.2L506.2 287.6L509.1 288.3ZM509.1 288.3L506.2 287.6L508.4 287.1L511.3 287.8ZM511.3 287.8L508.4 287.1L510.5 286.7L513.4 287.3ZM513.4 287.3L510.5 286.7L512.6 286.3L515.5 286.9ZM515.5 286.9L512.6 286.3L514.7 285.9L517.5 286.5ZM517.5 286.5L514.7 285.9L516.7 285.5L519.6 286.2ZM519.6 286.2L516.7 285.5L518.7 285.1L521.6 285.8ZM521.6 285.8L518.7 285.1L520.8 284.7L523.6 285.4ZM501.9 288.9L499 288.1L501.2 287.4L504.1 288.2ZM504.1 288.2L501.2 287.4L503.4 286.9L506.2 287.6ZM506.2 287.6L503.4 286.9L505.5 286.4L508.4 287.1ZM508.4 287.1L505.5 286.4L507.6 285.9L510.5 286.7ZM510.5 286.7L507.6 285.9L509.7 285.5L512.6 286.3ZM512.6 286.3L509.7 285.5L511.8 285.1L514.7 285.9ZM514.7 285.9L511.8 285.1L513.9 284.8L516.7 285.5ZM516.7 285.5L513.9 284.8L515.9 284.4L518.7 285.1ZM518.7 285.1L515.9 284.4L517.9 284L520.8 284.7ZM501.2 287.4L498.3 286.6L500.5 286.1L503.4 286.9ZM503.4 286.9L500.5 286.1L502.7 285.6L505.5 286.4ZM505.5 286.4L502.7 285.6L504.8 285.1L507.6 285.9ZM507.6 285.9L504.8 285.1L506.9 284.7L509.7 285.5ZM509.7 285.5L506.9 284.7L509 284.4L511.8 285.1ZM511.8 285.1L509 284.4L511.1 284L513.9 284.8ZM513.9 284.8L511.1 284L513.1 283.6L515.9 284.4ZM515.9 284.4L513.1 283.6L515.1 283.3L517.9 284Z" fill="#061212" stroke="#061212" stroke-width="0.35"/>
<path d="M529 293.5L525.8 293L528 292.4L531.1 292.9ZM524.9 292L521.8 291.6L524 291L527 291.4ZM527 291.4L524 291L526.1 290.5L529.1 291Z" fill="#060c06" stroke="#060c06" stroke-width="0.35"/>
<path d="M485.4 307.2L482.2 307.4L484.8 307.3L488 307.3ZM488 307.3L484.8 307.3L487.4 306.4L490.6 306.4Z" fill="#36a890" stroke="#36a890" stroke-width="0.35"/>
<path d="M493.2 305.5L490 305.4L492.5 304.3L495.7 304.5ZM442.7 294.4L439.9 291.2L442.5 289.7L445.3 292.7Z" fill="#309c84" stroke="#309c84" stroke-width="0.35"/>
<path d="M498.2 303.5L495 303.3L497.5 302.2L500.6 302.4Z" fill="#2a8a78" stroke="#2a8a78" stroke-width="0.35"/>
<path d="M503.1 301.4L499.9 301.2L502.3 300.1L505.5 300.4Z" fill="#247866" stroke="#247866" stroke-width="0.35"/>
<path d="M514.8 296.7L511.7 296.3L513.9 295.5L517 295.9Z" fill="#184e48" stroke="#184e48" stroke-width="0.35"/>
<path d="M482.2 307.4L479 307.7L481.6 307.5L484.8 307.3ZM484.8 307.3L481.6 307.5L484.2 306.5L487.4 306.4ZM437.4 297.7L434.6 294.4L437.3 292.8L440.1 296Z" fill="#36a896" stroke="#36a896" stroke-width="0.35"/>
<path d="M487.4 306.4L484.2 306.5L486.8 305.4L490 305.4Z" fill="#36a290" stroke="#36a290" stroke-width="0.35"/>
<path d="M490 305.4L486.8 305.4L489.3 304.3L492.5 304.3Z" fill="#369c8a" stroke="#369c8a" stroke-width="0.35"/>
<path d="M492.5 304.3L489.3 304.3L491.8 303.2L495 303.3ZM489.3 304.3L486.2 304.3L488.7 303.1L491.8 303.2Z" fill="#309084" stroke="#309084" stroke-width="0.35"/>
<path d="M495 303.3L491.8 303.2L494.3 302.1L497.5 302.2ZM450.7 293.8L447.9 291.2L450.4 289.6L453.2 292.2Z" fill="#308a78" stroke="#308a78" stroke-width="0.35"/>
<path d="M497.5 302.2L494.3 302.1L496.7 301L499.9 301.2ZM494.3 302.1L491.2 301.9L493.6 300.8L496.7 301ZM469.8 297L466.9 296.2L469.4 294.6L472.3 295.5ZM466.9 296.2L464.1 295.2L466.6 293.6L469.4 294.6ZM464.1 295.2L461.3 294L463.8 292.5L466.6 293.6ZM461.3 294L458.5 292.6L461 291.1L463.8 292.5Z" fill="#2a7e72" stroke="#2a7e72" stroke-width="0.35"/>
<path d="M499.9 301.2L496.7 301L499.2 299.9L502.3 300.1Z" fill="#2a7866" stroke="#2a7866" stroke-width="0.35"/>
<path d="M511.7 296.3L508.5 295.9L510.8 295.1L513.9 295.5Z" fill="#185448" stroke="#185448" stroke-width="0.35"/>
<path d="M513.9 295.5L510.8 295.1L513.1 294.3L516.2 294.7ZM510.8 295.1L507.8 294.7L510 293.9L513.1 294.3ZM507.8 294.7L504.7 294.3L507 293.4L510 293.9Z" fill="#18423c" stroke="#18423c" stroke-width="0.35"/>
<path d="M518.4 294L515.3 293.5L517.5 292.8L520.6 293.3ZM515.3 293.5L512.3 293.1L514.5 292.4L517.5 292.8ZM512.3 293.1L509.2 292.6L511.4 291.9L514.5 292.4ZM488.3 286.1L485.5 285.2L487.7 284.5L490.5 285.5ZM485.5 285.2L482.7 284.2L484.9 283.5L487.7 284.5ZM482.7 284.2L479.9 283L482.2 282.5L484.9 283.5ZM479.9 283L477.2 281.6L479.5 281.1L482.2 282.5ZM477.2 281.6L474.5 280L476.8 279.6L479.5 281.1ZM474.5 280L471.8 278.2L474.1 277.9L476.8 279.6ZM484.7 276.7L482.1 275.6L484.2 276L486.8 276.9ZM486.8 276.9L484.2 276L486.3 276.3L488.9 277.1ZM488.9 277.1L486.3 276.3L488.4 276.7L491 277.3Z" fill="#0c241e" stroke="#0c241e" stroke-width="0.35"/>
<path d="M479 307.7L475.9 308.1L478.5 307.7L481.6 307.5ZM481.6 307.5L478.5 307.7L481.1 306.6L484.2 306.5ZM475.9 308.1L472.7 308.4L475.4 307.9L478.5 307.7ZM478.5 307.7L475.4 307.9L478 306.8L481.1 306.6ZM475.4 307.9L472.3 308L474.9 306.8L478 306.8ZM472.3 308L469.3 308.1L471.9 306.8L474.9 306.8ZM469.3 308.1L466.2 308.2L468.9 306.8L471.9 306.8ZM466.2 308.2L463.3 308.1L465.9 306.6L468.9 306.8ZM463.3 308.1L460.3 307.8L462.9 306.2L465.9 306.6ZM460.3 307.8L457.4 307.3L460 305.7L462.9 306.2ZM457.4 307.3L454.5 306.7L457.1 305.1L460 305.7ZM454.5 306.7L451.6 306.1L454.2 304.4L457.1 305.1ZM451.6 306.1L448.7 305.3L451.3 303.6L454.2 304.4ZM448.7 305.3L445.9 304.2L448.5 302.5L451.3 303.6ZM445.9 304.2L443.1 302.8L445.7 301.1L448.5 302.5ZM443.1 302.8L440.2 300.6L442.9 298.9L445.7 301.1ZM440.2 300.6L437.4 297.7L440.1 296L442.9 298.9ZM434.7 299.3L431.9 295.9L434.6 294.4L437.4 297.7Z" fill="#3ca89c" stroke="#3ca89c" stroke-width="0.35"/>
<path d="M484.2 306.5L481.1 306.6L483.7 305.5L486.8 305.4ZM481.1 306.6L478 306.8L480.6 305.5L483.7 305.5ZM442.9 298.9L440.1 296L442.7 294.4L445.5 297.2Z" fill="#36a296" stroke="#36a296" stroke-width="0.35"/>
<path d="M486.8 305.4L483.7 305.5L486.2 304.3L489.3 304.3ZM483.7 305.5L480.6 305.5L483.1 304.3L486.2 304.3ZM480.6 305.5L477.5 305.5L480 304.2L483.1 304.3ZM477.5 305.5L474.5 305.4L477 304L480 304.2ZM474.5 305.4L471.5 305.3L474 303.9L477 304ZM471.5 305.3L468.5 305.1L471 303.6L474 303.9ZM468.5 305.1L465.5 304.7L468.1 303.1L471 303.6ZM465.5 304.7L462.6 304.1L465.2 302.5L468.1 303.1ZM462.6 304.1L459.7 303.4L462.3 301.8L465.2 302.5ZM459.7 303.4L456.8 302.7L459.4 301L462.3 301.8ZM456.8 302.7L454 301.8L456.5 300.1L459.4 301ZM454 301.8L451.1 300.7L453.7 299L456.5 300.1ZM451.1 300.7L448.3 299.3L450.9 297.6L453.7 299ZM445.5 297.2L442.7 294.4L445.3 292.7L448.1 295.5Z" fill="#369c90" stroke="#369c90" stroke-width="0.35"/>
<path d="M491.8 303.2L488.7 303.1L491.2 301.9L494.3 302.1ZM488.7 303.1L485.6 303L488.1 301.8L491.2 301.9ZM485.6 303L482.6 302.9L485.1 301.6L488.1 301.8Z" fill="#308a7e" stroke="#308a7e" stroke-width="0.35"/>
<path d="M496.7 301L493.6 300.8L496.1 299.6L499.2 299.9ZM493.6 300.8L490.6 300.6L493 299.4L496.1 299.6ZM490.6 300.6L487.5 300.3L490 299L493 299.4Z" fill="#2a786c" stroke="#2a786c" stroke-width="0.35"/>
<path d="M499.2 299.9L496.1 299.6L498.5 298.6L501.6 298.8ZM486.4 297L483.4 296.5L485.8 295.3L488.8 295.8ZM483.4 296.5L480.5 295.8L482.9 294.6L485.8 295.3ZM480.5 295.8L477.6 295L480 293.7L482.9 294.6ZM477.6 295L474.7 294.1L477.1 292.9L480 293.7ZM474.7 294.1L471.9 293.2L474.3 291.9L477.1 292.9ZM471.9 293.2L469 292.2L471.4 290.9L474.3 291.9Z" fill="#246c66" stroke="#246c66" stroke-width="0.35"/>
<path d="M508.5 295.9L505.5 295.6L507.8 294.7L510.8 295.1ZM505.5 295.6L502.4 295.2L504.7 294.3L507.8 294.7Z" fill="#1e5448" stroke="#1e5448" stroke-width="0.35"/>
<path d="M513.1 294.3L510 293.9L512.3 293.1L515.3 293.5ZM510 293.9L507 293.4L509.2 292.6L512.3 293.1ZM507 293.4L504 292.9L506.2 292.1L509.2 292.6ZM504 292.9L501 292.4L503.3 291.6L506.2 292.1ZM501 292.4L498.1 291.8L500.3 291L503.3 291.6ZM498.1 291.8L495.1 291.2L497.4 290.3L500.3 291Z" fill="#123630" stroke="#123630" stroke-width="0.35"/>
<path d="M517.5 292.8L514.5 292.4L516.6 291.7L519.7 292.2ZM514.5 292.4L511.4 291.9L513.6 291.2L516.6 291.7ZM499 288.1L496.1 287.2L498.3 286.6L501.2 287.4ZM496.1 287.2L493.3 286.4L495.5 285.7L498.3 286.6ZM498.3 286.6L495.5 285.7L497.7 285.2L500.5 286.1ZM500.5 286.1L497.7 285.2L499.9 284.7L502.7 285.6ZM502.7 285.6L499.9 284.7L502 284.3L504.8 285.1ZM504.8 285.1L502 284.3L504.1 283.9L506.9 284.7ZM506.9 284.7L504.1 283.9L506.2 283.6L509 284.4ZM509 284.4L506.2 283.6L508.3 283.2L511.1 284ZM511.1 284L508.3 283.2L510.3 282.9L513.1 283.6ZM513.1 283.6L510.3 282.9L512.4 282.5L515.1 283.3ZM495.5 285.7L492.7 284.9L494.9 284.3L497.7 285.2ZM497.7 285.2L494.9 284.3L497.1 283.9L499.9 284.7ZM499.9 284.7L497.1 283.9L499.2 283.5L502 284.3Z" fill="#061812" stroke="#061812" stroke-width="0.35"/>
<path d="M486.2 304.3L483.1 304.3L485.6 303L488.7 303.1ZM483.1 304.3L480 304.2L482.6 302.9L485.6 303ZM480 304.2L477 304L479.5 302.7L482.6 302.9Z" fill="#36908a" stroke="#36908a" stroke-width="0.35"/>
<path d="M491.2 301.9L488.1 301.8L490.6 300.6L493.6 300.8ZM488.1 301.8L485.1 301.6L487.5 300.3L490.6 300.6Z" fill="#2a7e78" stroke="#2a7e78" stroke-width="0.35"/>
<path d="M472.7 308.4L469.7 308.6L472.3 308L475.4 307.9ZM469.7 308.6L466.6 308.8L469.3 308.1L472.3 308ZM466.6 308.8L463.6 309L466.2 308.2L469.3 308.1ZM463.6 309L460.6 309.1L463.3 308.1L466.2 308.2ZM460.6 309.1L457.6 308.8L460.3 307.8L463.3 308.1ZM457.6 308.8L454.7 308.4L457.4 307.3L460.3 307.8ZM454.7 308.4L451.8 308L454.5 306.7L457.4 307.3ZM451.8 308L448.9 307.5L451.6 306.1L454.5 306.7ZM448.9 307.5L446 306.7L448.7 305.3L451.6 306.1ZM446 306.7L443.2 305.7L445.9 304.2L448.7 305.3ZM443.2 305.7L440.4 304.4L443.1 302.8L445.9 304.2ZM440.4 304.4L437.6 302.2L440.2 300.6L443.1 302.8ZM437.6 302.2L434.7 299.3L437.4 297.7L440.2 300.6Z" fill="#3ca8a2" stroke="#3ca8a2" stroke-width="0.35"/>
<path d="M478 306.8L474.9 306.8L477.5 305.5L480.6 305.5ZM474.9 306.8L471.9 306.8L474.5 305.4L477.5 305.5ZM471.9 306.8L468.9 306.8L471.5 305.3L474.5 305.4ZM468.9 306.8L465.9 306.6L468.5 305.1L471.5 305.3ZM465.9 306.6L462.9 306.2L465.5 304.7L468.5 305.1ZM462.9 306.2L460 305.7L462.6 304.1L465.5 304.7ZM460 305.7L457.1 305.1L459.7 303.4L462.6 304.1ZM457.1 305.1L454.2 304.4L456.8 302.7L459.7 303.4ZM454.2 304.4L451.3 303.6L454 301.8L456.8 302.7ZM451.3 303.6L448.5 302.5L451.1 300.7L454 301.8ZM448.5 302.5L445.7 301.1L448.3 299.3L451.1 300.7ZM445.7 301.1L442.9 298.9L445.5 297.2L448.3 299.3Z" fill="#3ca296" stroke="#3ca296" stroke-width="0.35"/>
<path d="M502.4 295.2L499.4 294.7L501.7 293.8L504.7 294.3ZM499.4 294.7L496.4 294.2L498.7 293.2L501.7 293.8ZM496.4 294.2L493.5 293.7L495.8 292.7L498.7 293.2ZM493.5 293.7L490.5 293.1L492.8 292.1L495.8 292.7ZM490.5 293.1L487.6 292.3L489.9 291.3L492.8 292.1Z" fill="#1e544e" stroke="#1e544e" stroke-width="0.35"/>
<path d="M504.7 294.3L501.7 293.8L504 292.9L507 293.4Z" fill="#18483c" stroke="#18483c" stroke-width="0.35"/>
<path d="M509.2 292.6L506.2 292.1L508.5 291.4L511.4 291.9ZM506.2 292.1L503.3 291.6L505.5 290.8L508.5 291.4Z" fill="#0c2424" stroke="#0c2424" stroke-width="0.35"/>
<path d="M482.6 302.9L479.5 302.7L482 301.3L485.1 301.6ZM479.5 302.7L476.5 302.5L479 301L482 301.3ZM476.5 302.5L473.6 302.1L476.1 300.7L479 301ZM473.6 302.1L470.6 301.6L473.1 300.1L476.1 300.7ZM470.6 301.6L467.7 300.9L470.2 299.3L473.1 300.1ZM467.7 300.9L464.8 300.2L467.3 298.6L470.2 299.3ZM464.8 300.2L461.9 299.4L464.5 297.7L467.3 298.6ZM461.9 299.4L459.1 298.4L461.6 296.8L464.5 297.7ZM459.1 298.4L456.3 297.3L458.8 295.6L461.6 296.8ZM456.3 297.3L453.5 295.9L456 294.2L458.8 295.6ZM453.5 295.9L450.7 293.8L453.2 292.2L456 294.2Z" fill="#308a84" stroke="#308a84" stroke-width="0.35"/>
<path d="M485.1 301.6L482 301.3L484.5 300L487.5 300.3ZM482 301.3L479 301L481.5 299.7L484.5 300ZM479 301L476.1 300.7L478.5 299.2L481.5 299.7ZM476.1 300.7L473.1 300.1L475.6 298.6L478.5 299.2ZM458.8 295.6L456 294.2L458.5 292.6L461.3 294ZM456 294.2L453.2 292.2L455.7 290.6L458.5 292.6Z" fill="#308478" stroke="#308478" stroke-width="0.35"/>
<path d="M487.5 300.3L484.5 300L486.9 298.7L490 299ZM484.5 300L481.5 299.7L484 298.3L486.9 298.7ZM481.5 299.7L478.5 299.2L481 297.8L484 298.3ZM478.5 299.2L475.6 298.6L478.1 297.1L481 297.8ZM475.6 298.6L472.7 297.8L475.2 296.4L478.1 297.1ZM472.7 297.8L469.8 297L472.3 295.5L475.2 296.4Z" fill="#2a7872" stroke="#2a7872" stroke-width="0.35"/>
<path d="M490 299L486.9 298.7L489.3 297.5L492.4 297.9ZM463.8 292.5L461 291.1L463.4 289.7L466.2 291.1Z" fill="#2a7266" stroke="#2a7266" stroke-width="0.35"/>
<path d="M501.7 293.8L498.7 293.2L501 292.4L504 292.9ZM498.7 293.2L495.8 292.7L498.1 291.8L501 292.4ZM495.8 292.7L492.8 292.1L495.1 291.2L498.1 291.8ZM492.8 292.1L489.9 291.3L492.2 290.4L495.1 291.2ZM489.9 291.3L487.1 290.4L489.4 289.5L492.2 290.4ZM487.1 290.4L484.2 289.6L486.5 288.6L489.4 289.5Z" fill="#184842" stroke="#184842" stroke-width="0.35"/>
<path d="M477 304L474 303.9L476.5 302.5L479.5 302.7ZM474 303.9L471 303.6L473.6 302.1L476.5 302.5ZM471 303.6L468.1 303.1L470.6 301.6L473.6 302.1ZM468.1 303.1L465.2 302.5L467.7 300.9L470.6 301.6ZM465.2 302.5L462.3 301.8L464.8 300.2L467.7 300.9ZM462.3 301.8L459.4 301L461.9 299.4L464.8 300.2ZM459.4 301L456.5 300.1L459.1 298.4L461.9 299.4ZM456.5 300.1L453.7 299L456.3 297.3L459.1 298.4ZM453.7 299L450.9 297.6L453.5 295.9L456.3 297.3ZM450.9 297.6L448.1 295.5L450.7 293.8L453.5 295.9Z" fill="#36968a" stroke="#36968a" stroke-width="0.35"/>
<path d="M486.9 298.7L484 298.3L486.4 297L489.3 297.5ZM484 298.3L481 297.8L483.4 296.5L486.4 297ZM481 297.8L478.1 297.1L480.5 295.8L483.4 296.5ZM478.1 297.1L475.2 296.4L477.6 295L480.5 295.8ZM475.2 296.4L472.3 295.5L474.7 294.1L477.6 295ZM472.3 295.5L469.4 294.6L471.9 293.2L474.7 294.1ZM469.4 294.6L466.6 293.6L469 292.2L471.9 293.2ZM466.6 293.6L463.8 292.5L466.2 291.1L469 292.2Z" fill="#2a726c" stroke="#2a726c" stroke-width="0.35"/>
<path d="M491.7 296.3L488.8 295.8L491.1 294.7L494.1 295.2ZM488.8 295.8L485.8 295.3L488.2 294.1L491.1 294.7ZM485.8 295.3L482.9 294.6L485.3 293.4L488.2 294.1ZM482.9 294.6L480 293.7L482.4 292.5L485.3 293.4ZM480 293.7L477.1 292.9L479.5 291.7L482.4 292.5Z" fill="#246660" stroke="#246660" stroke-width="0.35"/>
<path d="M494.1 295.2L491.1 294.7L493.5 293.7L496.4 294.2Z" fill="#1e605a" stroke="#1e605a" stroke-width="0.35"/>
<path d="M505.5 290.8L502.6 290.2L504.8 289.5L507.7 290.1ZM493.7 281.8L491 280.9L493.2 280.6L495.9 281.5ZM495.9 281.5L493.2 280.6L495.3 280.4L498 281.2ZM498 281.2L495.3 280.4L497.4 280.2L500.1 280.9ZM500.1 280.9L497.4 280.2L499.4 280L502.1 280.6ZM502.1 280.6L499.4 280L501.5 279.7L504.2 280.4Z" fill="#0c1818" stroke="#0c1818" stroke-width="0.35"/>
<path d="M491.1 294.7L488.2 294.1L490.5 293.1L493.5 293.7ZM488.2 294.1L485.3 293.4L487.6 292.3L490.5 293.1ZM485.3 293.4L482.4 292.5L484.7 291.4L487.6 292.3ZM482.4 292.5L479.5 291.7L481.9 290.6L484.7 291.4ZM479.5 291.7L476.7 290.7L479 289.6L481.9 290.6Z" fill="#24605a" stroke="#24605a" stroke-width="0.35"/>
<path d="M473.1 300.1L470.2 299.3L472.7 297.8L475.6 298.6ZM470.2 299.3L467.3 298.6L469.8 297L472.7 297.8ZM467.3 298.6L464.5 297.7L466.9 296.2L469.8 297ZM464.5 297.7L461.6 296.8L464.1 295.2L466.9 296.2ZM461.6 296.8L458.8 295.6L461.3 294L464.1 295.2Z" fill="#30847e" stroke="#30847e" stroke-width="0.35"/>
<path d="M491.6 288.7L488.8 287.8L491.1 287.1L493.9 287.9ZM488.8 287.8L486 286.9L488.3 286.1L491.1 287.1Z" fill="#0c2a2a" stroke="#0c2a2a" stroke-width="0.35"/>
<path d="M487.7 284.5L484.9 283.5L487.2 283L489.9 284ZM484.4 282L481.7 280.7L483.9 280.4L486.7 281.6ZM486.7 281.6L483.9 280.4L486.1 280.1L488.8 281.2ZM481.7 280.7L479 279.3L481.3 279.1L483.9 280.4ZM476.8 279.6L474.1 277.9L476.4 277.7L479 279.3ZM479 279.3L476.4 277.7L478.6 277.6L481.3 279.1ZM474.1 277.9L471.4 275.9L473.7 275.9L476.4 277.7ZM476.4 277.7L473.7 275.9L475.9 275.9L478.6 277.6ZM478.6 277.6L475.9 275.9L478.2 276.1L480.8 277.6ZM475.9 275.9L473.3 274.1L475.5 274.4L478.2 276.1Z" fill="#061e18" stroke="#061e18" stroke-width="0.35"/>
<path d="M448.3 299.3L445.5 297.2L448.1 295.5L450.9 297.6Z" fill="#369c96" stroke="#369c96" stroke-width="0.35"/>
<path d="M470.7 286.2L467.9 284.5L470.3 283.6L473 285.3Z" fill="#1e5a48" stroke="#1e5a48" stroke-width="0.35"/>
<path d="M473 285.3L470.3 283.6L472.6 282.9L475.3 284.4Z" fill="#184e3c" stroke="#184e3c" stroke-width="0.35"/>
<path d="M475.3 284.4L472.6 282.9L474.9 282.2L477.7 283.7Z" fill="#123c30" stroke="#123c30" stroke-width="0.35"/>
<path d="M455.7 290.6L452.9 288.1L455.4 286.7L458.2 289.2Z" fill="#247e66" stroke="#247e66" stroke-width="0.35"/>
<path d="M458.2 289.2L455.4 286.7L457.9 285.5L460.7 287.8Z" fill="#24725a" stroke="#24725a" stroke-width="0.35"/>
<path d="M460.7 287.8L457.9 285.5L460.3 284.4L463.1 286.6Z" fill="#1e6c54" stroke="#1e6c54" stroke-width="0.35"/>
<path d="M463.1 286.6L460.3 284.4L462.8 283.4L465.5 285.5Z" fill="#1e6c4e" stroke="#1e6c4e" stroke-width="0.35"/>
<path d="M465.5 285.5L462.8 283.4L465.2 282.5L467.9 284.5Z" fill="#1e6648" stroke="#1e6648" stroke-width="0.35"/>
<path d="M467.9 284.5L465.2 282.5L467.5 281.7L470.3 283.6Z" fill="#185a42" stroke="#185a42" stroke-width="0.35"/>
<path d="M470.3 283.6L467.5 281.7L469.9 281L472.6 282.9Z" fill="#184e36" stroke="#184e36" stroke-width="0.35"/>
<path d="M472.6 282.9L469.9 281L472.2 280.5L474.9 282.2Z" fill="#124230" stroke="#124230" stroke-width="0.35"/>
<path d="M474.9 282.2L472.2 280.5L474.5 280L477.2 281.6ZM472.2 280.5L469.5 278.5L471.8 278.2L474.5 280Z" fill="#0c3024" stroke="#0c3024" stroke-width="0.35"/>
<path d="M447.9 291.2L445.1 288.2L447.7 286.7L450.4 289.6Z" fill="#2a8a6c" stroke="#2a8a6c" stroke-width="0.35"/>
<path d="M450.4 289.6L447.7 286.7L450.2 285.3L452.9 288.1Z" fill="#248460" stroke="#248460" stroke-width="0.35"/>
<path d="M452.9 288.1L450.2 285.3L452.7 284L455.4 286.7Z" fill="#24785a" stroke="#24785a" stroke-width="0.35"/>
<path d="M455.4 286.7L452.7 284L455.2 282.9L457.9 285.5Z" fill="#1e724e" stroke="#1e724e" stroke-width="0.35"/>
<path d="M457.9 285.5L455.2 282.9L457.6 281.9L460.3 284.4ZM460.3 284.4L457.6 281.9L460 281L462.8 283.4Z" fill="#1e6c48" stroke="#1e6c48" stroke-width="0.35"/>
<path d="M462.8 283.4L460 281L462.4 280.2L465.2 282.5Z" fill="#186642" stroke="#186642" stroke-width="0.35"/>
<path d="M465.2 282.5L462.4 280.2L464.8 279.5L467.5 281.7Z" fill="#185a3c" stroke="#185a3c" stroke-width="0.35"/>
<path d="M467.5 281.7L464.8 279.5L467.2 279L469.9 281Z" fill="#124e30" stroke="#124e30" stroke-width="0.35"/>
<path d="M469.9 281L467.2 279L469.5 278.5L472.2 280.5Z" fill="#12422a" stroke="#12422a" stroke-width="0.35"/>
<path d="M434.6 294.4L431.8 290.1L434.5 288.6L437.3 292.8Z" fill="#30a27e" stroke="#30a27e" stroke-width="0.35"/>
<path d="M437.3 292.8L434.5 288.6L437.1 287.2L439.9 291.2Z" fill="#309c78" stroke="#309c78" stroke-width="0.35"/>
<path d="M439.9 291.2L437.1 287.2L439.7 285.7L442.5 289.7Z" fill="#2a966c" stroke="#2a966c" stroke-width="0.35"/>
<path d="M442.5 289.7L439.7 285.7L442.3 284.4L445.1 288.2Z" fill="#249060" stroke="#249060" stroke-width="0.35"/>
<path d="M445.1 288.2L442.3 284.4L444.9 283.1L447.7 286.7Z" fill="#248a5a" stroke="#248a5a" stroke-width="0.35"/>
<path d="M447.7 286.7L444.9 283.1L447.4 281.8L450.2 285.3Z" fill="#1e7e4e" stroke="#1e7e4e" stroke-width="0.35"/>
<path d="M450.2 285.3L447.4 281.8L449.9 280.7L452.7 284Z" fill="#1e7848" stroke="#1e7848" stroke-width="0.35"/>
<path d="M452.7 284L449.9 280.7L452.4 279.6L455.2 282.9Z" fill="#187242" stroke="#187242" stroke-width="0.35"/>
<path d="M455.2 282.9L452.4 279.6L454.9 278.8L457.6 281.9Z" fill="#186c3c" stroke="#186c3c" stroke-width="0.35"/>
<path d="M457.6 281.9L454.9 278.8L457.3 278L460 281Z" fill="#18663c" stroke="#18663c" stroke-width="0.35"/>
<path d="M460 281L457.3 278L459.7 277.4L462.4 280.2Z" fill="#186636" stroke="#186636" stroke-width="0.35"/>
<path d="M462.4 280.2L459.7 277.4L462.1 276.9L464.8 279.5Z" fill="#125a30" stroke="#125a30" stroke-width="0.35"/>
<path d="M464.8 279.5L462.1 276.9L464.5 276.5L467.2 279Z" fill="#124e2a" stroke="#124e2a" stroke-width="0.35"/>
<path d="M467.2 279L464.5 276.5L466.8 276.2L469.5 278.5Z" fill="#0c4224" stroke="#0c4224" stroke-width="0.35"/>
<path d="M469.5 278.5L466.8 276.2L469.1 276L471.8 278.2Z" fill="#0c301e" stroke="#0c301e" stroke-width="0.35"/>
<path d="M471.8 278.2L469.1 276L471.4 275.9L474.1 277.9Z" fill="#0c2a18" stroke="#0c2a18" stroke-width="0.35"/>
<path d="M429.1 291.5L426.3 286.6L429 285.3L431.8 290.1Z" fill="#2aa260" stroke="#2aa260" stroke-width="0.35"/>
<path d="M431.8 290.1L429 285.3L431.7 284L434.5 288.6Z" fill="#24a25a" stroke="#24a25a" stroke-width="0.35"/>
<path d="M434.5 288.6L431.7 284L434.3 282.7L437.1 287.2Z" fill="#249c54" stroke="#249c54" stroke-width="0.35"/>
<path d="M437.1 287.2L434.3 282.7L437 281.4L439.7 285.7Z" fill="#1e964e" stroke="#1e964e" stroke-width="0.35"/>
<path d="M439.7 285.7L437 281.4L439.6 280.2L442.3 284.4Z" fill="#1e9048" stroke="#1e9048" stroke-width="0.35"/>
<path d="M442.3 284.4L439.6 280.2L442.1 279L444.9 283.1Z" fill="#1e8442" stroke="#1e8442" stroke-width="0.35"/>
<path d="M444.9 283.1L442.1 279L444.7 277.9L447.4 281.8Z" fill="#187e3c" stroke="#187e3c" stroke-width="0.35"/>
<path d="M447.4 281.8L444.7 277.9L447.2 276.9L449.9 280.7Z" fill="#187836" stroke="#187836" stroke-width="0.35"/>
<path d="M449.9 280.7L447.2 276.9L449.7 276.1L452.4 279.6Z" fill="#187236" stroke="#187236" stroke-width="0.35"/>
<path d="M452.4 279.6L449.7 276.1L452.2 275.4L454.9 278.8Z" fill="#126c30" stroke="#126c30" stroke-width="0.35"/>
<path d="M454.9 278.8L452.2 275.4L454.6 274.8L457.3 278Z" fill="#126630" stroke="#126630" stroke-width="0.35"/>
<path d="M457.3 278L454.6 274.8L457 274.4L459.7 277.4Z" fill="#12602a" stroke="#12602a" stroke-width="0.35"/>
<path d="M459.7 277.4L457 274.4L459.4 274L462.1 276.9Z" fill="#125a2a" stroke="#125a2a" stroke-width="0.35"/>
<path d="M462.1 276.9L459.4 274L461.8 273.8L464.5 276.5Z" fill="#124e24" stroke="#124e24" stroke-width="0.35"/>
<path d="M464.5 276.5L461.8 273.8L464.2 273.7L466.8 276.2Z" fill="#0c421e" stroke="#0c421e" stroke-width="0.35"/>
<path d="M466.8 276.2L464.2 273.7L466.5 273.7L469.1 276Z" fill="#0c3618" stroke="#0c3618" stroke-width="0.35"/>
<path d="M469.1 276L466.5 273.7L468.8 273.8L471.4 275.9Z" fill="#062a18" stroke="#062a18" stroke-width="0.35"/>
<path d="M471.4 275.9L468.8 273.8L471.1 273.9L473.7 275.9Z" fill="#062412" stroke="#062412" stroke-width="0.35"/>
<path d="M473.7 275.9L471.1 273.9L473.3 274.1L475.9 275.9Z" fill="#061e12" stroke="#061e12" stroke-width="0.35"/>
<path d="M505.4 311.5L507.3 311.9L509.1 311.7L510.9 311.2L512.7 310.6L514.5 309.9L516.3 309.3L518 308.6L519.8 307.9L521.5 307.2L523.2 306.5L524.9 305.8L526.6 305.1L528.2 304.3L529.9 303.6L531.5 302.8L533.2 302.1L534.8 301.4L536.4 300.7L537.9 300L539.5 299.3L541.1 298.7L542.6 298L544.1 297.4L545.6 296.7L547.2 296.1L548.6 295.5L550.1 295L551.6 294.4L553 293.9L554.5 293.5L555.9 293L557.3 292.5L558.7 292.1L560.1 291.7L561.5 291.2L562.8 290.8M505.4 311.5L502.9 310.9L500.5 310.2L498.1 309.4L495.6 308.7L493.2 308.1L490.8 307.6L488.5 307.3L486.1 307.2L483.8 307.3L481.5 307.5L479.2 307.7L476.9 308L474.6 308.2L472.4 308.4L470.2 308.6L468 308.7L465.8 308.9L463.6 309L461.4 309.1L459.3 309L457.1 308.8L455 308.5L452.9 308.2L450.8 307.8L448.7 307.4L446.7 306.9L444.6 306.3L442.6 305.5L440.5 304.5L438.5 303L436.5 301.1L434.4 298.9L432.4 296.5L430.4 293.6L428.3 290.1L426.3 286.6M502.9 310.9L504.8 311.3L506.6 311L508.5 310.5L510.3 309.9L512.1 309.2L513.8 308.6L515.6 307.9L517.3 307.2L519.1 306.5L520.8 305.8L522.5 305.1L524.2 304.4L525.8 303.6L527.5 302.9L529.1 302.2L530.8 301.4L532.4 300.7L534 300.1L535.6 299.4L537.1 298.7L538.7 298.1L540.2 297.4L541.8 296.8L543.3 296.2L544.8 295.6L546.3 295.1L547.8 294.5L549.2 294L550.7 293.5L552.1 293.1L553.6 292.7L555 292.2L556.4 291.8L557.8 291.4L559.2 291L560.5 290.6M507.3 311.9L504.8 311.3L502.3 310.5L499.9 309.7L497.5 309L495.1 308.3L492.7 307.8L490.4 307.5L488 307.3L485.7 307.3L483.4 307.4L481.1 307.6L478.8 307.8L476.6 308L474.3 308.1L472.1 308.2L469.9 308.3L467.7 308.4L465.5 308.5L463.4 308.4L461.2 308.3L459.1 308L457 307.7L454.8 307.3L452.8 306.9L450.7 306.5L448.6 305.9L446.6 305.2L444.5 304.4L442.5 303.4L440.4 301.9L438.4 300L436.4 297.8L434.3 295.4L432.3 292.6L430.3 289.1L428.3 285.6M500.5 310.2L502.3 310.5L504.2 310.3L506 309.7L507.8 309.1L509.6 308.4L511.4 307.8L513.2 307.1L514.9 306.4L516.7 305.7L518.4 305L520.1 304.3L521.8 303.6L523.5 302.9L525.1 302.1L526.8 301.4L528.4 300.7L530 300.1L531.6 299.4L533.2 298.8L534.8 298.1L536.3 297.5L537.9 296.9L539.4 296.3L541 295.7L542.5 295.1L544 294.6L545.5 294.1L546.9 293.6L548.4 293.2L549.8 292.7L551.3 292.3L552.7 291.9L554.1 291.5L555.5 291.2L556.9 290.8L558.3 290.4M509.1 311.7L506.6 311L504.2 310.3L501.8 309.5L499.4 308.7L497 308L494.6 307.4L492.2 307.1L489.9 306.9L487.6 306.9L485.3 306.9L483 307.1L480.7 307.2L478.4 307.3L476.2 307.4L474 307.5L471.8 307.5L469.6 307.6L467.4 307.6L465.3 307.5L463.1 307.3L461 307L458.9 306.6L456.8 306.2L454.7 305.8L452.6 305.3L450.5 304.7L448.5 304L446.4 303.2L444.4 302.1L442.4 300.7L440.3 298.8L438.3 296.6L436.3 294.2L434.3 291.5L432.2 288.1L430.2 284.7M498.1 309.4L499.9 309.7L501.8 309.5L503.6 308.9L505.4 308.3L507.2 307.6L509 307L510.8 306.3L512.5 305.6L514.3 304.9L516 304.2L517.7 303.5L519.4 302.8L521.1 302.1L522.7 301.4L524.4 300.7L526 300L527.7 299.4L529.3 298.7L530.9 298.1L532.4 297.5L534 296.9L535.6 296.3L537.1 295.7L538.6 295.1L540.2 294.6L541.7 294.1L543.1 293.6L544.6 293.2L546.1 292.8L547.5 292.4L549 292L550.4 291.6L551.8 291.3L553.2 290.9L554.6 290.5L556 290.2M510.9 311.2L508.5 310.5L506 309.7L503.6 308.9L501.2 308.1L498.8 307.4L496.4 306.8L494.1 306.5L491.8 306.3L489.4 306.2L487.1 306.2L484.8 306.3L482.6 306.4L480.3 306.5L478.1 306.6L475.9 306.6L473.7 306.6L471.5 306.6L469.3 306.5L467.1 306.5L465 306.2L462.9 305.9L460.8 305.5L458.6 305.1L456.6 304.6L454.5 304.1L452.4 303.5L450.4 302.8L448.3 301.9L446.3 300.9L444.3 299.4L442.2 297.6L440.2 295.4L438.2 293.1L436.2 290.4L434.1 287.1L432.1 283.7M495.6 308.7L497.5 309L499.4 308.7L501.2 308.1L503 307.5L504.8 306.8L506.6 306.2L508.4 305.5L510.2 304.8L511.9 304.1L513.6 303.4L515.3 302.7L517 302L518.7 301.3L520.4 300.7L522.1 300L523.7 299.3L525.3 298.7L526.9 298L528.5 297.4L530.1 296.9L531.7 296.3L533.3 295.7L534.8 295.2L536.3 294.6L537.8 294.1L539.4 293.6L540.8 293.2L542.3 292.8L543.8 292.4L545.3 292L546.7 291.7L548.1 291.3L549.5 291L550.9 290.7L552.3 290.3L553.7 290M512.7 310.6L510.3 309.9L507.8 309.1L505.4 308.3L503 307.5L500.6 306.8L498.3 306.2L495.9 305.8L493.6 305.6L491.3 305.5L489 305.5L486.7 305.5L484.4 305.6L482.2 305.6L479.9 305.7L477.7 305.6L475.5 305.6L473.3 305.6L471.2 305.5L469 305.4L466.9 305.1L464.7 304.7L462.6 304.3L460.5 303.9L458.4 303.4L456.4 302.8L454.3 302.2L452.2 301.5L450.2 300.6L448.2 299.6L446.1 298.2L444.1 296.3L442.1 294.2L440.1 291.9L438.1 289.3L436.1 286L434 282.8M493.2 308.1L495.1 308.3L497 308L498.8 307.4L500.6 306.8L502.5 306.1L504.2 305.5L506 304.8L507.8 304.1L509.5 303.4L511.3 302.7L513 302L514.7 301.3L516.4 300.6L518.1 300L519.7 299.3L521.4 298.6L523 298L524.6 297.4L526.2 296.8L527.8 296.3L529.4 295.7L530.9 295.2L532.5 294.6L534 294.1L535.6 293.6L537.1 293.2L538.6 292.8L540.1 292.4L541.5 292L543 291.7L544.4 291.3L545.9 291L547.3 290.7L548.7 290.4L550.1 290.1L551.5 289.8M514.5 309.9L512.1 309.2L509.6 308.4L507.2 307.6L504.8 306.8L502.5 306.1L500.1 305.5L497.7 305.1L495.4 304.9L493.1 304.8L490.8 304.7L488.5 304.7L486.3 304.8L484 304.8L481.8 304.8L479.6 304.7L477.4 304.6L475.2 304.5L473 304.5L470.9 304.3L468.7 304L466.6 303.6L464.5 303.2L462.4 302.7L460.3 302.2L458.2 301.6L456.2 301L454.1 300.2L452.1 299.4L450 298.3L448 296.9L446 295.1L444 293L442 290.8L440 288.2L438 285L435.9 281.9M490.8 307.6L492.7 307.8L494.6 307.4L496.4 306.8L498.3 306.2L500.1 305.5L501.9 304.9L503.7 304.2L505.4 303.5L507.2 302.8L508.9 302.1L510.7 301.4L512.4 300.7L514.1 300L515.7 299.4L517.4 298.7L519.1 298.1L520.7 297.4L522.3 296.9L523.9 296.3L525.5 295.7L527.1 295.2L528.7 294.7L530.2 294.2L531.8 293.7L533.3 293.2L534.8 292.8L536.3 292.4L537.8 292L539.3 291.7L540.7 291.3L542.2 291L543.6 290.7L545 290.5L546.5 290.2L547.9 289.9L549.3 289.6M516.3 309.3L513.8 308.6L511.4 307.8L509 307L506.6 306.2L504.2 305.5L501.9 304.9L499.5 304.4L497.2 304.2L494.9 304L492.6 304L490.3 303.9L488.1 303.9L485.8 303.9L483.6 303.9L481.4 303.8L479.2 303.6L477 303.5L474.9 303.4L472.7 303.2L470.6 302.9L468.4 302.5L466.3 302L464.2 301.5L462.1 301L460.1 300.4L458 299.7L456 299L453.9 298.1L451.9 297.1L449.9 295.7L447.9 293.9L445.9 291.9L443.8 289.7L441.8 287.1L439.8 284.1L437.8 281M488.5 307.3L490.4 307.5L492.2 307.1L494.1 306.5L495.9 305.8L497.7 305.1L499.5 304.4L501.3 303.7L503.1 303L504.9 302.3L506.6 301.6L508.3 300.9L510 300.2L511.7 299.6L513.4 298.9L515.1 298.2L516.8 297.6L518.4 297L520 296.4L521.6 295.8L523.2 295.3L524.8 294.8L526.4 294.2L527.9 293.8L529.5 293.3L531 292.8L532.5 292.4L534 292L535.5 291.7L537 291.3L538.5 291L539.9 290.7L541.4 290.5L542.8 290.2L544.2 289.9L545.6 289.6L547 289.4M518 308.6L515.6 307.9L513.2 307.1L510.8 306.3L508.4 305.5L506 304.8L503.7 304.2L501.3 303.7L499 303.5L496.7 303.3L494.4 303.2L492.1 303.1L489.9 303.1L487.6 303L485.4 303L483.2 302.8L481 302.7L478.8 302.5L476.7 302.4L474.5 302.2L472.4 301.8L470.3 301.4L468.2 300.9L466.1 300.4L464 299.8L461.9 299.2L459.9 298.5L457.8 297.8L455.8 296.9L453.8 295.9L451.7 294.5L449.7 292.7L447.7 290.7L445.7 288.6L443.7 286.1L441.7 283.1L439.7 280.1M486.1 307.2L488 307.3L489.9 306.9L491.8 306.3L493.6 305.6L495.4 304.9L497.2 304.2L499 303.5L500.8 302.7L502.6 302L504.3 301.3L506 300.6L507.7 299.9L509.4 299.2L511.1 298.5L512.8 297.8L514.5 297.2L516.1 296.6L517.7 296L519.4 295.5L521 294.9L522.6 294.4L524.1 293.9L525.7 293.4L527.2 292.9L528.8 292.5L530.3 292.1L531.8 291.7L533.3 291.4L534.8 291L536.3 290.7L537.7 290.5L539.2 290.2L540.6 289.9L542 289.7L543.4 289.4L544.8 289.1M519.8 307.9L517.3 307.2L514.9 306.4L512.5 305.6L510.2 304.8L507.8 304.1L505.4 303.5L503.1 303L500.8 302.7L498.5 302.5L496.2 302.4L493.9 302.3L491.7 302.2L489.4 302.2L487.2 302.1L485 301.9L482.8 301.7L480.6 301.5L478.5 301.4L476.3 301.1L474.2 300.8L472.1 300.3L470 299.8L467.9 299.2L465.8 298.7L463.7 298L461.7 297.4L459.6 296.6L457.6 295.7L455.6 294.7L453.6 293.3L451.6 291.6L449.5 289.6L447.5 287.5L445.6 285.1L443.6 282.2L441.6 279.3M483.8 307.3L485.7 307.3L487.6 306.9L489.4 306.2L491.3 305.5L493.1 304.8L494.9 304L496.7 303.3L498.5 302.5L500.3 301.8L502 301.1L503.7 300.3L505.5 299.6L507.2 298.9L508.9 298.2L510.5 297.5L512.2 296.9L513.8 296.3L515.5 295.7L517.1 295.1L518.7 294.6L520.3 294.1L521.9 293.6L523.4 293.1L525 292.6L526.5 292.2L528.1 291.8L529.6 291.4L531.1 291.1L532.6 290.8L534.1 290.5L535.5 290.2L537 289.9L538.4 289.7L539.8 289.4L541.3 289.1L542.7 288.9M521.5 307.2L519.1 306.5L516.7 305.7L514.3 304.9L511.9 304.1L509.5 303.4L507.2 302.8L504.9 302.3L502.6 302L500.3 301.8L498 301.6L495.7 301.5L493.5 301.4L491.2 301.3L489 301.2L486.8 301L484.6 300.8L482.4 300.6L480.3 300.3L478.1 300.1L476 299.7L473.9 299.2L471.8 298.6L469.7 298.1L467.6 297.5L465.5 296.9L463.5 296.2L461.4 295.4L459.4 294.5L457.4 293.5L455.4 292.2L453.4 290.5L451.4 288.6L449.4 286.5L447.4 284.2L445.4 281.3L443.4 278.5M481.5 307.5L483.4 307.4L485.3 306.9L487.1 306.2L489 305.5L490.8 304.7L492.6 304L494.4 303.2L496.2 302.4L498 301.6L499.7 300.9L501.5 300.1L503.2 299.4L504.9 298.7L506.6 298L508.3 297.3L509.9 296.6L511.6 296L513.2 295.4L514.9 294.8L516.5 294.3L518.1 293.7L519.7 293.2L521.2 292.8L522.8 292.3L524.3 291.9L525.9 291.5L527.4 291.1L528.9 290.8L530.4 290.5L531.9 290.2L533.3 289.9L534.8 289.6L536.2 289.4L537.7 289.1L539.1 288.9L540.5 288.6M523.2 306.5L520.8 305.8L518.4 305L516 304.2L513.6 303.4L511.3 302.7L508.9 302.1L506.6 301.6L504.3 301.3L502 301.1L499.7 300.9L497.5 300.7L495.2 300.6L493 300.5L490.8 300.3L488.6 300.1L486.4 299.8L484.2 299.6L482.1 299.3L479.9 299L477.8 298.6L475.7 298.1L473.6 297.6L471.5 297L469.4 296.4L467.3 295.8L465.3 295L463.2 294.3L461.2 293.4L459.2 292.4L457.2 291L455.2 289.4L453.2 287.5L451.2 285.5L449.2 283.2L447.2 280.5L445.2 277.7M479.2 307.7L481.1 307.6L483 307.1L484.8 306.3L486.7 305.5L488.5 304.7L490.3 303.9L492.1 303.1L493.9 302.3L495.7 301.5L497.5 300.7L499.2 299.9L500.9 299.2L502.6 298.4L504.3 297.7L506 297L507.7 296.4L509.4 295.7L511 295.1L512.6 294.5L514.2 294L515.8 293.4L517.4 292.9L519 292.4L520.6 292L522.1 291.6L523.7 291.2L525.2 290.8L526.7 290.5L528.2 290.1L529.7 289.8L531.1 289.6L532.6 289.3L534.1 289.1L535.5 288.8L536.9 288.5L538.3 288.3M524.9 305.8L522.5 305.1L520.1 304.3L517.7 303.5L515.3 302.7L513 302L510.7 301.4L508.3 300.9L506 300.6L503.7 300.3L501.5 300.1L499.2 299.9L497 299.8L494.7 299.6L492.5 299.4L490.3 299.2L488.1 298.9L486 298.7L483.8 298.4L481.7 298.1L479.6 297.6L477.4 297.1L475.3 296.5L473.3 295.9L471.2 295.3L469.1 294.7L467.1 294L465 293.2L463 292.3L461 291.3L459 290L457 288.3L455 286.5L453 284.6L451 282.3L449 279.7L447.1 277M476.9 308L478.8 307.8L480.7 307.2L482.6 306.4L484.4 305.6L486.3 304.8L488.1 303.9L489.9 303.1L491.7 302.2L493.5 301.4L495.2 300.6L497 299.8L498.7 299L500.4 298.2L502.1 297.5L503.8 296.8L505.5 296.1L507.1 295.4L508.8 294.8L510.4 294.2L512 293.7L513.6 293.1L515.2 292.6L516.8 292.1L518.4 291.7L519.9 291.2L521.5 290.8L523 290.5L524.5 290.1L526 289.8L527.5 289.5L529 289.2L530.4 289L531.9 288.7L533.3 288.5L534.8 288.2L536.2 287.9M526.6 305.1L524.2 304.4L521.8 303.6L519.4 302.8L517 302L514.7 301.3L512.4 300.7L510 300.2L507.7 299.9L505.5 299.6L503.2 299.4L500.9 299.2L498.7 299L496.5 298.8L494.3 298.6L492.1 298.3L489.9 298L487.7 297.7L485.6 297.4L483.4 297.1L481.3 296.7L479.2 296.1L477.1 295.5L475 294.9L472.9 294.3L470.9 293.6L468.8 292.9L466.8 292.1L464.8 291.2L462.8 290.2L460.8 288.9L458.8 287.4L456.8 285.6L454.8 283.7L452.8 281.5L450.8 278.9L448.9 276.4M474.6 308.2L476.6 308L478.4 307.3L480.3 306.5L482.2 305.6L484 304.8L485.8 303.9L487.6 303L489.4 302.2L491.2 301.3L493 300.5L494.7 299.6L496.5 298.8L498.2 298L499.9 297.3L501.6 296.5L503.3 295.8L504.9 295.2L506.6 294.5L508.2 293.9L509.8 293.4L511.4 292.8L513 292.3L514.6 291.8L516.2 291.3L517.8 290.9L519.3 290.5L520.8 290.1L522.3 289.8L523.9 289.5L525.3 289.2L526.8 288.9L528.3 288.6L529.8 288.4L531.2 288.1L532.6 287.8L534.1 287.6M528.2 304.3L525.8 303.6L523.5 302.9L521.1 302.1L518.7 301.3L516.4 300.6L514.1 300L511.7 299.6L509.4 299.2L507.2 298.9L504.9 298.7L502.6 298.4L500.4 298.2L498.2 298L496 297.8L493.8 297.5L491.6 297.2L489.5 296.9L487.3 296.6L485.2 296.2L483 295.7L480.9 295.2L478.8 294.6L476.8 294L474.7 293.3L472.6 292.7L470.6 291.9L468.6 291.1L466.5 290.3L464.5 289.3L462.5 288L460.5 286.5L458.6 284.8L456.6 282.9L454.6 280.8L452.6 278.3L450.7 275.8M472.4 308.4L474.3 308.1L476.2 307.4L478.1 306.6L479.9 305.7L481.8 304.8L483.6 303.9L485.4 303L487.2 302.1L489 301.2L490.8 300.3L492.5 299.4L494.3 298.6L496 297.8L497.7 297L499.4 296.3L501.1 295.5L502.7 294.9L504.4 294.2L506 293.6L507.7 293L509.3 292.5L510.9 291.9L512.5 291.4L514 291L515.6 290.5L517.1 290.1L518.7 289.7L520.2 289.4L521.7 289.1L523.2 288.8L524.7 288.5L526.2 288.2L527.6 288L529.1 287.7L530.5 287.4L531.9 287.2M529.9 303.6L527.5 302.9L525.1 302.1L522.7 301.4L520.4 300.7L518.1 300L515.7 299.4L513.4 298.9L511.1 298.5L508.9 298.2L506.6 298L504.3 297.7L502.1 297.5L499.9 297.3L497.7 297L495.5 296.7L493.3 296.4L491.2 296.1L489 295.7L486.9 295.3L484.8 294.9L482.7 294.3L480.6 293.7L478.5 293.1L476.4 292.4L474.4 291.8L472.3 291L470.3 290.2L468.3 289.4L466.3 288.4L464.3 287.2L462.3 285.7L460.3 284L458.3 282.2L456.4 280.2L454.4 277.7L452.4 275.3M470.2 308.6L472.1 308.2L474 307.5L475.9 306.6L477.7 305.6L479.6 304.7L481.4 303.8L483.2 302.8L485 301.9L486.8 301L488.6 300.1L490.3 299.2L492.1 298.3L493.8 297.5L495.5 296.7L497.2 295.9L498.9 295.2L500.6 294.5L502.2 293.8L503.9 293.2L505.5 292.6L507.1 292.1L508.7 291.5L510.3 291L511.9 290.6L513.4 290.1L515 289.7L516.5 289.3L518.1 289L519.6 288.7L521.1 288.4L522.6 288.1L524 287.8L525.5 287.5L527 287.3L528.4 287L529.8 286.7M531.5 302.8L529.1 302.2L526.8 301.4L524.4 300.7L522.1 300L519.7 299.3L517.4 298.7L515.1 298.2L512.8 297.8L510.5 297.5L508.3 297.3L506 297L503.8 296.8L501.6 296.5L499.4 296.3L497.2 295.9L495 295.6L492.9 295.3L490.7 294.9L488.6 294.5L486.5 294L484.4 293.4L482.3 292.8L480.2 292.2L478.2 291.6L476.1 290.9L474.1 290.1L472 289.4L470 288.5L468 287.5L466 286.3L464 284.9L462.1 283.3L460.1 281.5L458.1 279.6L456.2 277.2L454.2 274.9M468 308.7L469.9 308.3L471.8 307.5L473.7 306.6L475.5 305.6L477.4 304.6L479.2 303.6L481 302.7L482.8 301.7L484.6 300.8L486.4 299.8L488.1 298.9L489.9 298L491.6 297.2L493.3 296.4L495 295.6L496.7 294.8L498.4 294.1L500.1 293.5L501.7 292.8L503.3 292.2L505 291.7L506.6 291.1L508.2 290.6L509.7 290.1L511.3 289.7L512.9 289.3L514.4 288.9L515.9 288.6L517.5 288.2L519 287.9L520.5 287.7L521.9 287.4L523.4 287.1L524.9 286.8L526.3 286.6L527.7 286.3M533.2 302.1L530.8 301.4L528.4 300.7L526 300L523.7 299.3L521.4 298.6L519.1 298.1L516.8 297.6L514.5 297.2L512.2 296.9L509.9 296.6L507.7 296.4L505.5 296.1L503.3 295.8L501.1 295.5L498.9 295.2L496.7 294.8L494.6 294.5L492.4 294.1L490.3 293.7L488.2 293.2L486.1 292.6L484 292L481.9 291.4L479.9 290.7L477.8 290.1L475.8 289.3L473.8 288.5L471.8 287.7L469.8 286.8L467.8 285.6L465.8 284.2L463.8 282.6L461.8 280.9L459.9 279L457.9 276.8L456 274.5M465.8 308.9L467.7 308.4L469.6 307.6L471.5 306.6L473.3 305.6L475.2 304.5L477 303.5L478.8 302.5L480.6 301.5L482.4 300.6L484.2 299.6L486 298.7L487.7 297.7L489.5 296.9L491.2 296.1L492.9 295.3L494.6 294.5L496.2 293.8L497.9 293.1L499.6 292.5L501.2 291.8L502.8 291.3L504.4 290.7L506 290.2L507.6 289.7L509.2 289.3L510.7 288.9L512.3 288.5L513.8 288.1L515.3 287.8L516.9 287.5L518.4 287.2L519.8 286.9L521.3 286.7L522.8 286.4L524.2 286.1L525.7 285.8M534.8 301.4L532.4 300.7L530 300.1L527.7 299.4L525.3 298.7L523 298L520.7 297.4L518.4 297L516.1 296.6L513.8 296.3L511.6 296L509.4 295.7L507.1 295.4L504.9 295.2L502.7 294.9L500.6 294.5L498.4 294.1L496.2 293.8L494.1 293.4L492 293L489.9 292.5L487.8 291.9L485.7 291.2L483.6 290.6L481.6 290L479.5 289.3L477.5 288.6L475.5 287.8L473.5 286.9L471.5 286L469.5 284.9L467.5 283.5L465.5 282L463.6 280.4L461.6 278.5L459.7 276.4L457.7 274.3M463.6 309L465.5 308.5L467.4 307.6L469.3 306.5L471.2 305.5L473 304.5L474.9 303.4L476.7 302.4L478.5 301.4L480.3 300.3L482.1 299.3L483.8 298.4L485.6 297.4L487.3 296.6L489 295.7L490.7 294.9L492.4 294.1L494.1 293.4L495.8 292.7L497.4 292.1L499.1 291.4L500.7 290.9L502.3 290.3L503.9 289.8L505.5 289.3L507.1 288.8L508.6 288.4L510.2 288L511.7 287.7L513.3 287.4L514.8 287.1L516.3 286.8L517.8 286.5L519.2 286.2L520.7 285.9L522.2 285.7L523.6 285.4M536.4 300.7L534 300.1L531.6 299.4L529.3 298.7L526.9 298L524.6 297.4L522.3 296.9L520 296.4L517.7 296L515.5 295.7L513.2 295.4L511 295.1L508.8 294.8L506.6 294.5L504.4 294.2L502.2 293.8L500.1 293.5L497.9 293.1L495.8 292.7L493.7 292.3L491.6 291.8L489.5 291.2L487.4 290.5L485.3 289.9L483.3 289.2L481.2 288.6L479.2 287.8L477.2 287.1L475.2 286.3L473.2 285.3L471.2 284.2L469.2 282.9L467.2 281.4L465.3 279.9L463.3 278.1L461.4 276.1L459.4 274M461.4 309.1L463.4 308.4L465.3 307.5L467.1 306.5L469 305.4L470.9 304.3L472.7 303.2L474.5 302.2L476.3 301.1L478.1 300.1L479.9 299L481.7 298.1L483.4 297.1L485.2 296.2L486.9 295.3L488.6 294.5L490.3 293.7L492 293L493.7 292.3L495.3 291.6L497 291L498.6 290.4L500.2 289.8L501.8 289.3L503.4 288.8L505 288.4L506.6 288L508.1 287.6L509.6 287.2L511.2 286.9L512.7 286.6L514.2 286.3L515.7 286L517.2 285.7L518.6 285.5L520.1 285.2L521.5 284.9M537.9 300L535.6 299.4L533.2 298.8L530.9 298.1L528.5 297.4L526.2 296.8L523.9 296.3L521.6 295.8L519.4 295.5L517.1 295.1L514.9 294.8L512.6 294.5L510.4 294.2L508.2 293.9L506 293.6L503.9 293.2L501.7 292.8L499.6 292.5L497.4 292.1L495.3 291.6L493.2 291.1L491.1 290.5L489 289.9L487 289.2L484.9 288.6L482.9 287.9L480.9 287.2L478.9 286.4L476.8 285.6L474.9 284.7L472.9 283.7L470.9 282.4L468.9 281L467 279.5L465 277.8L463.1 275.8L461.2 273.9M459.3 309L461.2 308.3L463.1 307.3L465 306.2L466.9 305.1L468.7 304L470.6 302.9L472.4 301.8L474.2 300.8L476 299.7L477.8 298.6L479.6 297.6L481.3 296.7L483 295.7L484.8 294.9L486.5 294L488.2 293.2L489.9 292.5L491.6 291.8L493.2 291.1L494.9 290.5L496.5 289.9L498.1 289.3L499.7 288.8L501.3 288.3L502.9 287.9L504.5 287.4L506 287.1L507.6 286.7L509.1 286.4L510.6 286.1L512.1 285.8L513.6 285.5L515.1 285.2L516.6 285L518.1 284.7L519.5 284.4M539.5 299.3L537.1 298.7L534.8 298.1L532.4 297.5L530.1 296.9L527.8 296.3L525.5 295.7L523.2 295.3L521 294.9L518.7 294.6L516.5 294.3L514.2 294L512 293.7L509.8 293.4L507.7 293L505.5 292.6L503.3 292.2L501.2 291.8L499.1 291.4L497 291L494.9 290.5L492.8 289.9L490.7 289.2L488.6 288.6L486.6 288L484.6 287.3L482.5 286.6L480.5 285.8L478.5 285L476.5 284.2L474.5 283.1L472.6 281.9L470.6 280.5L468.7 279.1L466.7 277.5L464.8 275.6L462.9 273.7M457.1 308.8L459.1 308L461 307L462.9 305.9L464.7 304.7L466.6 303.6L468.4 302.5L470.3 301.4L472.1 300.3L473.9 299.2L475.7 298.1L477.4 297.1L479.2 296.1L480.9 295.2L482.7 294.3L484.4 293.4L486.1 292.6L487.8 291.9L489.5 291.2L491.1 290.5L492.8 289.9L494.4 289.3L496 288.7L497.6 288.2L499.2 287.7L500.8 287.3L502.4 286.9L504 286.5L505.5 286.1L507.1 285.8L508.6 285.5L510.1 285.2L511.6 285L513.1 284.7L514.6 284.4L516 284.2L517.5 283.9M541.1 298.7L538.7 298.1L536.3 297.5L534 296.9L531.7 296.3L529.4 295.7L527.1 295.2L524.8 294.8L522.6 294.4L520.3 294.1L518.1 293.7L515.8 293.4L513.6 293.1L511.4 292.8L509.3 292.5L507.1 292.1L505 291.7L502.8 291.3L500.7 290.9L498.6 290.4L496.5 289.9L494.4 289.3L492.3 288.7L490.3 288L488.2 287.4L486.2 286.7L484.2 286L482.2 285.3L480.2 284.5L478.2 283.7L476.2 282.6L474.2 281.5L472.3 280.2L470.3 278.8L468.4 277.3L466.5 275.5L464.5 273.7M455 308.5L457 307.7L458.9 306.6L460.8 305.5L462.6 304.3L464.5 303.2L466.3 302L468.2 300.9L470 299.8L471.8 298.6L473.6 297.6L475.3 296.5L477.1 295.5L478.8 294.6L480.6 293.7L482.3 292.8L484 292L485.7 291.2L487.4 290.5L489 289.9L490.7 289.2L492.3 288.7L494 288.1L495.6 287.6L497.2 287.1L498.8 286.7L500.4 286.3L501.9 285.9L503.5 285.6L505 285.2L506.5 284.9L508.1 284.7L509.6 284.4L511 284.1L512.5 283.9L514 283.6L515.5 283.4M542.6 298L540.2 297.4L537.9 296.9L535.6 296.3L533.3 295.7L530.9 295.2L528.7 294.7L526.4 294.2L524.1 293.9L521.9 293.6L519.7 293.2L517.4 292.9L515.2 292.6L513 292.3L510.9 291.9L508.7 291.5L506.6 291.1L504.4 290.7L502.3 290.3L500.2 289.8L498.1 289.3L496 288.7L494 288.1L491.9 287.5L489.9 286.8L487.8 286.2L485.8 285.5L483.8 284.8L481.8 284L479.8 283.2L477.9 282.2L475.9 281.1L474 279.8L472 278.5L470.1 277.1L468.1 275.4L466.2 273.7M452.9 308.2L454.8 307.3L456.8 306.2L458.6 305.1L460.5 303.9L462.4 302.7L464.2 301.5L466.1 300.4L467.9 299.2L469.7 298.1L471.5 297L473.3 295.9L475 294.9L476.8 294L478.5 293.1L480.2 292.2L481.9 291.4L483.6 290.6L485.3 289.9L487 289.2L488.6 288.6L490.3 288L491.9 287.5L493.5 287L495.1 286.5L496.7 286.1L498.3 285.7L499.9 285.3L501.4 285L503 284.7L504.5 284.4L506 284.1L507.5 283.8L509 283.6L510.5 283.3L512 283.1L513.4 282.8M544.1 297.4L541.8 296.8L539.4 296.3L537.1 295.7L534.8 295.2L532.5 294.6L530.2 294.2L527.9 293.8L525.7 293.4L523.4 293.1L521.2 292.8L519 292.4L516.8 292.1L514.6 291.8L512.5 291.4L510.3 291L508.2 290.6L506 290.2L503.9 289.8L501.8 289.3L499.7 288.8L497.6 288.2L495.6 287.6L493.5 287L491.5 286.3L489.5 285.7L487.5 285L485.5 284.3L483.5 283.5L481.5 282.7L479.5 281.8L477.5 280.7L475.6 279.5L473.7 278.3L471.7 276.9L469.8 275.3L467.9 273.7M450.8 307.8L452.8 306.9L454.7 305.8L456.6 304.6L458.4 303.4L460.3 302.2L462.1 301L464 299.8L465.8 298.7L467.6 297.5L469.4 296.4L471.2 295.3L472.9 294.3L474.7 293.3L476.4 292.4L478.2 291.6L479.9 290.7L481.6 290L483.3 289.2L484.9 288.6L486.6 288L488.2 287.4L489.9 286.8L491.5 286.3L493.1 285.9L494.7 285.4L496.3 285L497.9 284.7L499.4 284.4L501 284.1L502.5 283.8L504 283.5L505.5 283.3L507 283L508.5 282.8L510 282.5L511.5 282.3M545.6 296.7L543.3 296.2L541 295.7L538.6 295.1L536.3 294.6L534 294.1L531.8 293.7L529.5 293.3L527.2 292.9L525 292.6L522.8 292.3L520.6 292L518.4 291.7L516.2 291.3L514 291L511.9 290.6L509.7 290.1L507.6 289.7L505.5 289.3L503.4 288.8L501.3 288.3L499.2 287.7L497.2 287.1L495.1 286.5L493.1 285.9L491.1 285.2L489.1 284.5L487.1 283.8L485.1 283.1L483.1 282.4L481.1 281.5L479.2 280.4L477.2 279.3L475.3 278.1L473.4 276.8L471.4 275.3L469.5 273.8M448.7 307.4L450.7 306.5L452.6 305.3L454.5 304.1L456.4 302.8L458.2 301.6L460.1 300.4L461.9 299.2L463.7 298L465.5 296.9L467.3 295.8L469.1 294.7L470.9 293.6L472.6 292.7L474.4 291.8L476.1 290.9L477.8 290.1L479.5 289.3L481.2 288.6L482.9 287.9L484.6 287.3L486.2 286.7L487.8 286.2L489.5 285.7L491.1 285.2L492.7 284.8L494.3 284.4L495.8 284.1L497.4 283.7L499 283.5L500.5 283.2L502 282.9L503.5 282.7L505 282.4L506.5 282.2L508 282L509.5 281.7M547.2 296.1L544.8 295.6L542.5 295.1L540.2 294.6L537.8 294.1L535.6 293.6L533.3 293.2L531 292.8L528.8 292.5L526.5 292.2L524.3 291.9L522.1 291.6L519.9 291.2L517.8 290.9L515.6 290.5L513.4 290.1L511.3 289.7L509.2 289.3L507.1 288.8L505 288.4L502.9 287.9L500.8 287.3L498.8 286.7L496.7 286.1L494.7 285.4L492.7 284.8L490.7 284.1L488.7 283.5L486.7 282.8L484.7 282L482.8 281.1L480.8 280.2L478.9 279.1L476.9 278L475 276.7L473.1 275.3L471.2 273.9M446.7 306.9L448.6 305.9L450.5 304.7L452.4 303.5L454.3 302.2L456.2 301L458 299.7L459.9 298.5L461.7 297.4L463.5 296.2L465.3 295L467.1 294L468.8 292.9L470.6 291.9L472.3 291L474.1 290.1L475.8 289.3L477.5 288.6L479.2 287.8L480.9 287.2L482.5 286.6L484.2 286L485.8 285.5L487.5 285L489.1 284.5L490.7 284.1L492.3 283.8L493.8 283.4L495.4 283.1L497 282.8L498.5 282.6L500 282.3L501.5 282.1L503.1 281.9L504.5 281.7L506 281.4L507.5 281.2M548.6 295.5L546.3 295.1L544 294.6L541.7 294.1L539.4 293.6L537.1 293.2L534.8 292.8L532.5 292.4L530.3 292.1L528.1 291.8L525.9 291.5L523.7 291.2L521.5 290.8L519.3 290.5L517.1 290.1L515 289.7L512.9 289.3L510.7 288.9L508.6 288.4L506.6 288L504.5 287.4L502.4 286.9L500.4 286.3L498.3 285.7L496.3 285L494.3 284.4L492.3 283.8L490.3 283.1L488.3 282.4L486.3 281.7L484.4 280.9L482.4 279.9L480.5 278.9L478.5 277.9L476.6 276.7L474.7 275.4L472.8 274.1M444.6 306.3L446.6 305.2L448.5 304L450.4 302.8L452.2 301.5L454.1 300.2L456 299L457.8 297.8L459.6 296.6L461.4 295.4L463.2 294.3L465 293.2L466.8 292.1L468.6 291.1L470.3 290.2L472 289.4L473.8 288.5L475.5 287.8L477.2 287.1L478.9 286.4L480.5 285.8L482.2 285.3L483.8 284.8L485.5 284.3L487.1 283.8L488.7 283.5L490.3 283.1L491.8 282.8L493.4 282.5L495 282.2L496.5 282L498.1 281.8L499.6 281.5L501.1 281.3L502.6 281.1L504.1 280.9L505.5 280.7M550.1 295L547.8 294.5L545.5 294.1L543.1 293.6L540.8 293.2L538.6 292.8L536.3 292.4L534 292L531.8 291.7L529.6 291.4L527.4 291.1L525.2 290.8L523 290.5L520.8 290.1L518.7 289.7L516.5 289.3L514.4 288.9L512.3 288.5L510.2 288L508.1 287.6L506 287.1L504 286.5L501.9 285.9L499.9 285.3L497.9 284.7L495.8 284.1L493.8 283.4L491.8 282.8L489.9 282.1L487.9 281.4L485.9 280.6L484 279.8L482.1 278.8L480.1 277.8L478.2 276.7L476.3 275.5L474.4 274.3M442.6 305.5L444.5 304.4L446.4 303.2L448.3 301.9L450.2 300.6L452.1 299.4L453.9 298.1L455.8 296.9L457.6 295.7L459.4 294.5L461.2 293.4L463 292.3L464.8 291.2L466.5 290.3L468.3 289.4L470 288.5L471.8 287.7L473.5 286.9L475.2 286.3L476.8 285.6L478.5 285L480.2 284.5L481.8 284L483.5 283.5L485.1 283.1L486.7 282.8L488.3 282.4L489.9 282.1L491.4 281.9L493 281.6L494.5 281.4L496.1 281.2L497.6 281L499.1 280.8L500.6 280.6L502.1 280.4L503.6 280.2M551.6 294.4L549.2 294L546.9 293.6L544.6 293.2L542.3 292.8L540.1 292.4L537.8 292L535.5 291.7L533.3 291.4L531.1 291.1L528.9 290.8L526.7 290.5L524.5 290.1L522.3 289.8L520.2 289.4L518.1 289L515.9 288.6L513.8 288.1L511.7 287.7L509.6 287.2L507.6 286.7L505.5 286.1L503.5 285.6L501.4 285L499.4 284.4L497.4 283.7L495.4 283.1L493.4 282.5L491.4 281.9L489.5 281.2L487.5 280.4L485.6 279.6L483.6 278.7L481.7 277.8L479.8 276.8L477.9 275.7L476 274.5M440.5 304.5L442.5 303.4L444.4 302.1L446.3 300.9L448.2 299.6L450 298.3L451.9 297.1L453.8 295.9L455.6 294.7L457.4 293.5L459.2 292.4L461 291.3L462.8 290.2L464.5 289.3L466.3 288.4L468 287.5L469.8 286.8L471.5 286L473.2 285.3L474.9 284.7L476.5 284.2L478.2 283.7L479.8 283.2L481.5 282.7L483.1 282.4L484.7 282L486.3 281.7L487.9 281.4L489.5 281.2L491 281L492.6 280.8L494.1 280.6L495.7 280.4L497.2 280.3L498.7 280.1L500.2 279.9L501.6 279.7M553 293.9L550.7 293.5L548.4 293.2L546.1 292.8L543.8 292.4L541.5 292L539.3 291.7L537 291.3L534.8 291L532.6 290.8L530.4 290.5L528.2 290.1L526 289.8L523.9 289.5L521.7 289.1L519.6 288.7L517.5 288.2L515.3 287.8L513.3 287.4L511.2 286.9L509.1 286.4L507.1 285.8L505 285.2L503 284.7L501 284.1L499 283.5L497 282.8L495 282.2L493 281.6L491 281L489.1 280.3L487.1 279.5L485.2 278.7L483.3 277.8L481.4 276.9L479.5 275.8L477.6 274.8M438.5 303L440.4 301.9L442.4 300.7L444.3 299.4L446.1 298.2L448 296.9L449.9 295.7L451.7 294.5L453.6 293.3L455.4 292.2L457.2 291L459 290L460.8 288.9L462.5 288L464.3 287.2L466 286.3L467.8 285.6L469.5 284.9L471.2 284.2L472.9 283.7L474.5 283.1L476.2 282.6L477.9 282.2L479.5 281.8L481.1 281.5L482.8 281.1L484.4 280.9L485.9 280.6L487.5 280.4L489.1 280.3L490.6 280.1L492.2 280L493.7 279.8L495.2 279.7L496.7 279.6L498.2 279.4L499.7 279.3M554.5 293.5L552.1 293.1L549.8 292.7L547.5 292.4L545.3 292L543 291.7L540.7 291.3L538.5 291L536.3 290.7L534.1 290.5L531.9 290.2L529.7 289.8L527.5 289.5L525.3 289.2L523.2 288.8L521.1 288.4L519 287.9L516.9 287.5L514.8 287.1L512.7 286.6L510.6 286.1L508.6 285.5L506.5 284.9L504.5 284.4L502.5 283.8L500.5 283.2L498.5 282.6L496.5 282L494.5 281.4L492.6 280.8L490.6 280.1L488.7 279.4L486.8 278.6L484.9 277.8L483 276.9L481.1 276L479.2 275M436.5 301.1L438.4 300L440.3 298.8L442.2 297.6L444.1 296.3L446 295.1L447.9 293.9L449.7 292.7L451.6 291.6L453.4 290.5L455.2 289.4L457 288.3L458.8 287.4L460.5 286.5L462.3 285.7L464 284.9L465.8 284.2L467.5 283.5L469.2 282.9L470.9 282.4L472.6 281.9L474.2 281.5L475.9 281.1L477.5 280.7L479.2 280.4L480.8 280.2L482.4 279.9L484 279.8L485.6 279.6L487.1 279.5L488.7 279.4L490.3 279.3L491.8 279.2L493.3 279.1L494.8 279L496.3 278.9L497.8 278.8M555.9 293L553.6 292.7L551.3 292.3L549 292L546.7 291.7L544.4 291.3L542.2 291L539.9 290.7L537.7 290.5L535.5 290.2L533.3 289.9L531.1 289.6L529 289.2L526.8 288.9L524.7 288.5L522.6 288.1L520.5 287.7L518.4 287.2L516.3 286.8L514.2 286.3L512.1 285.8L510.1 285.2L508.1 284.7L506 284.1L504 283.5L502 282.9L500 282.3L498.1 281.8L496.1 281.2L494.1 280.6L492.2 280L490.3 279.3L488.3 278.6L486.4 277.8L484.5 277L482.6 276.2L480.7 275.3M434.4 298.9L436.4 297.8L438.3 296.6L440.2 295.4L442.1 294.2L444 293L445.9 291.9L447.7 290.7L449.5 289.6L451.4 288.6L453.2 287.5L455 286.5L456.8 285.6L458.6 284.8L460.3 284L462.1 283.3L463.8 282.6L465.5 282L467.2 281.4L468.9 281L470.6 280.5L472.3 280.2L474 279.8L475.6 279.5L477.2 279.3L478.9 279.1L480.5 278.9L482.1 278.8L483.6 278.7L485.2 278.7L486.8 278.6L488.3 278.6L489.9 278.5L491.4 278.5L492.9 278.5L494.4 278.5L495.9 278.4M557.3 292.5L555 292.2L552.7 291.9L550.4 291.6L548.1 291.3L545.9 291L543.6 290.7L541.4 290.5L539.2 290.2L537 289.9L534.8 289.6L532.6 289.3L530.4 289L528.3 288.6L526.2 288.2L524 287.8L521.9 287.4L519.8 286.9L517.8 286.5L515.7 286L513.6 285.5L511.6 285L509.6 284.4L507.5 283.8L505.5 283.3L503.5 282.7L501.5 282.1L499.6 281.5L497.6 281L495.7 280.4L493.7 279.8L491.8 279.2L489.9 278.5L488 277.9L486.1 277.2L484.2 276.4L482.3 275.6M432.4 296.5L434.3 295.4L436.3 294.2L438.2 293.1L440.1 291.9L442 290.8L443.8 289.7L445.7 288.6L447.5 287.5L449.4 286.5L451.2 285.5L453 284.6L454.8 283.7L456.6 282.9L458.3 282.2L460.1 281.5L461.8 280.9L463.6 280.4L465.3 279.9L467 279.5L468.7 279.1L470.3 278.8L472 278.5L473.7 278.3L475.3 278.1L476.9 278L478.5 277.9L480.1 277.8L481.7 277.8L483.3 277.8L484.9 277.8L486.4 277.8L488 277.9L489.5 277.9L491 277.9L492.5 278L494 278M558.7 292.1L556.4 291.8L554.1 291.5L551.8 291.3L549.5 291L547.3 290.7L545 290.5L542.8 290.2L540.6 289.9L538.4 289.7L536.2 289.4L534.1 289.1L531.9 288.7L529.8 288.4L527.6 288L525.5 287.5L523.4 287.1L521.3 286.7L519.2 286.2L517.2 285.7L515.1 285.2L513.1 284.7L511 284.1L509 283.6L507 283L505 282.4L503.1 281.9L501.1 281.3L499.1 280.8L497.2 280.3L495.2 279.7L493.3 279.1L491.4 278.5L489.5 277.9L487.6 277.3L485.7 276.6L483.8 275.9M430.4 293.6L432.3 292.6L434.3 291.5L436.2 290.4L438.1 289.3L440 288.2L441.8 287.1L443.7 286.1L445.6 285.1L447.4 284.2L449.2 283.2L451 282.3L452.8 281.5L454.6 280.8L456.4 280.2L458.1 279.6L459.9 279L461.6 278.5L463.3 278.1L465 277.8L466.7 277.5L468.4 277.3L470.1 277.1L471.7 276.9L473.4 276.8L475 276.7L476.6 276.7L478.2 276.7L479.8 276.8L481.4 276.9L483 276.9L484.5 277L486.1 277.2L487.6 277.3L489.1 277.4L490.6 277.5L492.1 277.5M560.1 291.7L557.8 291.4L555.5 291.2L553.2 290.9L550.9 290.7L548.7 290.4L546.5 290.2L544.2 289.9L542 289.7L539.8 289.4L537.7 289.1L535.5 288.8L533.3 288.5L531.2 288.1L529.1 287.7L527 287.3L524.9 286.8L522.8 286.4L520.7 285.9L518.6 285.5L516.6 285L514.6 284.4L512.5 283.9L510.5 283.3L508.5 282.8L506.5 282.2L504.5 281.7L502.6 281.1L500.6 280.6L498.7 280.1L496.7 279.6L494.8 279L492.9 278.5L491 277.9L489.1 277.4L487.2 276.8L485.4 276.2M428.3 290.1L430.3 289.1L432.2 288.1L434.1 287.1L436.1 286L438 285L439.8 284.1L441.7 283.1L443.6 282.2L445.4 281.3L447.2 280.5L449 279.7L450.8 278.9L452.6 278.3L454.4 277.7L456.2 277.2L457.9 276.8L459.7 276.4L461.4 276.1L463.1 275.8L464.8 275.6L466.5 275.5L468.1 275.4L469.8 275.3L471.4 275.3L473.1 275.3L474.7 275.4L476.3 275.5L477.9 275.7L479.5 275.8L481.1 276L482.6 276.2L484.2 276.4L485.7 276.6L487.2 276.8L488.7 276.9L490.2 277.1M561.5 291.2L559.2 291L556.9 290.8L554.6 290.5L552.3 290.3L550.1 290.1L547.9 289.9L545.6 289.6L543.4 289.4L541.3 289.1L539.1 288.9L536.9 288.5L534.8 288.2L532.6 287.8L530.5 287.4L528.4 287L526.3 286.6L524.2 286.1L522.2 285.7L520.1 285.2L518.1 284.7L516 284.2L514 283.6L512 283.1L510 282.5L508 282L506 281.4L504.1 280.9L502.1 280.4L500.2 279.9L498.2 279.4L496.3 278.9L494.4 278.5L492.5 278L490.6 277.5L488.7 276.9L486.9 276.4M426.3 286.6L428.3 285.6L430.2 284.7L432.1 283.7L434 282.8L435.9 281.9L437.8 281L439.7 280.1L441.6 279.3L443.4 278.5L445.2 277.7L447.1 277L448.9 276.4L450.7 275.8L452.4 275.3L454.2 274.9L456 274.5L457.7 274.3L459.4 274L461.2 273.9L462.9 273.7L464.5 273.7L466.2 273.7L467.9 273.7L469.5 273.8L471.2 273.9L472.8 274.1L474.4 274.3L476 274.5L477.6 274.8L479.2 275L480.7 275.3L482.3 275.6L483.8 275.9L485.4 276.2L486.9 276.4L488.4 276.7M562.8 290.8L560.5 290.6L558.3 290.4L556 290.2L553.7 290L551.5 289.8L549.3 289.6L547 289.4L544.8 289.1L542.7 288.9L540.5 288.6L538.3 288.3L536.2 287.9L534.1 287.6L531.9 287.2L529.8 286.7L527.7 286.3L525.7 285.8L523.6 285.4L521.5 284.9L519.5 284.4L517.5 283.9L515.5 283.4L513.4 282.8L511.5 282.3L509.5 281.7L507.5 281.2L505.5 280.7L503.6 280.2L501.6 279.7L499.7 279.3L497.8 278.8L495.9 278.4L494 278L492.1 277.5L490.2 277.1L488.4 276.7" fill="none" stroke="#061208" stroke-width="0.4" opacity="0.8"/>
<text transform="translate(353,213.6) scale(0.8,1)" font-size="5.4" fill="#252525" >Design-Expert® Software</text>
<text transform="translate(353,219.5) scale(0.8,1)" font-size="5.4" fill="#252525" >Factor Coding: Actual</text>
<text transform="translate(353,225.4) scale(0.8,1)" font-size="5.4" fill="#252525" >Desirability</text>
<rect x="354.8" y="227.2" width="2.4" height="15.8" fill="url(#cbar)" stroke="#222" stroke-width="0.3"/>
<text transform="translate(357.9,231.2) scale(0.8,1)" font-size="5.4" fill="#ff1818" >1.000</text>
<text transform="translate(357.9,243.2) scale(0.8,1)" font-size="5.4" fill="#2020ff" >0.000</text>
<text transform="translate(352.9,255) scale(0.8,1)" font-size="5.4" fill="#252525" >X1 = A: C.O amount</text>
<text transform="translate(352.9,260.9) scale(0.8,1)" font-size="5.4" fill="#252525" >X2 = B: PLGA</text>
<text transform="translate(352.9,272.7) scale(0.8,1)" font-size="5.4" fill="#252525" >Actual Factor</text>
<text transform="translate(352.9,278.6) scale(0.8,1)" font-size="5.4" fill="#252525" >C: PCL = 5.28549</text>
<text transform="translate(422.5,234) scale(0.9,1)" font-size="5.8" fill="#2a2a2a" text-anchor="end" >1.000</text>
<text transform="translate(423,251) scale(0.9,1)" font-size="5.8" fill="#2a2a2a" text-anchor="end" >0.800</text>
<text transform="translate(423.5,268) scale(0.9,1)" font-size="5.8" fill="#2a2a2a" text-anchor="end" >0.600</text>
<text transform="translate(423.9,285) scale(0.9,1)" font-size="5.8" fill="#2a2a2a" text-anchor="end" >0.400</text>
<text transform="translate(424.4,302) scale(0.9,1)" font-size="5.8" fill="#2a2a2a" text-anchor="end" >0.200</text>
<text transform="translate(424.9,318.9) scale(0.9,1)" font-size="5.8" fill="#2a2a2a" text-anchor="end" >0.000</text>
<text transform="translate(422.2,353.1) scale(0.86,1)" font-size="5.4" fill="#2a2a2a" text-anchor="middle" >1.2</text>
<text transform="translate(430.7,356.1) scale(0.86,1)" font-size="5.4" fill="#2a2a2a" text-anchor="middle" >1.1</text>
<text transform="translate(439.1,359.1) scale(0.86,1)" font-size="5.4" fill="#2a2a2a" text-anchor="middle" >1</text>
<text transform="translate(447.6,362.1) scale(0.86,1)" font-size="5.4" fill="#2a2a2a" text-anchor="middle" >0.9</text>
<text transform="translate(456.1,365.1) scale(0.86,1)" font-size="5.4" fill="#2a2a2a" text-anchor="middle" >0.8</text>
<text transform="translate(464.5,368.1) scale(0.86,1)" font-size="5.4" fill="#2a2a2a" text-anchor="middle" >0.7</text>
<text transform="translate(473,371.1) scale(0.86,1)" font-size="5.4" fill="#2a2a2a" text-anchor="middle" >0.6</text>
<text transform="translate(481.5,374.1) scale(0.86,1)" font-size="5.4" fill="#2a2a2a" text-anchor="middle" >0.5</text>
<text transform="translate(489.9,377.1) scale(0.86,1)" font-size="5.4" fill="#2a2a2a" text-anchor="middle" >0.4</text>
<text transform="translate(498.4,380) scale(0.86,1)" font-size="5.4" fill="#2a2a2a" text-anchor="middle" >0.3</text>
<text transform="translate(508.8,379.5) scale(0.86,1)" font-size="5.4" fill="#2a2a2a" text-anchor="middle" >8</text>
<text transform="translate(522.8,371.3) scale(0.86,1)" font-size="5.4" fill="#2a2a2a" text-anchor="middle" >7</text>
<text transform="translate(536.7,363) scale(0.86,1)" font-size="5.4" fill="#2a2a2a" text-anchor="middle" >6</text>
<text transform="translate(550.6,354.7) scale(0.86,1)" font-size="5.4" fill="#2a2a2a" text-anchor="middle" >5</text>
<text transform="translate(564.6,346.4) scale(0.86,1)" font-size="5.4" fill="#2a2a2a" text-anchor="middle" >4</text>
<text x="416.1" y="377.3" font-size="6.3" fill="#222" >A: C.O amount (ml)</text>
<text x="540.8" y="370.9" font-size="6.6" fill="#222" >B: PLGA (mg)</text>
<text transform="translate(406,291.8) rotate(-90)" font-size="7.6" fill="#222" text-anchor="middle">Desirability</text>
<text transform="translate(392.3,364) scale(0.85,1)" font-size="17.6" font-weight="bold" fill="#111">E</text>
<text x="402.6" y="357" font-size="5" fill="#111" >'</text>
<rect x="434.7" y="216.8" width="9.6" height="5.1" fill="#fff" stroke="#444" stroke-width="0.5"/>
<text transform="translate(439.5,220.6) scale(0.78,1)" font-size="4.6" fill="#333" text-anchor="middle" >0.455</text>
<line x1="443.2" y1="221.9" x2="443.2" y2="280" stroke="#2c2c2c" stroke-width="0.6" />
</svg></body></html>
